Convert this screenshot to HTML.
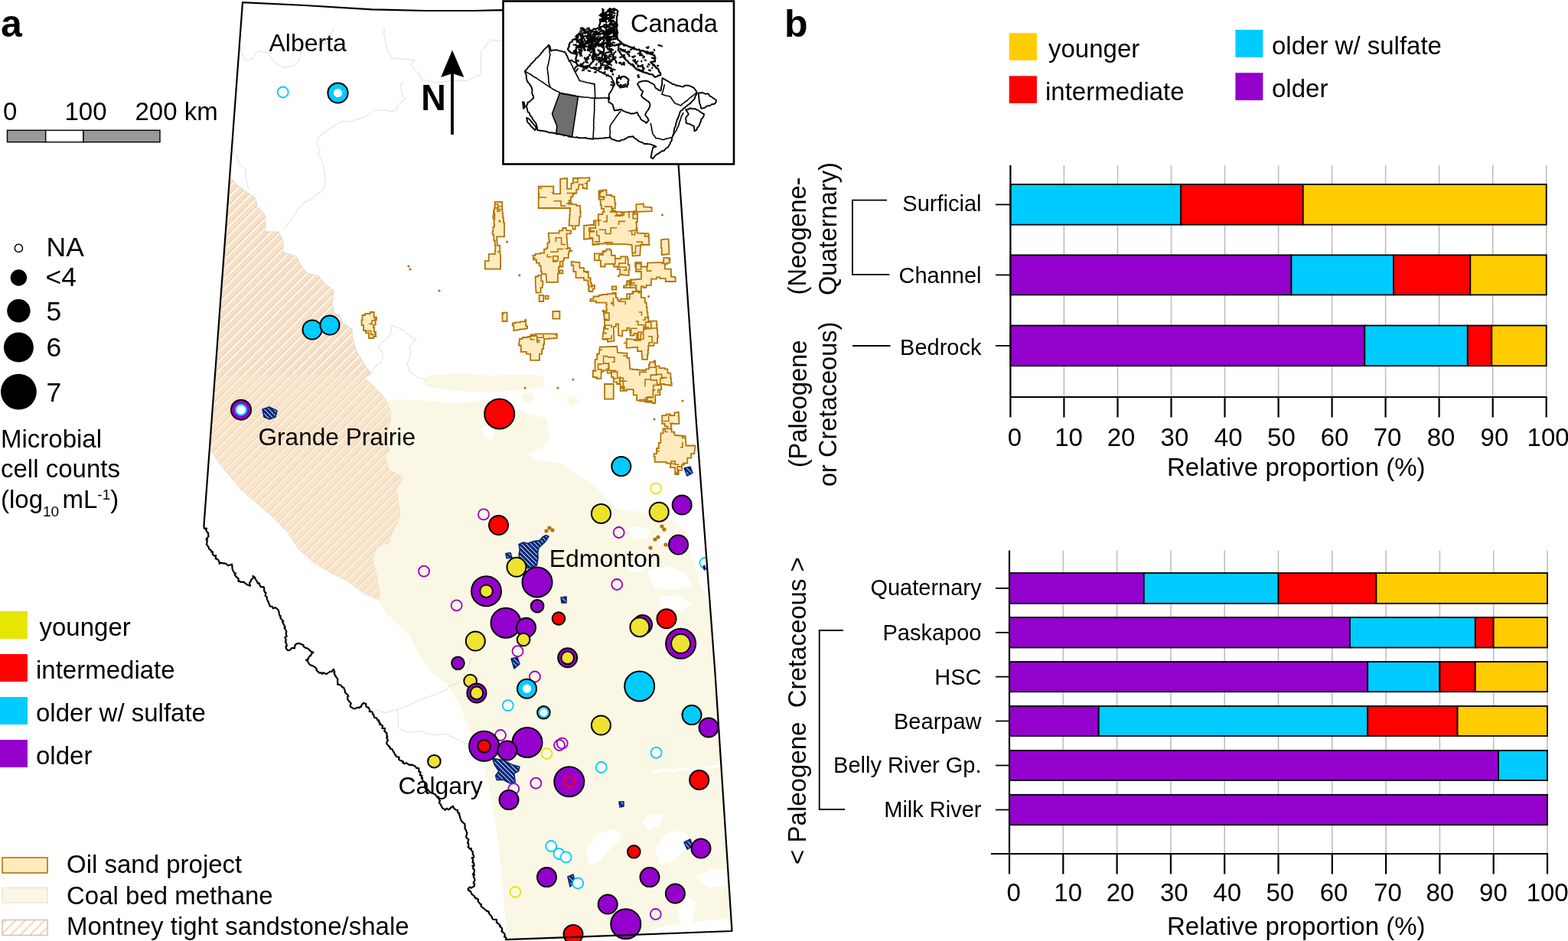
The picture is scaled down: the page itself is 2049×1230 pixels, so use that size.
<!DOCTYPE html>
<html><head><meta charset="utf-8"><title>Figure</title>
<style>html,body{margin:0;padding:0;background:#fff;} svg{display:block;}</style>
</head><body>
<svg width="2049" height="1230" viewBox="0 0 2049 1230" font-family="'Liberation Sans', Arial, Helvetica, sans-serif">
<defs>
<pattern id="hatch" patternUnits="userSpaceOnUse" width="8.9" height="8.9" patternTransform="rotate(45)"><rect width="8.9" height="8.9" fill="#FDDFC0"/><rect x="0" y="0" width="1.1" height="8.9" fill="#cfcbc5"/><rect x="1.1" y="0" width="1.8" height="8.9" fill="#ffffff"/></pattern>
<pattern id="hatchB" patternUnits="userSpaceOnUse" width="8.9" height="8.9" patternTransform="rotate(45)"><rect width="8.9" height="8.9" fill="#FCE3C5"/><rect x="0" y="0" width="1.1" height="8.9" fill="#d8d3c9"/><rect x="1.2" y="0" width="1.7" height="8.9" fill="#FCF6E6"/></pattern>
<pattern id="hatchleg" patternUnits="userSpaceOnUse" width="9" height="9" patternTransform="rotate(45)"><rect width="9" height="9" fill="#ffffff"/><rect x="0" y="0" width="2" height="9" fill="#F9D3B0"/></pattern>
<pattern id="navyhatch" patternUnits="userSpaceOnUse" width="4.2" height="4.2" patternTransform="rotate(-45)"><rect width="4.2" height="4.2" fill="#06287A"/><rect x="0" y="0" width="0.8" height="4.2" fill="#ffffff"/></pattern>
</defs>
<rect width="2049" height="1230" fill="#ffffff"/>
<polygon points="503.0,526.0 520.0,522.0 560.0,524.0 593.0,527.0 632.0,523.0 660.0,527.0 687.0,540.0 714.0,547.0 718.0,575.0 709.0,584.0 690.0,593.0 703.0,602.0 736.0,606.0 758.0,624.0 780.0,637.0 786.0,646.0 797.0,657.0 830.0,668.0 850.0,672.0 880.0,680.0 898.0,698.0 904.0,730.0 915.0,762.0 929.0,800.0 956.0,1217.0 663.0,1227.0 651.0,1100.0 645.0,1060.0 638.0,1023.0 625.0,985.0 612.0,951.0 600.0,920.0 586.0,896.0 566.0,880.0 550.0,860.0 544.0,848.0 536.0,831.0 506.0,803.0 495.0,786.0 496.4,778.4 492.2,753.5 486.7,731.4 492.2,714.8 508.8,709.3 511.6,698.2 522.6,676.1 519.8,651.2 517.1,640.2 526.8,623.6 508.8,615.3 503.3,595.9 508.8,587.6 503.0,575.0 510.0,551.0" fill="#FAF7E5" stroke="none"/>
<polygon points="552.0,500.0 560.0,490.0 600.0,488.0 640.0,491.0 680.0,489.0 711.0,491.0 711.0,505.0 690.0,509.0 660.0,511.0 640.0,513.0 600.0,511.0 575.0,508.0 560.0,506.0" fill="#FAF7E5" stroke="none"/>
<polygon points="683.0,515.0 695.0,513.0 700.0,522.0 690.0,528.0 682.0,524.0" fill="#FAF7E5" stroke="none"/>
<polygon points="740.0,520.0 752.0,517.0 756.0,526.0 745.0,530.0" fill="#FAF7E5" stroke="none"/>
<polygon points="630.0,560.0 640.0,555.0 648.0,562.0 642.0,575.0 633.0,572.0" fill="#ffffff" stroke="none"/>
<polygon points="800.0,650.0 815.0,646.0 835.0,652.0 832.0,665.0 815.0,668.0 802.0,662.0" fill="#ffffff" stroke="none"/>
<polygon points="870.0,662.0 885.0,660.0 900.0,666.0 895.0,676.0 875.0,676.0" fill="#ffffff" stroke="none"/>
<polygon points="820.0,690.0 835.0,688.0 850.0,694.0 845.0,705.0 826.0,704.0" fill="#ffffff" stroke="none"/>
<polygon points="855.0,700.0 870.0,698.0 886.0,704.0 880.0,712.0 860.0,712.0" fill="#ffffff" stroke="none"/>
<polygon points="845.0,745.0 870.0,740.0 895.0,748.0 905.0,765.0 880.0,772.0 855.0,768.0" fill="#ffffff" stroke="none"/>
<polygon points="860.0,780.0 885.0,778.0 905.0,790.0 890.0,798.0 865.0,795.0" fill="#ffffff" stroke="none"/>
<polygon points="820.0,735.0 838.0,730.0 850.0,740.0 835.0,748.0 822.0,746.0" fill="#ffffff" stroke="none"/>
<polygon points="765.0,1110.0 780.0,1090.0 800.0,1084.0 812.0,1088.0 808.0,1100.0 795.0,1112.0 785.0,1125.0 770.0,1131.0" fill="#ffffff" stroke="none"/>
<polygon points="839.0,1075.0 850.0,1064.0 866.0,1063.0 862.0,1078.0 848.0,1086.0" fill="#ffffff" stroke="none"/>
<polygon points="856.0,1110.0 870.0,1090.0 890.0,1085.0 902.0,1095.0 895.0,1112.0 880.0,1125.0 862.0,1130.0" fill="#ffffff" stroke="none"/>
<polygon points="910.0,1145.0 930.0,1137.0 948.0,1136.0 950.0,1158.0 925.0,1160.0" fill="#ffffff" stroke="none"/>
<polygon points="886.0,1190.0 900.0,1172.0 910.0,1180.0 905.0,1205.0 892.0,1215.0" fill="#ffffff" stroke="none"/>
<polygon points="833.0,1222.0 870.0,1210.0 910.0,1205.0 950.0,1200.0 955.0,1217.0 900.0,1221.0 860.0,1223.0" fill="#ffffff" stroke="none"/>
<polygon points="853.0,1008.0 866.0,1005.0 880.0,1006.0 895.0,1003.0 910.0,1004.0 925.0,1001.0 941.0,1000.0 941.0,1003.0 925.0,1004.0 910.0,1007.0 895.0,1006.0 880.0,1009.0 866.0,1008.0 853.0,1011.0" fill="#ffffff" stroke="none"/>
<polygon points="300.0,232.0 314.0,245.0 334.0,259.0 336.4,270.5 345.5,279.6 347.0,287.0 347.0,303.0 364.0,303.0 370.0,314.0 370.0,330.0 387.0,335.0 394.0,348.0 401.0,357.0 416.5,361.0 423.0,369.0 436.0,380.0 434.0,398.0 437.0,410.0 444.0,412.0 447.0,421.0 460.0,430.0 461.0,444.0 466.5,460.0 476.0,476.0 485.0,489.0 476.0,494.0 489.0,505.0 503.0,521.0 510.0,537.0 510.0,551.0 503.0,575.0 508.8,587.6 503.3,595.9 508.8,615.3 526.8,623.6 517.1,640.2 519.8,651.2 522.6,676.1 511.6,698.2 508.8,709.3 492.2,714.8 486.7,731.4 492.2,753.5 496.4,778.4 495.0,784.0 475.6,775.6 453.5,759.0 431.4,748.0 412.0,736.9 389.9,717.6 376.1,695.5 356.8,676.1 334.6,656.8 315.3,640.2 301.5,623.6 287.6,607.0 275.2,587.6 283.0,490.0 290.0,400.0 296.0,300.0" fill="url(#hatch)" stroke="#d8d0c8" stroke-width="0.8"/>
<clipPath id="mlow"><rect x="250" y="490" width="300" height="320"/></clipPath>
<polygon points="300.0,232.0 314.0,245.0 334.0,259.0 336.4,270.5 345.5,279.6 347.0,287.0 347.0,303.0 364.0,303.0 370.0,314.0 370.0,330.0 387.0,335.0 394.0,348.0 401.0,357.0 416.5,361.0 423.0,369.0 436.0,380.0 434.0,398.0 437.0,410.0 444.0,412.0 447.0,421.0 460.0,430.0 461.0,444.0 466.5,460.0 476.0,476.0 485.0,489.0 476.0,494.0 489.0,505.0 503.0,521.0 510.0,537.0 510.0,551.0 503.0,575.0 508.8,587.6 503.3,595.9 508.8,615.3 526.8,623.6 517.1,640.2 519.8,651.2 522.6,676.1 511.6,698.2 508.8,709.3 492.2,714.8 486.7,731.4 492.2,753.5 496.4,778.4 495.0,784.0 475.6,775.6 453.5,759.0 431.4,748.0 412.0,736.9 389.9,717.6 376.1,695.5 356.8,676.1 334.6,656.8 315.3,640.2 301.5,623.6 287.6,607.0 275.2,587.6 283.0,490.0 290.0,400.0 296.0,300.0" fill="url(#hatchB)" stroke="none" clip-path="url(#mlow)"/>
<polyline points="313.5,60.8 314.3,63.1 314.8,65.1 315.5,66.6 316.4,68.8 317.3,70.9 318.6,73.3 319.0,75.4 319.9,77.0 320.6,79.4 322.8,78.9 325.2,78.5 327.1,77.6 330.1,76.9 331.1,74.8 332.1,73.3 333.3,71.7 334.2,69.8 335.0,68.8 336.5,66.8 338.3,66.9 341.4,67.2 343.3,68.0 345.5,68.3 348.3,68.9 349.8,68.9 351.3,71.0 352.9,72.3 354.2,74.3 354.8,75.9 356.5,77.6 358.1,80.2 359.6,81.6 361.5,82.6 363.1,84.2 364.5,84.8 366.7,85.9 368.6,86.7 370.8,88.8 372.6,87.5 375.0,87.7 377.2,87.2 379.4,86.6 382.2,86.2 383.4,85.1 386.0,83.3 387.8,82.0 388.9,80.5 391.4,79.2 391.1,76.6 391.7,74.7 392.6,72.3 392.8,70.5 393.2,68.0 394.2,66.1 395.3,64.0 396.6,62.3 397.8,61.2 400.1,61.0 402.1,59.9 404.5,59.9 406.6,60.2 408.5,59.1 410.4,59.0 412.5,58.3 414.7,58.5 417.2,58.3 419.4,58.0 421.1,57.5 422.8,57.4 425.6,56.5 427.5,56.2 428.7,54.4 429.6,53.0 430.5,50.5 431.0,49.1 432.5,46.4 432.8,45.1 434.1,42.7 434.7,41.4 435.3,38.8 436.6,37.1" fill="none" stroke="#dcdcdc" stroke-width="1"/>
<polyline points="501.7,36.3 502.1,37.9 502.1,40.4 501.7,41.6 501.8,44.2 501.8,45.9 502.8,47.6 502.6,49.9 503.1,51.9 503.2,54.3 504.0,55.5 504.6,57.8 505.4,60.3 505.5,61.8 505.8,63.6 506.3,65.5 507.4,67.4 508.4,69.9 509.7,71.9 511.0,73.6 511.3,75.9 513.5,76.4 516.2,76.2 518.1,75.9 519.8,76.2 521.7,76.3 523.9,76.7 525.5,76.7 527.6,77.2 530.1,77.0 532.1,77.6 534.7,78.2 536.9,78.0 539.2,78.3 541.5,79.0 540.4,80.5 539.1,82.3 537.5,84.1 537.1,85.9 538.2,87.7 540.1,88.6 541.3,90.6 542.8,91.5 543.9,93.4 545.1,94.5 546.9,96.3 547.9,97.6 548.7,99.3 549.7,102.1 550.6,104.6 552.2,104.6 554.6,104.7 557.1,104.9 558.5,105.1 560.9,106.1 562.5,106.7 565.0,106.4 567.3,107.4 568.8,107.7 570.6,107.5 573.0,107.9 574.9,107.1 576.8,107.3 578.8,107.1 581.0,106.6 583.6,106.1 585.3,106.2 587.4,105.8 589.5,105.4 591.1,104.9 593.5,105.5 595.8,105.1 597.7,105.4 599.6,105.7 601.6,105.3 603.7,105.0 606.0,105.4 607.2,105.4 610.1,105.9 611.6,104.3 614.2,103.4 615.3,102.5 617.8,102.0 619.4,100.8 622.1,99.9 623.5,99.4 625.8,98.5 627.9,97.7 628.0,95.8 628.4,93.4 628.1,91.2 628.1,88.5 628.7,87.1 628.6,85.1 628.5,83.1 628.5,81.0 628.2,78.2 628.8,76.6 628.8,74.4 628.7,72.2 629.2,70.0 628.5,68.0 629.8,66.0 631.1,64.9 632.4,63.2 633.6,61.1 635.4,60.3 636.1,58.4 637.6,56.8 638.6,54.6 639.8,53.9 641.5,52.0 643.4,52.5 646.5,52.4 648.6,53.4 651.1,53.5 653.1,53.7 655.2,54.2" fill="none" stroke="#dcdcdc" stroke-width="1"/>
<polyline points="528.0,106.3 526.3,108.2 525.1,109.9 522.7,110.8 523.4,113.3 524.2,115.4 524.5,117.9 524.7,120.4 525.3,123.0 526.2,124.6 527.8,125.9 528.4,127.7 530.3,129.1 528.4,130.7 526.0,132.4 524.4,133.4 523.0,135.1 521.3,136.0 520.3,137.6 519.1,139.7 518.5,141.8 517.4,143.7 516.1,145.1 513.8,145.0 511.8,145.3 509.6,145.4 508.0,144.8 505.4,144.7 503.8,144.3 502.1,144.5 499.4,144.3 497.3,144.2 495.7,143.9 493.1,144.4 491.1,144.0 489.0,143.7 486.9,145.4 485.5,146.7 483.2,148.2 481.2,149.4 479.2,150.8 477.6,152.2 476.0,153.1 474.0,153.3 472.0,154.2 469.4,155.0 467.9,156.3 465.8,156.4 463.1,157.1 461.6,158.3 459.0,158.4 457.6,158.7 454.4,158.9 452.1,159.2 450.3,159.0 448.4,158.5 445.4,159.2 444.0,160.0 441.9,161.3 440.7,162.8 438.8,163.9 436.2,164.1 435.1,165.5 433.0,166.8 431.6,168.0 429.0,168.9 427.9,170.6 425.5,172.1 424.1,173.1 422.7,174.6 421.0,175.0 419.4,177.2 417.6,178.4 416.0,179.3 415.4,181.4 415.0,184.4 414.5,186.5 413.5,188.4 415.4,189.9 416.4,191.9 418.0,193.2 418.3,195.1 417.0,197.4 416.7,200.3 415.7,201.8 417.5,203.8 418.2,206.2 418.6,207.5 420.3,210.3 421.2,211.9 421.6,213.9 422.6,215.6 422.7,217.9 423.4,219.7 423.3,221.6 423.3,223.7 424.5,225.7 424.4,228.2 424.5,230.1 425.1,232.7 424.7,234.4 425.4,236.2 425.6,238.7 424.7,240.9 424.2,242.7 423.3,245.3 422.7,247.3 421.5,248.9 419.9,250.1 418.5,251.2 416.4,252.6 415.0,253.5 413.1,255.1 411.5,256.1 409.7,258.1 407.6,259.3 406.8,260.0 404.3,261.3 403.3,261.7 401.3,263.4 398.9,264.2 397.1,264.6 395.6,265.7 394.5,267.6 392.7,269.6 391.2,271.1 390.2,272.8 389.2,274.0 387.5,276.0 386.9,277.8 385.5,279.6 384.6,281.3 382.9,283.1 381.8,285.2 380.9,287.2 380.1,289.0 378.1,290.1 376.7,291.8 375.5,293.3 374.8,294.8 373.6,297.2 372.2,298.1 370.6,300.0" fill="none" stroke="#dcdcdc" stroke-width="1"/>
<polyline points="308.9,202.1 309.7,204.8 309.5,206.2 310.8,208.5 311.3,210.9 311.9,213.5 313.3,215.2 315.4,216.2 316.8,217.9 318.4,218.8 320.9,220.8 321.1,222.3 320.9,224.0 321.6,226.0 321.2,228.0 321.7,231.0 321.6,232.3 322.1,234.8 322.4,236.3 323.0,239.0 323.0,240.4 323.8,243.6 324.0,245.1 325.0,247.7" fill="none" stroke="#dcdcdc" stroke-width="1"/>
<polyline points="490.0,928.6 492.0,928.3 494.2,928.8 495.8,929.2 498.7,929.7 500.4,930.9 502.2,930.9 504.9,931.6 506.4,930.9 509.3,930.4 511.3,929.0 512.5,928.8 514.5,928.5 516.9,927.4 519.6,926.6 519.6,928.4 519.4,931.0 519.6,932.5 520.1,934.7 520.3,936.7 520.3,938.5 520.3,941.4 520.4,942.9 520.9,945.5 520.9,946.8 520.3,949.2 520.4,950.7 522.7,952.5 524.3,953.3 526.8,954.3 527.8,954.4 530.5,956.2 531.6,956.4 534.0,957.2 535.4,957.0 538.0,957.0 540.3,956.6 542.3,957.0 543.9,956.6 546.2,955.9 548.5,956.1 550.1,956.3 551.6,956.3 553.7,957.4 555.9,958.0 558.4,958.8 559.9,958.9 562.5,959.5 564.0,960.4 566.6,960.7 568.2,960.2 570.3,960.7 572.3,960.7 574.3,960.0 576.8,960.2 578.9,959.5 580.5,959.0 582.6,959.5 584.1,959.9 585.8,961.0 588.0,962.4 590.0,963.2 591.4,963.6 593.7,964.2 595.3,965.6 596.6,966.1 599.2,967.0 600.9,968.0 602.6,969.3 604.4,970.1 606.8,970.6 607.9,971.2 610.2,972.2" fill="none" stroke="#dcdcdc" stroke-width="1"/>
<polyline points="521.3,926.5 523.1,925.6 525.4,925.3 527.7,924.3 529.1,923.7 531.7,923.1 533.8,921.6 535.6,921.0 537.6,920.1 539.6,919.1 540.7,918.6 543.1,917.0 544.6,916.8 546.6,915.1 548.7,914.8 549.8,913.9 552.5,913.2 554.6,912.5 555.7,912.0 558.5,911.7 560.5,911.1 562.6,910.0 563.8,909.1 565.8,909.2 568.6,908.4 570.7,907.1 572.5,905.9 574.1,905.5 576.0,904.6 578.5,903.6 580.2,902.7 582.6,902.6 584.2,900.1 586.1,897.7 588.4,896.6 589.8,895.4 592.2,894.8 594.7,894.1 596.5,893.0 599.1,893.0 600.3,890.5 601.5,889.5 602.5,887.8 604.0,886.0 605.0,884.0 606.3,882.8 606.9,881.2 608.7,879.4 609.3,878.1 611.2,876.7 611.7,874.6 612.2,872.2 612.9,870.2 613.2,868.7 613.8,866.7 613.9,863.9 614.2,862.3 615.1,860.0" fill="none" stroke="#dcdcdc" stroke-width="1"/>
<polyline points="557.4,495.9 555.5,496.2 553.3,495.7 551.2,494.8 548.2,494.6 545.9,493.5 544.4,492.8 543.1,491.2 540.9,489.7 539.8,488.7 538.1,487.6 536.5,486.5 535.2,484.8 534.1,482.5 533.4,479.9 533.3,477.9 532.0,475.6 533.0,473.3 533.3,471.9 534.8,470.2 535.2,467.7 535.9,465.8 536.2,463.9 536.7,461.7 537.0,459.4 536.4,457.7 535.6,454.9 535.0,452.7 536.3,451.4 538.2,449.6 538.9,448.5 540.9,447.1 542.0,445.3 544.1,444.0 541.9,442.5 539.8,442.5 538.2,440.7 536.4,439.9 534.8,438.8 533.1,437.7 531.4,436.0 529.4,434.1 528.2,432.3 526.5,431.3 524.3,431.1 522.7,429.5 520.6,428.6 519.2,427.8 517.0,427.4 514.7,426.5 511.9,425.9 511.7,427.3 511.4,429.5 510.6,431.6 511.2,434.1 510.3,436.0 509.9,438.1 508.3,439.7 507.4,440.7 505.7,442.0 504.4,443.8 503.1,444.4 501.6,445.9 499.4,447.5 498.4,448.5 497.0,450.7 495.6,452.0 493.6,452.8 495.0,454.7 497.0,457.1 497.7,458.5 499.4,460.8 500.6,461.7 499.8,464.0 499.8,466.2 499.5,468.6 498.4,471.4 498.4,473.7 496.7,474.7 494.3,476.5 493.1,477.3 490.7,479.0 489.7,480.5 488.4,482.4 486.3,483.2 485.4,484.8 484.1,487.1 482.6,488.8 481.3,490.4 480.2,491.7" fill="none" stroke="#dcdcdc" stroke-width="1"/>
<clipPath id="oc0"><polygon points="647.3,263.9 656.1,263.9 656.6,278.5 657.1,278.5 657.1,281.6 657.1,284.7 657.6,284.7 658.0,284.7 658.0,287.8 658.0,290.9 658.5,290.9 659.0,290.9 659.0,294.0 659.0,294.0 659.0,309.4 651.7,309.4 649.3,309.4 649.3,314.3 649.3,314.3 650.1,320.8 653.3,320.8 653.3,325.7 653.3,325.7 653.3,330.6 654.1,333.8 654.1,351.7 633.8,351.7 633.8,341.1 638.7,341.1 638.7,332.2 646.8,332.2 647.6,320.8 646.8,320.8 646.8,317.6 646.8,314.3 646.0,314.3 646.0,314.3 645.2,314.3 645.2,310.5 645.2,306.7 644.4,306.7 643.6,306.7 643.6,302.9 643.6,302.9 644.4,302.9 644.4,299.7 644.4,296.4 645.2,296.4 646.0,296.4 646.0,293.2 646.0,293.2 645.5,293.2 645.5,289.4 645.5,285.6 644.9,285.6 644.4,285.6 644.4,281.8 644.4,281.8 644.9,281.8 644.9,278.5 644.9,275.3 645.5,275.3 646.0,275.3 646.0,272.0 646.0,272.0 646.6,272.0 646.6,267.9 646.6,263.9 647.3,263.9"/></clipPath>
<polygon points="647.3,263.9 656.1,263.9 656.6,278.5 657.1,278.5 657.1,281.6 657.1,284.7 657.6,284.7 658.0,284.7 658.0,287.8 658.0,290.9 658.5,290.9 659.0,290.9 659.0,294.0 659.0,294.0 659.0,309.4 651.7,309.4 649.3,309.4 649.3,314.3 649.3,314.3 650.1,320.8 653.3,320.8 653.3,325.7 653.3,325.7 653.3,330.6 654.1,333.8 654.1,351.7 633.8,351.7 633.8,341.1 638.7,341.1 638.7,332.2 646.8,332.2 647.6,320.8 646.8,320.8 646.8,317.6 646.8,314.3 646.0,314.3 646.0,314.3 645.2,314.3 645.2,310.5 645.2,306.7 644.4,306.7 643.6,306.7 643.6,302.9 643.6,302.9 644.4,302.9 644.4,299.7 644.4,296.4 645.2,296.4 646.0,296.4 646.0,293.2 646.0,293.2 645.5,293.2 645.5,289.4 645.5,285.6 644.9,285.6 644.4,285.6 644.4,281.8 644.4,281.8 644.9,281.8 644.9,278.5 644.9,275.3 645.5,275.3 646.0,275.3 646.0,272.0 646.0,272.0 646.6,272.0 646.6,267.9 646.6,263.9 647.3,263.9" fill="#FFEBBE" stroke="#B07406" stroke-width="1.8" stroke-linejoin="miter"/>
<g clip-path="url(#oc0)"><polyline points="649.5,329.0 657.9,329.0 657.9,321.5" fill="none" stroke="#B07406" stroke-width="1.6"/><polyline points="656.5,273.8 650.8,273.8 650.8,266.8 642.7,266.8 642.7,271.8 646.8,271.8" fill="none" stroke="#B07406" stroke-width="1.6"/><polyline points="653.9,276.1 650.0,276.1 650.0,271.6 640.2,271.6 640.2,262.5 645.4,262.5" fill="none" stroke="#B07406" stroke-width="1.6"/><polyline points="638.8,340.8 629.2,340.8 629.2,331.1 634.3,331.1" fill="none" stroke="#B07406" stroke-width="1.6"/><polyline points="642.9,278.5 646.4,278.5 646.4,287.2 639.2,287.2" fill="none" stroke="#B07406" stroke-width="1.6"/><polyline points="651.6,269.7 658.0,269.7 658.0,274.0 665.9,274.0 665.9,269.2" fill="none" stroke="#B07406" stroke-width="1.6"/><polyline points="657.5,347.2 660.6,347.2 660.6,352.8 654.4,352.8 654.4,345.4" fill="none" stroke="#B07406" stroke-width="1.6"/><polyline points="657.9,274.4 663.3,274.4 663.3,283.6 671.7,283.6" fill="none" stroke="#B07406" stroke-width="1.6"/></g>
<clipPath id="oc1"><polygon points="703.7,243.6 723.3,243.6 723.3,253.3 732.2,253.3 732.2,233.8 741.1,233.0 741.1,246.8 745.2,246.8 746.4,246.8 746.4,243.4 746.4,239.9 747.7,239.9 748.9,239.9 748.9,236.4 748.9,233.0 750.1,233.0 750.1,233.0 770.4,232.2 770.4,236.3 767.2,237.1 767.2,246.8 763.1,246.0 761.5,246.0 761.5,241.1 761.5,241.1 756.6,241.1 755.8,247.6 753.3,247.6 753.3,252.5 753.3,252.5 750.1,252.5 750.1,254.1 750.1,254.1 748.5,254.1 748.5,257.4 748.5,257.4 746.0,257.4 746.0,262.3 746.0,262.3 743.6,262.3 743.6,264.7 743.6,264.7 746.9,264.7 746.9,265.9 746.9,267.2 750.1,267.2 750.1,267.2 753.4,267.2 753.4,268.0 753.4,268.8 756.6,268.8 756.6,268.8 758.2,268.8 758.2,272.9 758.2,276.9 759.8,276.9 759.8,276.9 758.6,276.9 758.6,280.1 758.6,283.4 757.4,283.4 757.4,283.4 756.6,294.8 751.7,294.8 751.7,299.7 751.7,299.7 748.5,299.7 748.5,294.8 748.5,294.8 743.6,294.8 743.6,293.2 743.6,293.2 743.8,293.2 743.8,290.2 743.8,287.1 744.1,287.1 744.3,287.1 744.3,284.1 744.3,281.1 744.5,281.1 744.7,281.1 744.7,278.1 744.7,275.0 745.0,275.0 745.2,275.0 745.2,272.0 745.2,272.0 725.7,272.0 703.7,272.0"/></clipPath>
<polygon points="703.7,243.6 723.3,243.6 723.3,253.3 732.2,253.3 732.2,233.8 741.1,233.0 741.1,246.8 745.2,246.8 746.4,246.8 746.4,243.4 746.4,239.9 747.7,239.9 748.9,239.9 748.9,236.4 748.9,233.0 750.1,233.0 750.1,233.0 770.4,232.2 770.4,236.3 767.2,237.1 767.2,246.8 763.1,246.0 761.5,246.0 761.5,241.1 761.5,241.1 756.6,241.1 755.8,247.6 753.3,247.6 753.3,252.5 753.3,252.5 750.1,252.5 750.1,254.1 750.1,254.1 748.5,254.1 748.5,257.4 748.5,257.4 746.0,257.4 746.0,262.3 746.0,262.3 743.6,262.3 743.6,264.7 743.6,264.7 746.9,264.7 746.9,265.9 746.9,267.2 750.1,267.2 750.1,267.2 753.4,267.2 753.4,268.0 753.4,268.8 756.6,268.8 756.6,268.8 758.2,268.8 758.2,272.9 758.2,276.9 759.8,276.9 759.8,276.9 758.6,276.9 758.6,280.1 758.6,283.4 757.4,283.4 757.4,283.4 756.6,294.8 751.7,294.8 751.7,299.7 751.7,299.7 748.5,299.7 748.5,294.8 748.5,294.8 743.6,294.8 743.6,293.2 743.6,293.2 743.8,293.2 743.8,290.2 743.8,287.1 744.1,287.1 744.3,287.1 744.3,284.1 744.3,281.1 744.5,281.1 744.7,281.1 744.7,278.1 744.7,275.0 745.0,275.0 745.2,275.0 745.2,272.0 745.2,272.0 725.7,272.0 703.7,272.0" fill="#FFEBBE" stroke="#B07406" stroke-width="1.8" stroke-linejoin="miter"/>
<g clip-path="url(#oc1)"><polyline points="710.9,282.7 714.2,282.7 714.2,278.3 723.6,278.3 723.6,283.2" fill="none" stroke="#B07406" stroke-width="1.6"/><polyline points="750.6,238.4 754.8,238.4 754.8,231.0 764.8,231.0 764.8,223.0" fill="none" stroke="#B07406" stroke-width="1.6"/><polyline points="709.1,272.7 704.4,272.7 704.4,281.5 712.0,281.5 712.0,278.1 703.4,278.1" fill="none" stroke="#B07406" stroke-width="1.6"/><polyline points="726.0,246.2 729.7,246.2 729.7,251.8 720.8,251.8" fill="none" stroke="#B07406" stroke-width="1.6"/><polyline points="723.4,262.8 733.1,262.8 733.1,269.1 739.4,269.1" fill="none" stroke="#B07406" stroke-width="1.6"/><polyline points="763.9,239.8 772.9,239.8 772.9,236.2 779.5,236.2" fill="none" stroke="#B07406" stroke-width="1.6"/><polyline points="740.3,266.1 748.1,266.1 748.1,257.8" fill="none" stroke="#B07406" stroke-width="1.6"/><polyline points="727.9,279.8 732.8,279.8 732.8,289.4 740.3,289.4 740.3,283.1" fill="none" stroke="#B07406" stroke-width="1.6"/><polyline points="755.3,254.2 760.3,254.2 760.3,259.6 768.5,259.6 768.5,265.1" fill="none" stroke="#B07406" stroke-width="1.6"/><polyline points="759.9,290.9 769.6,290.9 769.6,284.2 765.2,284.2 765.2,293.8 770.2,293.8" fill="none" stroke="#B07406" stroke-width="1.6"/><polyline points="709.0,277.5 701.6,277.5 701.6,282.6 709.7,282.6 709.7,278.2 717.1,278.2" fill="none" stroke="#B07406" stroke-width="1.6"/><polyline points="715.8,283.4 705.9,283.4 705.9,279.3 702.1,279.3" fill="none" stroke="#B07406" stroke-width="1.6"/><polyline points="768.3,264.8 774.5,264.8 774.5,272.4" fill="none" stroke="#B07406" stroke-width="1.6"/><polyline points="708.5,246.0 703.0,246.0 703.0,255.0 695.2,255.0 695.2,264.7" fill="none" stroke="#B07406" stroke-width="1.6"/><polyline points="740.4,252.5 750.0,252.5 750.0,262.3 744.1,262.3 744.1,268.5" fill="none" stroke="#B07406" stroke-width="1.6"/><polyline points="714.2,258.0 704.4,258.0 704.4,252.6 698.7,252.6 698.7,259.5 693.4,259.5" fill="none" stroke="#B07406" stroke-width="1.6"/><polyline points="762.2,270.3 772.0,270.3 772.0,275.3 777.7,275.3 777.7,268.2 785.9,268.2" fill="none" stroke="#B07406" stroke-width="1.6"/></g>
<clipPath id="oc2"><polygon points="782.6,249.3 789.3,248.5 792.5,248.5 792.5,251.8 792.5,255.0 795.6,255.0 795.6,255.0 799.2,255.0 799.2,255.8 799.2,256.6 802.9,256.6 802.9,256.6 803.7,265.5 805.4,266.3 803.8,266.3 803.8,269.3 803.8,272.3 802.1,272.3 800.5,272.3 800.5,275.3 800.5,275.3 804.3,275.3 804.3,276.1 804.3,276.9 808.1,276.9 811.9,276.9 811.9,277.7 811.9,277.7 815.1,277.7 815.1,277.4 815.1,277.2 818.4,277.2 821.6,277.2 821.6,276.9 821.6,276.6 824.9,276.6 828.1,276.6 828.1,276.4 828.1,276.1 831.4,276.1 831.4,276.1 831.4,267.2 841.1,266.3 841.1,270.4 851.7,271.2 851.7,276.1 833.0,276.9 833.0,289.9 831.4,289.9 831.4,291.5 831.4,291.5 831.8,291.5 831.8,294.8 831.8,298.1 832.2,298.1 832.6,298.1 832.6,301.3 832.6,304.6 833.0,304.6 833.0,304.6 847.6,305.4 848.5,320.0 837.1,320.0 836.3,333.8 826.5,334.6 825.7,320.0 816.7,319.2 797.2,319.2 792.4,319.2 792.4,317.6 792.4,317.6 789.1,317.6 789.1,318.1 789.1,318.6 785.9,318.6 782.6,318.6 782.6,319.0 782.6,319.5 779.4,319.5 776.1,319.5 776.1,320.0 776.1,320.0 774.5,320.0 774.5,315.9 774.5,311.9 772.8,311.9 772.8,311.9 763.1,312.7 763.1,294.8 772.8,294.0 776.0,294.0 776.0,291.1 776.0,288.3 779.3,288.3 779.3,288.3 781.8,288.3 781.8,284.2 781.8,280.2 784.2,280.2 784.2,280.2 787.5,280.2 787.5,278.5 787.5,276.9 790.7,276.9 790.7,276.9 789.1,276.9 789.1,272.8 789.1,272.8 785.8,272.8 785.8,268.0 785.8,268.0 784.7,268.0 784.7,264.5 784.7,260.9 783.7,260.9 782.6,260.9 782.6,257.4 782.6,257.4"/></clipPath>
<polygon points="782.6,249.3 789.3,248.5 792.5,248.5 792.5,251.8 792.5,255.0 795.6,255.0 795.6,255.0 799.2,255.0 799.2,255.8 799.2,256.6 802.9,256.6 802.9,256.6 803.7,265.5 805.4,266.3 803.8,266.3 803.8,269.3 803.8,272.3 802.1,272.3 800.5,272.3 800.5,275.3 800.5,275.3 804.3,275.3 804.3,276.1 804.3,276.9 808.1,276.9 811.9,276.9 811.9,277.7 811.9,277.7 815.1,277.7 815.1,277.4 815.1,277.2 818.4,277.2 821.6,277.2 821.6,276.9 821.6,276.6 824.9,276.6 828.1,276.6 828.1,276.4 828.1,276.1 831.4,276.1 831.4,276.1 831.4,267.2 841.1,266.3 841.1,270.4 851.7,271.2 851.7,276.1 833.0,276.9 833.0,289.9 831.4,289.9 831.4,291.5 831.4,291.5 831.8,291.5 831.8,294.8 831.8,298.1 832.2,298.1 832.6,298.1 832.6,301.3 832.6,304.6 833.0,304.6 833.0,304.6 847.6,305.4 848.5,320.0 837.1,320.0 836.3,333.8 826.5,334.6 825.7,320.0 816.7,319.2 797.2,319.2 792.4,319.2 792.4,317.6 792.4,317.6 789.1,317.6 789.1,318.1 789.1,318.6 785.9,318.6 782.6,318.6 782.6,319.0 782.6,319.5 779.4,319.5 776.1,319.5 776.1,320.0 776.1,320.0 774.5,320.0 774.5,315.9 774.5,311.9 772.8,311.9 772.8,311.9 763.1,312.7 763.1,294.8 772.8,294.0 776.0,294.0 776.0,291.1 776.0,288.3 779.3,288.3 779.3,288.3 781.8,288.3 781.8,284.2 781.8,280.2 784.2,280.2 784.2,280.2 787.5,280.2 787.5,278.5 787.5,276.9 790.7,276.9 790.7,276.9 789.1,276.9 789.1,272.8 789.1,272.8 785.8,272.8 785.8,268.0 785.8,268.0 784.7,268.0 784.7,264.5 784.7,260.9 783.7,260.9 782.6,260.9 782.6,257.4 782.6,257.4" fill="#FFEBBE" stroke="#B07406" stroke-width="1.8" stroke-linejoin="miter"/>
<g clip-path="url(#oc2)"><polyline points="789.8,270.1 799.4,270.1 799.4,276.6" fill="none" stroke="#B07406" stroke-width="1.6"/><polyline points="788.5,289.6 793.2,289.6 793.2,281.1" fill="none" stroke="#B07406" stroke-width="1.6"/><polyline points="836.4,249.6 826.8,249.6 826.8,244.9 835.7,244.9 835.7,250.0" fill="none" stroke="#B07406" stroke-width="1.6"/><polyline points="817.0,289.4 808.6,289.4 808.6,294.3" fill="none" stroke="#B07406" stroke-width="1.6"/><polyline points="825.8,301.3 831.3,301.3 831.3,298.1" fill="none" stroke="#B07406" stroke-width="1.6"/><polyline points="785.5,287.7 782.4,287.7 782.4,294.9" fill="none" stroke="#B07406" stroke-width="1.6"/><polyline points="824.1,330.6 830.5,330.6 830.5,321.3 839.3,321.3 839.3,316.2 831.4,316.2" fill="none" stroke="#B07406" stroke-width="1.6"/><polyline points="801.4,273.2 805.4,273.2 805.4,281.0 815.3,281.0 815.3,275.0 811.8,275.0" fill="none" stroke="#B07406" stroke-width="1.6"/><polyline points="783.5,319.1 778.1,319.1 778.1,328.9" fill="none" stroke="#B07406" stroke-width="1.6"/><polyline points="851.6,308.9 842.7,308.9 842.7,301.6" fill="none" stroke="#B07406" stroke-width="1.6"/><polyline points="836.1,258.1 844.1,258.1 844.1,262.1 838.2,262.1" fill="none" stroke="#B07406" stroke-width="1.6"/><polyline points="777.4,302.1 769.8,302.1 769.8,297.1" fill="none" stroke="#B07406" stroke-width="1.6"/><polyline points="813.7,258.7 810.6,258.7 810.6,253.5 817.1,253.5 817.1,262.9 809.2,262.9" fill="none" stroke="#B07406" stroke-width="1.6"/><polyline points="776.5,302.9 771.6,302.9 771.6,298.1 778.3,298.1 778.3,289.4" fill="none" stroke="#B07406" stroke-width="1.6"/><polyline points="839.6,287.5 835.7,287.5 835.7,279.9 828.7,279.9 828.7,276.3 822.1,276.3" fill="none" stroke="#B07406" stroke-width="1.6"/><polyline points="803.3,282.1 813.0,282.1 813.0,273.5 806.2,273.5 806.2,276.9 796.6,276.9" fill="none" stroke="#B07406" stroke-width="1.6"/><polyline points="801.1,316.9 791.3,316.9 791.3,325.6" fill="none" stroke="#B07406" stroke-width="1.6"/><polyline points="775.5,302.3 770.5,302.3 770.5,310.9 774.4,310.9 774.4,318.4" fill="none" stroke="#B07406" stroke-width="1.6"/><polyline points="834.4,285.8 827.2,285.8 827.2,277.6 830.7,277.6 830.7,274.4" fill="none" stroke="#B07406" stroke-width="1.6"/><polyline points="781.0,251.9 784.0,251.9 784.0,257.0 789.3,257.0 789.3,260.7 781.7,260.7" fill="none" stroke="#B07406" stroke-width="1.6"/><polyline points="769.4,323.3 762.5,323.3 762.5,318.4 754.3,318.4 754.3,315.2 748.9,315.2" fill="none" stroke="#B07406" stroke-width="1.6"/><polyline points="829.7,275.7 822.0,275.7 822.0,284.7" fill="none" stroke="#B07406" stroke-width="1.6"/><polyline points="776.9,316.1 783.1,316.1 783.1,308.0 779.9,308.0 779.9,301.0" fill="none" stroke="#B07406" stroke-width="1.6"/><polyline points="821.3,301.7 825.6,301.7 825.6,306.7 829.7,306.7 829.7,302.4" fill="none" stroke="#B07406" stroke-width="1.6"/><polyline points="781.6,252.3 784.6,252.3 784.6,246.1 788.8,246.1 788.8,239.3 798.4,239.3" fill="none" stroke="#B07406" stroke-width="1.6"/><polyline points="826.6,268.9 817.0,268.9 817.0,261.1 810.6,261.1 810.6,257.8 816.7,257.8" fill="none" stroke="#B07406" stroke-width="1.6"/><polyline points="819.8,323.8 812.0,323.8 812.0,328.2 808.4,328.2" fill="none" stroke="#B07406" stroke-width="1.6"/><polyline points="790.9,257.8 781.9,257.8 781.9,250.4 788.7,250.4" fill="none" stroke="#B07406" stroke-width="1.6"/><polyline points="806.2,297.7 798.1,297.7 798.1,305.5 791.2,305.5 791.2,300.3 782.8,300.3" fill="none" stroke="#B07406" stroke-width="1.6"/></g>
<clipPath id="oc3"><polygon points="716.7,304.6 725.7,304.6 730.6,304.6 730.6,301.3 730.6,301.3 735.4,301.3 735.4,298.0 735.4,298.0 739.5,298.0 740.3,301.3 746.0,301.3 746.0,305.4 740.3,305.4 741.1,315.9 742.0,324.1 745.2,324.1 745.2,326.1 745.2,328.1 748.5,328.1 748.5,328.1 743.6,328.1 743.6,330.6 743.6,330.6 742.8,330.6 742.8,333.9 742.8,337.1 742.0,337.1 742.0,337.1 737.1,337.1 737.1,340.3 737.1,340.3 735.5,340.3 735.5,344.4 735.5,348.5 733.8,348.5 733.8,348.5 730.6,348.5 730.6,350.1 730.6,350.1 730.0,350.1 730.0,353.9 730.0,357.7 729.5,357.7 728.9,357.7 728.9,361.5 728.9,361.5 728.9,368.8 714.3,368.8 713.5,358.2 707.8,358.2 707.8,355.0 707.8,355.0 706.7,355.0 706.7,351.2 706.7,347.4 705.7,347.4 704.6,347.4 704.6,343.6 704.6,343.6 700.9,343.6 700.9,341.6 700.9,339.5 697.2,339.5 697.2,339.5 696.4,333.8 699.7,333.8 699.7,332.7 699.7,331.7 702.9,331.7 706.2,331.7 706.2,330.6 706.2,330.6 711.1,330.6 711.1,325.7 711.1,325.7 714.3,325.7 714.3,324.1 714.3,324.1 715.4,324.1 715.4,320.8 715.4,317.6 716.5,317.6 717.6,317.6 717.6,314.3 717.6,314.3"/></clipPath>
<polygon points="716.7,304.6 725.7,304.6 730.6,304.6 730.6,301.3 730.6,301.3 735.4,301.3 735.4,298.0 735.4,298.0 739.5,298.0 740.3,301.3 746.0,301.3 746.0,305.4 740.3,305.4 741.1,315.9 742.0,324.1 745.2,324.1 745.2,326.1 745.2,328.1 748.5,328.1 748.5,328.1 743.6,328.1 743.6,330.6 743.6,330.6 742.8,330.6 742.8,333.9 742.8,337.1 742.0,337.1 742.0,337.1 737.1,337.1 737.1,340.3 737.1,340.3 735.5,340.3 735.5,344.4 735.5,348.5 733.8,348.5 733.8,348.5 730.6,348.5 730.6,350.1 730.6,350.1 730.0,350.1 730.0,353.9 730.0,357.7 729.5,357.7 728.9,357.7 728.9,361.5 728.9,361.5 728.9,368.8 714.3,368.8 713.5,358.2 707.8,358.2 707.8,355.0 707.8,355.0 706.7,355.0 706.7,351.2 706.7,347.4 705.7,347.4 704.6,347.4 704.6,343.6 704.6,343.6 700.9,343.6 700.9,341.6 700.9,339.5 697.2,339.5 697.2,339.5 696.4,333.8 699.7,333.8 699.7,332.7 699.7,331.7 702.9,331.7 706.2,331.7 706.2,330.6 706.2,330.6 711.1,330.6 711.1,325.7 711.1,325.7 714.3,325.7 714.3,324.1 714.3,324.1 715.4,324.1 715.4,320.8 715.4,317.6 716.5,317.6 717.6,317.6 717.6,314.3 717.6,314.3" fill="#FFEBBE" stroke="#B07406" stroke-width="1.8" stroke-linejoin="miter"/>
<g clip-path="url(#oc3)"><polyline points="710.1,326.5 703.4,326.5 703.4,331.2 694.8,331.2" fill="none" stroke="#B07406" stroke-width="1.6"/><polyline points="746.8,345.2 740.4,345.2 740.4,341.8 731.8,341.8 731.8,351.0" fill="none" stroke="#B07406" stroke-width="1.6"/><polyline points="700.1,352.5 690.9,352.5 690.9,345.5 694.9,345.5 694.9,337.4 699.8,337.4" fill="none" stroke="#B07406" stroke-width="1.6"/><polyline points="738.7,325.1 742.2,325.1 742.2,321.1 749.9,321.1" fill="none" stroke="#B07406" stroke-width="1.6"/><polyline points="711.3,302.5 707.4,302.5 707.4,293.7" fill="none" stroke="#B07406" stroke-width="1.6"/><polyline points="719.1,316.3 712.4,316.3 712.4,310.7" fill="none" stroke="#B07406" stroke-width="1.6"/><polyline points="713.6,298.9 708.7,298.9 708.7,291.5 702.6,291.5" fill="none" stroke="#B07406" stroke-width="1.6"/><polyline points="745.3,354.3 750.5,354.3 750.5,348.0" fill="none" stroke="#B07406" stroke-width="1.6"/><polyline points="719.0,329.3 728.8,329.3 728.8,325.5 736.6,325.5" fill="none" stroke="#B07406" stroke-width="1.6"/><polyline points="707.2,298.1 715.1,298.1 715.1,303.8 710.7,303.8" fill="none" stroke="#B07406" stroke-width="1.6"/><polyline points="739.2,319.5 733.6,319.5 733.6,310.8 726.3,310.8 726.3,316.2" fill="none" stroke="#B07406" stroke-width="1.6"/><polyline points="703.8,314.9 700.2,314.9 700.2,318.6 709.5,318.6 709.5,310.0 715.8,310.0" fill="none" stroke="#B07406" stroke-width="1.6"/><polyline points="720.9,335.8 715.3,335.8 715.3,332.1" fill="none" stroke="#B07406" stroke-width="1.6"/><polyline points="727.9,342.0 722.7,342.0 722.7,334.7 729.2,334.7 729.2,340.8 722.5,340.8" fill="none" stroke="#B07406" stroke-width="1.6"/></g>
<clipPath id="oc4"><polygon points="699.7,361.5 703.0,361.5 703.0,360.6 703.0,359.8 706.2,359.8 706.2,359.8 707.3,359.8 707.3,363.6 707.3,367.4 708.3,367.4 709.4,367.4 709.4,371.2 709.4,371.2 708.6,376.1 706.6,376.1 706.6,379.4 706.6,382.6 704.6,382.6 704.6,382.6 700.5,382.6 700.5,381.0 700.5,381.0 699.7,371.2"/></clipPath>
<polygon points="699.7,361.5 703.0,361.5 703.0,360.6 703.0,359.8 706.2,359.8 706.2,359.8 707.3,359.8 707.3,363.6 707.3,367.4 708.3,367.4 709.4,367.4 709.4,371.2 709.4,371.2 708.6,376.1 706.6,376.1 706.6,379.4 706.6,382.6 704.6,382.6 704.6,382.6 700.5,382.6 700.5,381.0 700.5,381.0 699.7,371.2" fill="#FFEBBE" stroke="#B07406" stroke-width="1.8" stroke-linejoin="miter"/>
<clipPath id="oc5"><polygon points="746.8,342.0 755.0,342.8 757.4,342.8 757.4,346.5 757.4,350.1 759.8,350.1 759.8,350.1 763.0,350.1 763.0,352.6 763.0,355.0 766.3,355.0 766.3,355.0 768.8,355.0 768.8,359.1 768.8,363.1 771.2,363.1 771.2,363.1 771.7,363.1 771.7,366.3 771.7,369.6 772.3,369.6 772.8,369.6 772.8,372.8 772.8,372.8 776.9,372.8 776.9,377.7 776.9,377.7 774.5,377.7 774.5,381.0 774.5,381.0 769.6,381.0 769.6,378.5 769.6,378.5 769.2,378.5 769.2,375.4 769.2,372.4 768.8,372.4 768.4,372.4 768.4,369.4 768.4,366.3 768.0,366.3 768.0,366.3 763.1,366.3 763.1,363.1 763.1,363.1 755.0,363.1 752.5,363.1 752.5,359.1 752.5,355.0 750.1,355.0 750.1,355.0 749.3,355.0 749.3,350.9 749.3,346.8 748.5,346.8 748.5,346.8 746.8,346.8 746.8,342.0"/></clipPath>
<polygon points="746.8,342.0 755.0,342.8 757.4,342.8 757.4,346.5 757.4,350.1 759.8,350.1 759.8,350.1 763.0,350.1 763.0,352.6 763.0,355.0 766.3,355.0 766.3,355.0 768.8,355.0 768.8,359.1 768.8,363.1 771.2,363.1 771.2,363.1 771.7,363.1 771.7,366.3 771.7,369.6 772.3,369.6 772.8,369.6 772.8,372.8 772.8,372.8 776.9,372.8 776.9,377.7 776.9,377.7 774.5,377.7 774.5,381.0 774.5,381.0 769.6,381.0 769.6,378.5 769.6,378.5 769.2,378.5 769.2,375.4 769.2,372.4 768.8,372.4 768.4,372.4 768.4,369.4 768.4,366.3 768.0,366.3 768.0,366.3 763.1,366.3 763.1,363.1 763.1,363.1 755.0,363.1 752.5,363.1 752.5,359.1 752.5,355.0 750.1,355.0 750.1,355.0 749.3,355.0 749.3,350.9 749.3,346.8 748.5,346.8 748.5,346.8 746.8,346.8 746.8,342.0" fill="#FFEBBE" stroke="#B07406" stroke-width="1.8" stroke-linejoin="miter"/>
<g clip-path="url(#oc5)"><polyline points="770.8,356.1 765.9,356.1 765.9,353.0" fill="none" stroke="#B07406" stroke-width="1.6"/><polyline points="770.1,365.8 779.9,365.8 779.9,360.9 776.4,360.9 776.4,353.2 785.6,353.2" fill="none" stroke="#B07406" stroke-width="1.6"/><polyline points="767.5,374.7 774.1,374.7 774.1,370.0 779.9,370.0" fill="none" stroke="#B07406" stroke-width="1.6"/><polyline points="746.9,357.2 737.5,357.2 737.5,362.9 728.6,362.9" fill="none" stroke="#B07406" stroke-width="1.6"/></g>
<clipPath id="oc6"><polygon points="776.1,331.4 782.6,331.4 787.5,331.4 787.5,328.1 787.5,328.1 792.4,328.1 792.4,325.7 792.4,325.7 797.2,325.7 797.2,327.3 797.2,327.3 798.9,327.3 798.9,330.6 798.9,333.8 800.5,333.8 800.5,333.8 803.8,333.8 803.8,335.9 803.8,337.9 807.0,337.9 807.0,337.9 811.0,337.9 811.0,336.6 811.0,335.4 815.1,335.4 815.1,335.4 820.0,335.4 820.0,338.7 820.0,338.7 820.8,338.7 820.8,342.4 820.8,346.0 821.6,346.0 822.5,346.0 822.5,349.6 822.5,353.3 823.3,353.3 823.3,353.3 821.6,353.3 821.6,356.6 821.6,359.8 820.0,359.8 820.0,359.8 811.9,359.0 810.3,359.0 810.3,355.5 810.3,352.0 808.6,352.0 807.0,352.0 807.0,348.5 807.0,348.5 802.1,348.5 802.1,345.2 802.1,345.2 795.6,345.2 790.7,345.2 790.7,348.5 790.7,348.5 785.8,348.5 785.0,348.5 785.0,344.4 785.0,340.3 784.2,340.3 784.2,340.3 777.7,340.3 776.9,340.3 776.9,335.9 776.9,331.4 776.1,331.4"/></clipPath>
<polygon points="776.1,331.4 782.6,331.4 787.5,331.4 787.5,328.1 787.5,328.1 792.4,328.1 792.4,325.7 792.4,325.7 797.2,325.7 797.2,327.3 797.2,327.3 798.9,327.3 798.9,330.6 798.9,333.8 800.5,333.8 800.5,333.8 803.8,333.8 803.8,335.9 803.8,337.9 807.0,337.9 807.0,337.9 811.0,337.9 811.0,336.6 811.0,335.4 815.1,335.4 815.1,335.4 820.0,335.4 820.0,338.7 820.0,338.7 820.8,338.7 820.8,342.4 820.8,346.0 821.6,346.0 822.5,346.0 822.5,349.6 822.5,353.3 823.3,353.3 823.3,353.3 821.6,353.3 821.6,356.6 821.6,359.8 820.0,359.8 820.0,359.8 811.9,359.0 810.3,359.0 810.3,355.5 810.3,352.0 808.6,352.0 807.0,352.0 807.0,348.5 807.0,348.5 802.1,348.5 802.1,345.2 802.1,345.2 795.6,345.2 790.7,345.2 790.7,348.5 790.7,348.5 785.8,348.5 785.0,348.5 785.0,344.4 785.0,340.3 784.2,340.3 784.2,340.3 777.7,340.3 776.9,340.3 776.9,335.9 776.9,331.4 776.1,331.4" fill="#FFEBBE" stroke="#B07406" stroke-width="1.8" stroke-linejoin="miter"/>
<g clip-path="url(#oc6)"><polyline points="818.1,349.2 808.9,349.2 808.9,344.1 817.4,344.1 817.4,334.8" fill="none" stroke="#B07406" stroke-width="1.6"/><polyline points="784.0,347.3 776.4,347.3 776.4,353.2 782.8,353.2" fill="none" stroke="#B07406" stroke-width="1.6"/><polyline points="804.2,334.0 807.8,334.0 807.8,338.3 803.8,338.3 803.8,345.3 797.8,345.3" fill="none" stroke="#B07406" stroke-width="1.6"/><polyline points="791.5,329.2 788.1,329.2 788.1,333.2 782.8,333.2 782.8,340.7" fill="none" stroke="#B07406" stroke-width="1.6"/><polyline points="819.8,333.5 816.8,333.5 816.8,329.7 820.9,329.7 820.9,322.7 829.0,322.7" fill="none" stroke="#B07406" stroke-width="1.6"/><polyline points="814.6,353.1 818.4,353.1 818.4,348.7" fill="none" stroke="#B07406" stroke-width="1.6"/></g>
<clipPath id="oc7"><polygon points="829.8,342.8 837.9,342.8 837.9,348.5 846.0,348.5 846.0,343.6 867.2,342.8 867.2,337.1 875.3,337.1 875.3,343.6 872.0,343.6 872.0,344.4 872.0,345.2 868.8,345.2 868.8,345.2 868.8,351.7 876.9,351.7 876.9,361.5 882.6,362.3 882.6,368.0 873.6,368.0 869.8,368.0 869.8,366.1 869.8,364.2 866.1,364.2 862.3,364.2 862.3,362.3 862.3,362.3 858.2,362.3 858.2,363.5 858.2,364.7 854.1,364.7 854.1,364.7 850.9,364.7 850.9,368.8 850.9,372.8 847.6,372.8 847.6,372.8 844.4,372.8 844.4,376.1 844.4,376.1 841.1,376.1 841.1,375.3 841.1,374.5 837.9,374.5 837.9,374.5 837.9,381.0 831.4,380.2 830.6,376.1 815.1,376.1 815.1,373.7 818.4,373.7 818.4,372.9 818.4,372.0 821.6,372.0 821.6,372.0 819.2,372.0 819.2,367.2 819.2,367.2 823.7,367.2 823.7,366.4 823.7,365.5 828.1,365.5 828.1,365.5 837.9,364.7 837.9,355.0 831.4,355.0 831.0,355.0 831.0,351.9 831.0,348.9 830.6,348.9 830.2,348.9 830.2,345.9 830.2,342.8 829.8,342.8"/></clipPath>
<polygon points="829.8,342.8 837.9,342.8 837.9,348.5 846.0,348.5 846.0,343.6 867.2,342.8 867.2,337.1 875.3,337.1 875.3,343.6 872.0,343.6 872.0,344.4 872.0,345.2 868.8,345.2 868.8,345.2 868.8,351.7 876.9,351.7 876.9,361.5 882.6,362.3 882.6,368.0 873.6,368.0 869.8,368.0 869.8,366.1 869.8,364.2 866.1,364.2 862.3,364.2 862.3,362.3 862.3,362.3 858.2,362.3 858.2,363.5 858.2,364.7 854.1,364.7 854.1,364.7 850.9,364.7 850.9,368.8 850.9,372.8 847.6,372.8 847.6,372.8 844.4,372.8 844.4,376.1 844.4,376.1 841.1,376.1 841.1,375.3 841.1,374.5 837.9,374.5 837.9,374.5 837.9,381.0 831.4,380.2 830.6,376.1 815.1,376.1 815.1,373.7 818.4,373.7 818.4,372.9 818.4,372.0 821.6,372.0 821.6,372.0 819.2,372.0 819.2,367.2 819.2,367.2 823.7,367.2 823.7,366.4 823.7,365.5 828.1,365.5 828.1,365.5 837.9,364.7 837.9,355.0 831.4,355.0 831.0,355.0 831.0,351.9 831.0,348.9 830.6,348.9 830.2,348.9 830.2,345.9 830.2,342.8 829.8,342.8" fill="#FFEBBE" stroke="#B07406" stroke-width="1.8" stroke-linejoin="miter"/>
<g clip-path="url(#oc7)"><polyline points="837.0,344.7 831.2,344.7 831.2,350.3" fill="none" stroke="#B07406" stroke-width="1.6"/><polyline points="823.0,363.3 815.2,363.3 815.2,369.0 824.9,369.0 824.9,362.5" fill="none" stroke="#B07406" stroke-width="1.6"/><polyline points="878.4,368.4 869.7,368.4 869.7,376.6" fill="none" stroke="#B07406" stroke-width="1.6"/><polyline points="828.3,352.2 837.6,352.2 837.6,345.2 843.5,345.2" fill="none" stroke="#B07406" stroke-width="1.6"/><polyline points="878.8,339.9 874.2,339.9 874.2,335.0 870.2,335.0 870.2,328.1 880.1,328.1" fill="none" stroke="#B07406" stroke-width="1.6"/><polyline points="851.6,354.1 845.5,354.1 845.5,345.4 836.7,345.4" fill="none" stroke="#B07406" stroke-width="1.6"/><polyline points="824.6,372.7 831.5,372.7 831.5,381.8" fill="none" stroke="#B07406" stroke-width="1.6"/><polyline points="820.4,379.7 823.5,379.7 823.5,370.1 830.0,370.1" fill="none" stroke="#B07406" stroke-width="1.6"/><polyline points="818.7,354.3 814.2,354.3 814.2,362.7 822.9,362.7 822.9,372.1 826.0,372.1" fill="none" stroke="#B07406" stroke-width="1.6"/><polyline points="870.2,344.4 865.0,344.4 865.0,338.5 855.1,338.5 855.1,332.7" fill="none" stroke="#B07406" stroke-width="1.6"/><polyline points="828.0,343.2 831.0,343.2 831.0,334.8 834.5,334.8 834.5,338.1" fill="none" stroke="#B07406" stroke-width="1.6"/></g>
<clipPath id="oc8"><polygon points="772.0,390.7 775.5,390.7 775.5,389.1 775.5,387.5 779.1,387.5 782.6,387.5 782.6,385.9 782.6,385.9 786.2,385.9 786.2,385.5 786.2,385.0 789.9,385.0 793.6,385.0 793.6,384.6 793.6,384.2 797.2,384.2 797.2,384.2 800.5,384.2 800.5,383.4 800.5,382.6 803.7,382.6 803.7,382.6 804.8,382.6 804.8,385.9 804.8,389.1 805.9,389.1 807.0,389.1 807.0,392.4 807.0,392.4 811.0,392.4 811.0,391.5 811.0,390.7 815.1,390.7 815.1,390.7 819.2,390.7 819.2,387.4 819.2,384.2 823.3,384.2 823.3,384.2 826.5,384.2 826.5,382.6 826.5,381.0 829.8,381.0 829.8,381.0 834.6,381.0 834.6,382.6 834.6,382.6 837.9,382.6 837.9,385.9 837.9,389.1 841.1,389.1 841.1,389.1 842.8,389.1 842.8,392.4 842.8,395.6 844.4,395.6 844.4,395.6 844.8,395.6 844.8,398.7 844.8,401.7 845.2,401.7 845.6,401.7 845.6,404.8 845.6,407.8 846.0,407.8 846.4,407.8 846.4,410.9 846.4,413.9 846.8,413.9 847.2,413.9 847.2,416.9 847.2,420.0 847.6,420.0 847.6,420.0 852.7,419.7 858.1,419.7 858.1,425.0 858.1,425.0 858.5,425.0 858.5,428.2 858.5,431.4 858.8,431.4 859.2,431.4 859.2,434.7 859.2,437.9 859.5,437.9 859.9,437.9 859.9,441.1 859.9,441.1 859.0,441.1 859.0,444.7 859.0,448.3 858.1,448.3 858.1,448.3 854.5,448.3 854.5,450.1 854.5,451.9 850.9,451.9 850.9,451.9 847.3,451.9 847.3,457.2 847.3,457.2 846.8,457.2 846.8,460.4 846.8,463.5 846.4,463.5 846.0,463.5 846.0,466.6 846.0,469.8 845.5,469.8 845.5,469.8 839.3,469.8 838.4,459.0 833.0,459.0 833.0,453.7 833.0,453.7 822.3,454.6 818.7,454.6 818.7,451.5 818.7,448.3 815.1,448.3 815.1,448.3 818.7,448.3 818.7,442.9 818.7,442.9 831.2,443.8 832.1,443.8 832.1,439.8 832.1,435.8 833.0,435.8 833.0,435.8 828.5,435.8 828.5,437.1 828.5,438.5 824.1,438.5 824.1,438.5 823.5,438.5 823.5,435.2 823.5,431.9 822.9,431.9 822.3,431.9 822.3,428.6 822.3,428.6 819.3,428.6 819.3,430.4 819.3,432.2 816.3,432.2 813.3,432.2 813.3,434.0 813.3,434.0 813.3,439.4 808.0,438.5 808.0,423.3 804.9,423.3 804.9,425.1 804.9,426.8 801.7,426.8 801.7,426.8 802.6,445.6 797.2,446.5 793.9,446.5 793.9,445.0 793.9,443.5 790.7,443.5 787.4,443.5 787.4,442.0 787.4,442.0 788.3,434.0 788.9,434.0 788.9,431.0 788.9,428.0 789.5,428.0 790.1,428.0 790.1,425.0 790.1,425.0 790.1,417.9 789.6,417.9 789.6,414.8 789.6,411.6 789.2,411.6 788.8,411.6 788.8,408.5 788.8,405.4 788.3,405.4 788.3,405.4 787.5,407.0 792.4,407.0 792.4,403.8 792.4,403.8 792.4,395.6 782.6,395.6 778.8,395.6 778.8,394.5 778.8,393.5 775.0,393.5 771.2,393.5 771.2,392.4 771.2,392.4"/></clipPath>
<polygon points="772.0,390.7 775.5,390.7 775.5,389.1 775.5,387.5 779.1,387.5 782.6,387.5 782.6,385.9 782.6,385.9 786.2,385.9 786.2,385.5 786.2,385.0 789.9,385.0 793.6,385.0 793.6,384.6 793.6,384.2 797.2,384.2 797.2,384.2 800.5,384.2 800.5,383.4 800.5,382.6 803.7,382.6 803.7,382.6 804.8,382.6 804.8,385.9 804.8,389.1 805.9,389.1 807.0,389.1 807.0,392.4 807.0,392.4 811.0,392.4 811.0,391.5 811.0,390.7 815.1,390.7 815.1,390.7 819.2,390.7 819.2,387.4 819.2,384.2 823.3,384.2 823.3,384.2 826.5,384.2 826.5,382.6 826.5,381.0 829.8,381.0 829.8,381.0 834.6,381.0 834.6,382.6 834.6,382.6 837.9,382.6 837.9,385.9 837.9,389.1 841.1,389.1 841.1,389.1 842.8,389.1 842.8,392.4 842.8,395.6 844.4,395.6 844.4,395.6 844.8,395.6 844.8,398.7 844.8,401.7 845.2,401.7 845.6,401.7 845.6,404.8 845.6,407.8 846.0,407.8 846.4,407.8 846.4,410.9 846.4,413.9 846.8,413.9 847.2,413.9 847.2,416.9 847.2,420.0 847.6,420.0 847.6,420.0 852.7,419.7 858.1,419.7 858.1,425.0 858.1,425.0 858.5,425.0 858.5,428.2 858.5,431.4 858.8,431.4 859.2,431.4 859.2,434.7 859.2,437.9 859.5,437.9 859.9,437.9 859.9,441.1 859.9,441.1 859.0,441.1 859.0,444.7 859.0,448.3 858.1,448.3 858.1,448.3 854.5,448.3 854.5,450.1 854.5,451.9 850.9,451.9 850.9,451.9 847.3,451.9 847.3,457.2 847.3,457.2 846.8,457.2 846.8,460.4 846.8,463.5 846.4,463.5 846.0,463.5 846.0,466.6 846.0,469.8 845.5,469.8 845.5,469.8 839.3,469.8 838.4,459.0 833.0,459.0 833.0,453.7 833.0,453.7 822.3,454.6 818.7,454.6 818.7,451.5 818.7,448.3 815.1,448.3 815.1,448.3 818.7,448.3 818.7,442.9 818.7,442.9 831.2,443.8 832.1,443.8 832.1,439.8 832.1,435.8 833.0,435.8 833.0,435.8 828.5,435.8 828.5,437.1 828.5,438.5 824.1,438.5 824.1,438.5 823.5,438.5 823.5,435.2 823.5,431.9 822.9,431.9 822.3,431.9 822.3,428.6 822.3,428.6 819.3,428.6 819.3,430.4 819.3,432.2 816.3,432.2 813.3,432.2 813.3,434.0 813.3,434.0 813.3,439.4 808.0,438.5 808.0,423.3 804.9,423.3 804.9,425.1 804.9,426.8 801.7,426.8 801.7,426.8 802.6,445.6 797.2,446.5 793.9,446.5 793.9,445.0 793.9,443.5 790.7,443.5 787.4,443.5 787.4,442.0 787.4,442.0 788.3,434.0 788.9,434.0 788.9,431.0 788.9,428.0 789.5,428.0 790.1,428.0 790.1,425.0 790.1,425.0 790.1,417.9 789.6,417.9 789.6,414.8 789.6,411.6 789.2,411.6 788.8,411.6 788.8,408.5 788.8,405.4 788.3,405.4 788.3,405.4 787.5,407.0 792.4,407.0 792.4,403.8 792.4,403.8 792.4,395.6 782.6,395.6 778.8,395.6 778.8,394.5 778.8,393.5 775.0,393.5 771.2,393.5 771.2,392.4 771.2,392.4" fill="#FFEBBE" stroke="#B07406" stroke-width="1.8" stroke-linejoin="miter"/>
<g clip-path="url(#oc8)"><polyline points="807.5,394.3 817.3,394.3 817.3,398.2" fill="none" stroke="#B07406" stroke-width="1.6"/><polyline points="792.2,462.7 787.9,462.7 787.9,466.3" fill="none" stroke="#B07406" stroke-width="1.6"/><polyline points="782.9,439.1 778.8,439.1 778.8,434.1 771.3,434.1 771.3,439.2" fill="none" stroke="#B07406" stroke-width="1.6"/><polyline points="851.6,429.6 841.8,429.6 841.8,424.8 833.7,424.8 833.7,420.1 830.7,420.1" fill="none" stroke="#B07406" stroke-width="1.6"/><polyline points="839.6,418.2 843.0,418.2 843.0,414.9 852.2,414.9" fill="none" stroke="#B07406" stroke-width="1.6"/><polyline points="840.1,430.5 843.8,430.5 843.8,421.1 850.8,421.1 850.8,429.0 860.7,429.0" fill="none" stroke="#B07406" stroke-width="1.6"/><polyline points="798.0,395.8 801.4,395.8 801.4,389.1" fill="none" stroke="#B07406" stroke-width="1.6"/><polyline points="805.7,463.1 814.5,463.1 814.5,456.9 808.0,456.9 808.0,449.9" fill="none" stroke="#B07406" stroke-width="1.6"/><polyline points="774.9,446.9 784.1,446.9 784.1,456.7" fill="none" stroke="#B07406" stroke-width="1.6"/><polyline points="794.6,405.5 789.7,405.5 789.7,398.1 793.9,398.1" fill="none" stroke="#B07406" stroke-width="1.6"/><polyline points="841.2,443.3 834.0,443.3 834.0,434.0 841.0,434.0 841.0,427.8 848.7,427.8" fill="none" stroke="#B07406" stroke-width="1.6"/><polyline points="828.8,383.3 822.9,383.3 822.9,390.6 816.2,390.6 816.2,382.7 812.9,382.7" fill="none" stroke="#B07406" stroke-width="1.6"/><polyline points="834.7,408.0 838.5,408.0 838.5,412.8" fill="none" stroke="#B07406" stroke-width="1.6"/><polyline points="797.7,381.1 803.9,381.1 803.9,373.5 809.2,373.5 809.2,367.3" fill="none" stroke="#B07406" stroke-width="1.6"/><polyline points="784.5,469.3 791.9,469.3 791.9,473.5 782.5,473.5 782.5,465.7 792.0,465.7" fill="none" stroke="#B07406" stroke-width="1.6"/><polyline points="801.7,382.5 808.7,382.5 808.7,375.6 802.7,375.6 802.7,384.5 810.0,384.5" fill="none" stroke="#B07406" stroke-width="1.6"/><polyline points="788.6,418.8 796.0,418.8 796.0,409.1 788.2,409.1 788.2,403.7" fill="none" stroke="#B07406" stroke-width="1.6"/><polyline points="780.3,437.1 771.9,437.1 771.9,441.3 780.0,441.3" fill="none" stroke="#B07406" stroke-width="1.6"/><polyline points="794.3,417.3 789.1,417.3 789.1,425.3 799.1,425.3 799.1,428.7" fill="none" stroke="#B07406" stroke-width="1.6"/><polyline points="797.9,397.0 801.7,397.0 801.7,400.5" fill="none" stroke="#B07406" stroke-width="1.6"/><polyline points="808.6,464.4 800.8,464.4 800.8,473.9 794.6,473.9 794.6,469.7" fill="none" stroke="#B07406" stroke-width="1.6"/><polyline points="793.0,435.6 785.4,435.6 785.4,441.7" fill="none" stroke="#B07406" stroke-width="1.6"/><polyline points="795.3,429.9 790.9,429.9 790.9,424.3 781.4,424.3 781.4,433.4 777.5,433.4" fill="none" stroke="#B07406" stroke-width="1.6"/><polyline points="776.0,464.4 782.1,464.4 782.1,469.4 788.3,469.4 788.3,477.7 784.3,477.7" fill="none" stroke="#B07406" stroke-width="1.6"/><polyline points="789.2,442.7 799.2,442.7 799.2,438.0" fill="none" stroke="#B07406" stroke-width="1.6"/><polyline points="828.2,444.9 837.2,444.9 837.2,436.3 840.9,436.3 840.9,443.7" fill="none" stroke="#B07406" stroke-width="1.6"/><polyline points="833.1,429.2 824.7,429.2 824.7,436.2" fill="none" stroke="#B07406" stroke-width="1.6"/><polyline points="813.9,455.8 817.3,455.8 817.3,459.7 822.4,459.7 822.4,469.6" fill="none" stroke="#B07406" stroke-width="1.6"/><polyline points="782.6,439.2 776.2,439.2 776.2,434.0" fill="none" stroke="#B07406" stroke-width="1.6"/><polyline points="846.9,439.7 852.2,439.7 852.2,447.7 848.1,447.7 848.1,455.3 856.5,455.3" fill="none" stroke="#B07406" stroke-width="1.6"/></g>
<clipPath id="oc9"><polygon points="863.9,313.5 868.8,312.7 873.7,312.7 873.7,314.3 873.7,314.3 874.5,332.2 865.5,333.0 864.7,333.0 864.7,328.6 864.7,324.1 863.9,324.1 863.9,324.1"/></clipPath>
<polygon points="863.9,313.5 868.8,312.7 873.7,312.7 873.7,314.3 873.7,314.3 874.5,332.2 865.5,333.0 864.7,333.0 864.7,328.6 864.7,324.1 863.9,324.1 863.9,324.1" fill="#FFEBBE" stroke="#B07406" stroke-width="1.8" stroke-linejoin="miter"/>
<clipPath id="oc10"><polygon points="783.8,453.7 806.2,452.8 807.1,460.8 816.9,461.7 819.6,461.7 819.6,464.9 819.6,468.0 822.3,468.0 822.3,468.0 823.2,482.3 826.6,482.3 826.6,482.7 826.6,483.0 830.0,483.0 833.4,483.0 833.4,483.4 833.4,483.7 836.8,483.7 840.2,483.7 840.2,484.1 840.2,484.1 843.8,484.1 843.8,483.2 843.8,482.3 847.3,482.3 847.3,482.3 847.9,482.3 847.9,479.3 847.9,476.3 848.5,476.3 849.1,476.3 849.1,473.3 849.1,473.3 854.5,473.3 854.5,471.6 854.5,471.6 856.3,471.6 856.3,475.1 856.3,478.7 858.1,478.7 858.1,478.7 861.7,478.7 861.7,479.9 861.7,481.1 865.2,481.1 868.8,481.1 868.8,482.3 868.8,482.3 872.4,482.3 872.4,485.0 872.4,487.7 876.0,487.7 876.0,487.7 876.3,487.7 876.3,490.9 876.3,494.1 876.7,494.1 877.0,494.1 877.0,497.4 877.0,500.6 877.4,500.6 877.7,500.6 877.7,503.8 877.7,503.8 874.6,503.8 874.6,503.4 874.6,502.9 871.5,502.9 868.3,502.9 868.3,502.4 868.3,502.0 865.2,502.0 865.2,502.0 864.3,502.0 864.3,505.6 864.3,509.1 863.4,509.1 863.4,509.1 862.5,509.1 862.5,512.7 862.5,516.3 861.6,516.3 861.6,516.3 856.3,516.3 856.3,518.1 856.3,518.1 856.3,527.0 852.7,527.0 852.7,526.4 852.7,525.8 849.1,525.8 845.5,525.8 845.5,525.2 845.5,525.2 842.4,525.2 842.4,524.8 842.4,524.3 839.2,524.3 836.1,524.3 836.1,523.9 836.1,523.4 833.0,523.4 833.0,523.4 832.1,523.4 832.1,519.8 832.1,516.3 831.2,516.3 831.2,516.3 827.7,516.3 827.7,512.7 827.7,509.1 824.1,509.1 824.1,509.1 818.7,509.1 818.7,510.9 818.7,510.9 811.6,510.9 810.7,510.9 810.7,506.4 810.7,502.0 809.8,502.0 809.8,502.0 806.2,502.0 806.2,500.6 806.2,499.3 802.6,499.3 802.6,499.3 801.7,499.3 801.7,496.1 801.7,493.0 800.8,493.0 800.8,493.0 799.0,493.0 799.0,487.7 799.0,487.7 793.7,487.7 793.7,484.1 793.7,484.1 788.3,484.1 788.3,485.9 788.3,485.9 785.6,485.9 785.6,490.4 785.6,494.8 782.9,494.8 782.9,494.8 779.3,494.8 779.3,493.9 779.3,493.0 775.8,493.0 775.8,493.0 774.9,493.0 774.9,488.6 774.9,484.1 774.0,484.1 774.0,484.1 777.6,484.1 777.6,480.5 777.6,480.5 777.6,469.8 780.2,469.8 780.2,466.2 780.2,462.6 782.9,462.6 782.9,462.6"/></clipPath>
<polygon points="783.8,453.7 806.2,452.8 807.1,460.8 816.9,461.7 819.6,461.7 819.6,464.9 819.6,468.0 822.3,468.0 822.3,468.0 823.2,482.3 826.6,482.3 826.6,482.7 826.6,483.0 830.0,483.0 833.4,483.0 833.4,483.4 833.4,483.7 836.8,483.7 840.2,483.7 840.2,484.1 840.2,484.1 843.8,484.1 843.8,483.2 843.8,482.3 847.3,482.3 847.3,482.3 847.9,482.3 847.9,479.3 847.9,476.3 848.5,476.3 849.1,476.3 849.1,473.3 849.1,473.3 854.5,473.3 854.5,471.6 854.5,471.6 856.3,471.6 856.3,475.1 856.3,478.7 858.1,478.7 858.1,478.7 861.7,478.7 861.7,479.9 861.7,481.1 865.2,481.1 868.8,481.1 868.8,482.3 868.8,482.3 872.4,482.3 872.4,485.0 872.4,487.7 876.0,487.7 876.0,487.7 876.3,487.7 876.3,490.9 876.3,494.1 876.7,494.1 877.0,494.1 877.0,497.4 877.0,500.6 877.4,500.6 877.7,500.6 877.7,503.8 877.7,503.8 874.6,503.8 874.6,503.4 874.6,502.9 871.5,502.9 868.3,502.9 868.3,502.4 868.3,502.0 865.2,502.0 865.2,502.0 864.3,502.0 864.3,505.6 864.3,509.1 863.4,509.1 863.4,509.1 862.5,509.1 862.5,512.7 862.5,516.3 861.6,516.3 861.6,516.3 856.3,516.3 856.3,518.1 856.3,518.1 856.3,527.0 852.7,527.0 852.7,526.4 852.7,525.8 849.1,525.8 845.5,525.8 845.5,525.2 845.5,525.2 842.4,525.2 842.4,524.8 842.4,524.3 839.2,524.3 836.1,524.3 836.1,523.9 836.1,523.4 833.0,523.4 833.0,523.4 832.1,523.4 832.1,519.8 832.1,516.3 831.2,516.3 831.2,516.3 827.7,516.3 827.7,512.7 827.7,509.1 824.1,509.1 824.1,509.1 818.7,509.1 818.7,510.9 818.7,510.9 811.6,510.9 810.7,510.9 810.7,506.4 810.7,502.0 809.8,502.0 809.8,502.0 806.2,502.0 806.2,500.6 806.2,499.3 802.6,499.3 802.6,499.3 801.7,499.3 801.7,496.1 801.7,493.0 800.8,493.0 800.8,493.0 799.0,493.0 799.0,487.7 799.0,487.7 793.7,487.7 793.7,484.1 793.7,484.1 788.3,484.1 788.3,485.9 788.3,485.9 785.6,485.9 785.6,490.4 785.6,494.8 782.9,494.8 782.9,494.8 779.3,494.8 779.3,493.9 779.3,493.0 775.8,493.0 775.8,493.0 774.9,493.0 774.9,488.6 774.9,484.1 774.0,484.1 774.0,484.1 777.6,484.1 777.6,480.5 777.6,480.5 777.6,469.8 780.2,469.8 780.2,466.2 780.2,462.6 782.9,462.6 782.9,462.6" fill="#FFEBBE" stroke="#B07406" stroke-width="1.8" stroke-linejoin="miter"/>
<g clip-path="url(#oc10)"><polyline points="860.8,456.0 870.6,456.0 870.6,451.8" fill="none" stroke="#B07406" stroke-width="1.6"/><polyline points="791.7,490.4 786.0,490.4 786.0,482.9 781.6,482.9 781.6,475.9 787.6,475.9" fill="none" stroke="#B07406" stroke-width="1.6"/><polyline points="805.8,507.4 814.3,507.4 814.3,498.1 810.2,498.1 810.2,491.9" fill="none" stroke="#B07406" stroke-width="1.6"/><polyline points="793.7,466.9 802.9,466.9 802.9,473.2 799.7,473.2" fill="none" stroke="#B07406" stroke-width="1.6"/><polyline points="856.5,509.7 853.3,509.7 853.3,519.7 843.5,519.7 843.5,524.1 852.8,524.1" fill="none" stroke="#B07406" stroke-width="1.6"/><polyline points="791.9,482.2 795.3,482.2 795.3,474.1" fill="none" stroke="#B07406" stroke-width="1.6"/><polyline points="814.3,465.1 822.1,465.1 822.1,461.2" fill="none" stroke="#B07406" stroke-width="1.6"/><polyline points="867.3,463.7 873.5,463.7 873.5,455.9" fill="none" stroke="#B07406" stroke-width="1.6"/><polyline points="863.2,503.5 853.8,503.5 853.8,512.2" fill="none" stroke="#B07406" stroke-width="1.6"/><polyline points="867.3,494.4 862.9,494.4 862.9,502.4 858.5,502.4 858.5,496.9 850.6,496.9" fill="none" stroke="#B07406" stroke-width="1.6"/><polyline points="818.9,513.3 815.9,513.3 815.9,505.4 807.7,505.4 807.7,515.1" fill="none" stroke="#B07406" stroke-width="1.6"/><polyline points="860.5,477.0 864.5,477.0 864.5,467.1" fill="none" stroke="#B07406" stroke-width="1.6"/><polyline points="849.0,480.2 857.6,480.2 857.6,489.4 864.8,489.4 864.8,493.6 871.8,493.6" fill="none" stroke="#B07406" stroke-width="1.6"/><polyline points="875.4,454.0 879.2,454.0 879.2,445.6 883.7,445.6 883.7,449.2 889.6,449.2" fill="none" stroke="#B07406" stroke-width="1.6"/><polyline points="807.3,516.4 814.7,516.4 814.7,506.9" fill="none" stroke="#B07406" stroke-width="1.6"/><polyline points="866.3,509.5 859.9,509.5 859.9,514.0" fill="none" stroke="#B07406" stroke-width="1.6"/><polyline points="805.5,484.3 795.7,484.3 795.7,475.1 788.6,475.1 788.6,465.6 794.5,465.6" fill="none" stroke="#B07406" stroke-width="1.6"/><polyline points="790.6,499.2 780.6,499.2 780.6,493.7 774.4,493.7 774.4,484.9 779.7,484.9" fill="none" stroke="#B07406" stroke-width="1.6"/><polyline points="845.1,486.4 835.9,486.4 835.9,491.3" fill="none" stroke="#B07406" stroke-width="1.6"/><polyline points="859.2,490.1 850.3,490.1 850.3,496.0 843.0,496.0 843.0,505.5" fill="none" stroke="#B07406" stroke-width="1.6"/><polyline points="786.9,457.5 781.7,457.5 781.7,463.4 777.5,463.4 777.5,467.4" fill="none" stroke="#B07406" stroke-width="1.6"/><polyline points="805.7,494.9 796.2,494.9 796.2,502.3" fill="none" stroke="#B07406" stroke-width="1.6"/><polyline points="803.5,501.5 809.7,501.5 809.7,493.7" fill="none" stroke="#B07406" stroke-width="1.6"/><polyline points="828.8,526.8 836.1,526.8 836.1,522.5 846.1,522.5 846.1,518.7 851.7,518.7" fill="none" stroke="#B07406" stroke-width="1.6"/><polyline points="855.3,522.8 861.1,522.8 861.1,532.7" fill="none" stroke="#B07406" stroke-width="1.6"/><polyline points="787.5,508.3 792.4,508.3 792.4,498.4 782.9,498.4 782.9,503.6 775.6,503.6" fill="none" stroke="#B07406" stroke-width="1.6"/><polyline points="819.4,498.3 814.4,498.3 814.4,494.0 806.7,494.0 806.7,486.1 797.4,486.1" fill="none" stroke="#B07406" stroke-width="1.6"/><polyline points="854.7,475.5 862.0,475.5 862.0,466.6 858.7,466.6 858.7,469.8" fill="none" stroke="#B07406" stroke-width="1.6"/><polyline points="823.3,468.0 831.8,468.0 831.8,462.4 828.6,462.4" fill="none" stroke="#B07406" stroke-width="1.6"/></g>
<clipPath id="oc11"><polygon points="790.1,502.0 801.7,502.0 801.7,521.6 790.1,521.6"/></clipPath>
<polygon points="790.1,502.0 801.7,502.0 801.7,521.6 790.1,521.6" fill="#FFEBBE" stroke="#B07406" stroke-width="1.8" stroke-linejoin="miter"/>
<clipPath id="oc12"><polygon points="865.2,543.1 870.6,543.1 870.6,541.3 870.6,541.3 876.0,541.3 876.0,543.1 876.0,543.1 881.3,543.1 881.3,539.5 881.3,539.5 886.7,538.6 887.6,553.8 877.7,553.8 876.9,553.8 876.9,557.4 876.9,561.0 876.0,561.0 876.0,561.0 877.7,561.0 877.7,564.6 877.7,564.6 881.3,564.6 881.3,568.2 881.3,568.2 883.1,569.0 895.6,569.9 896.5,582.5 902.8,582.5 908.2,582.5 908.2,586.0 908.2,586.0 907.3,593.2 903.2,593.2 903.2,595.9 903.2,598.6 899.2,598.6 899.2,598.6 898.3,598.6 898.3,602.2 898.3,605.7 897.4,605.7 897.4,605.7 893.8,605.7 893.8,607.5 893.8,607.5 891.1,607.5 891.1,611.1 891.1,614.7 888.5,614.7 888.5,614.7 886.7,614.7 886.7,620.0 886.7,620.0 883.1,620.0 882.2,620.0 882.2,615.5 882.2,611.1 881.3,611.1 881.3,611.1 876.0,611.1 876.0,605.7 876.0,605.7 870.6,605.7 870.6,603.9 870.6,603.9 856.3,603.9 855.7,603.9 855.7,600.3 855.7,596.8 855.1,596.8 854.5,596.8 854.5,593.2 854.5,593.2 858.0,593.2 858.0,591.4 858.0,589.6 861.6,589.6 861.6,589.6 858.1,589.6 858.1,586.0 858.1,586.0 860.8,586.0 860.8,582.5 860.8,578.9 863.4,578.9 863.4,578.9 863.4,566.4 866.4,566.4 866.4,563.4 866.4,560.4 869.4,560.4 872.4,560.4 872.4,557.4 872.4,557.4 868.8,557.4 868.8,553.8 868.8,553.8 865.2,553.8"/></clipPath>
<polygon points="865.2,543.1 870.6,543.1 870.6,541.3 870.6,541.3 876.0,541.3 876.0,543.1 876.0,543.1 881.3,543.1 881.3,539.5 881.3,539.5 886.7,538.6 887.6,553.8 877.7,553.8 876.9,553.8 876.9,557.4 876.9,561.0 876.0,561.0 876.0,561.0 877.7,561.0 877.7,564.6 877.7,564.6 881.3,564.6 881.3,568.2 881.3,568.2 883.1,569.0 895.6,569.9 896.5,582.5 902.8,582.5 908.2,582.5 908.2,586.0 908.2,586.0 907.3,593.2 903.2,593.2 903.2,595.9 903.2,598.6 899.2,598.6 899.2,598.6 898.3,598.6 898.3,602.2 898.3,605.7 897.4,605.7 897.4,605.7 893.8,605.7 893.8,607.5 893.8,607.5 891.1,607.5 891.1,611.1 891.1,614.7 888.5,614.7 888.5,614.7 886.7,614.7 886.7,620.0 886.7,620.0 883.1,620.0 882.2,620.0 882.2,615.5 882.2,611.1 881.3,611.1 881.3,611.1 876.0,611.1 876.0,605.7 876.0,605.7 870.6,605.7 870.6,603.9 870.6,603.9 856.3,603.9 855.7,603.9 855.7,600.3 855.7,596.8 855.1,596.8 854.5,596.8 854.5,593.2 854.5,593.2 858.0,593.2 858.0,591.4 858.0,589.6 861.6,589.6 861.6,589.6 858.1,589.6 858.1,586.0 858.1,586.0 860.8,586.0 860.8,582.5 860.8,578.9 863.4,578.9 863.4,578.9 863.4,566.4 866.4,566.4 866.4,563.4 866.4,560.4 869.4,560.4 872.4,560.4 872.4,557.4 872.4,557.4 868.8,557.4 868.8,553.8 868.8,553.8 865.2,553.8" fill="#FFEBBE" stroke="#B07406" stroke-width="1.8" stroke-linejoin="miter"/>
<g clip-path="url(#oc12)"><polyline points="861.1,554.2 856.3,554.2 856.3,546.8 864.8,546.8 864.8,552.7" fill="none" stroke="#B07406" stroke-width="1.6"/><polyline points="896.2,563.5 891.5,563.5 891.5,572.4 897.8,572.4 897.8,563.4 892.1,563.4" fill="none" stroke="#B07406" stroke-width="1.6"/><polyline points="885.3,561.6 888.3,561.6 888.3,557.7" fill="none" stroke="#B07406" stroke-width="1.6"/><polyline points="858.8,558.7 849.1,558.7 849.1,561.8 842.0,561.8 842.0,568.4" fill="none" stroke="#B07406" stroke-width="1.6"/><polyline points="873.5,560.4 879.6,560.4 879.6,553.3 875.0,553.3" fill="none" stroke="#B07406" stroke-width="1.6"/><polyline points="854.8,563.2 850.4,563.2 850.4,558.2 845.9,558.2" fill="none" stroke="#B07406" stroke-width="1.6"/><polyline points="904.0,548.3 894.9,548.3 894.9,556.1 887.7,556.1 887.7,564.7 880.0,564.7" fill="none" stroke="#B07406" stroke-width="1.6"/><polyline points="888.9,584.8 892.0,584.8 892.0,577.6" fill="none" stroke="#B07406" stroke-width="1.6"/><polyline points="889.7,564.0 898.7,564.0 898.7,567.9 905.5,567.9 905.5,559.8" fill="none" stroke="#B07406" stroke-width="1.6"/><polyline points="887.3,607.2 882.2,607.2 882.2,602.8 877.3,602.8 877.3,606.3 882.5,606.3" fill="none" stroke="#B07406" stroke-width="1.6"/><polyline points="860.6,558.4 869.2,558.4 869.2,564.5 872.7,564.5" fill="none" stroke="#B07406" stroke-width="1.6"/><polyline points="875.7,618.3 885.3,618.3 885.3,609.9 892.6,609.9 892.6,605.5 897.9,605.5" fill="none" stroke="#B07406" stroke-width="1.6"/><polyline points="891.2,568.5 899.2,568.5 899.2,561.6 894.2,561.6" fill="none" stroke="#B07406" stroke-width="1.6"/><polyline points="907.2,572.5 898.8,572.5 898.8,578.9 904.9,578.9 904.9,569.0 912.9,569.0" fill="none" stroke="#B07406" stroke-width="1.6"/><polyline points="866.3,550.5 873.9,550.5 873.9,541.5" fill="none" stroke="#B07406" stroke-width="1.6"/><polyline points="862.4,578.2 853.8,578.2 853.8,569.3 863.1,569.3" fill="none" stroke="#B07406" stroke-width="1.6"/></g>
<clipPath id="oc13"><polygon points="704.6,385.9 710.2,385.9 710.2,394.0 704.6,394.0"/></clipPath>
<polygon points="704.6,385.9 710.2,385.9 710.2,394.0 704.6,394.0" fill="#FFEBBE" stroke="#B07406" stroke-width="1.8" stroke-linejoin="miter"/>
<clipPath id="oc14"><polygon points="712.7,386.7 716.7,386.7 716.7,390.7 712.7,390.7"/></clipPath>
<polygon points="712.7,386.7 716.7,386.7 716.7,390.7 712.7,390.7" fill="#FFEBBE" stroke="#B07406" stroke-width="1.8" stroke-linejoin="miter"/>
<clipPath id="oc15"><polygon points="656.6,408.6 662.6,408.6 662.6,420.0 656.6,420.0"/></clipPath>
<polygon points="656.6,408.6 662.6,408.6 662.6,420.0 656.6,420.0" fill="#FFEBBE" stroke="#B07406" stroke-width="1.8" stroke-linejoin="miter"/>
<clipPath id="oc16"><polygon points="722.4,407.0 731.4,407.0 731.4,416.7 722.4,416.7"/></clipPath>
<polygon points="722.4,407.0 731.4,407.0 731.4,416.7 722.4,416.7" fill="#FFEBBE" stroke="#B07406" stroke-width="1.8" stroke-linejoin="miter"/>
<clipPath id="oc17"><polygon points="799.7,374.5 805.4,374.5 805.4,378.5 799.7,378.5"/></clipPath>
<polygon points="799.7,374.5 805.4,374.5 805.4,378.5 799.7,378.5" fill="#FFEBBE" stroke="#B07406" stroke-width="1.8" stroke-linejoin="miter"/>
<clipPath id="oc18"><polygon points="731.4,353.3 735.4,353.3 735.4,357.4 731.4,357.4"/></clipPath>
<polygon points="731.4,353.3 735.4,353.3 735.4,357.4 731.4,357.4" fill="#FFEBBE" stroke="#B07406" stroke-width="1.8" stroke-linejoin="miter"/>
<clipPath id="oc19"><polygon points="669.8,422.5 673.1,422.5 673.1,421.9 673.1,421.4 676.4,421.4 679.7,421.4 679.7,420.8 679.7,420.3 683.0,420.3 686.3,420.3 686.3,419.7 686.3,419.7 687.2,419.7 687.2,422.9 687.2,426.2 688.2,426.2 689.1,426.2 689.1,429.4 689.1,429.4 685.9,429.4 685.9,429.9 685.9,430.3 682.6,430.3 679.4,430.3 679.4,430.8 679.4,430.8 672.0,432.0 671.3,432.0 671.3,428.8 671.3,425.7 670.5,425.7 669.8,425.7 669.8,422.5"/></clipPath>
<polygon points="669.8,422.5 673.1,422.5 673.1,421.9 673.1,421.4 676.4,421.4 679.7,421.4 679.7,420.8 679.7,420.3 683.0,420.3 686.3,420.3 686.3,419.7 686.3,419.7 687.2,419.7 687.2,422.9 687.2,426.2 688.2,426.2 689.1,426.2 689.1,429.4 689.1,429.4 685.9,429.4 685.9,429.9 685.9,430.3 682.6,430.3 679.4,430.3 679.4,430.8 679.4,430.8 672.0,432.0 671.3,432.0 671.3,428.8 671.3,425.7 670.5,425.7 669.8,425.7 669.8,422.5" fill="#FFEBBE" stroke="#B07406" stroke-width="1.8" stroke-linejoin="miter"/>
<clipPath id="oc20"><polygon points="679.0,443.0 682.7,443.0 682.7,442.0 682.7,441.0 686.3,441.0 690.0,441.0 690.0,440.0 690.0,440.0 693.4,440.0 693.4,438.8 693.4,437.5 696.8,437.5 700.2,437.5 700.2,436.3 700.2,436.3 727.8,436.3 727.8,441.8 724.5,441.8 724.5,442.1 724.5,442.4 721.2,442.4 717.8,442.4 717.8,442.6 717.8,442.9 714.5,442.9 711.2,442.9 711.2,443.2 711.2,443.2 711.2,450.0 710.2,450.0 710.2,453.1 710.2,456.3 709.2,456.3 708.1,456.3 708.1,459.5 708.1,462.6 707.1,462.6 707.1,462.6 705.0,462.6 705.0,466.8 705.0,470.9 702.9,470.9 702.9,470.9 694.6,470.9 693.2,470.9 693.2,466.8 693.2,462.6 691.9,462.6 691.9,462.6 687.8,462.6 687.8,461.2 687.8,459.8 683.6,459.8 683.6,459.8 680.8,459.8 680.8,455.6 680.8,451.5 678.0,451.5 678.0,451.5"/></clipPath>
<polygon points="679.0,443.0 682.7,443.0 682.7,442.0 682.7,441.0 686.3,441.0 690.0,441.0 690.0,440.0 690.0,440.0 693.4,440.0 693.4,438.8 693.4,437.5 696.8,437.5 700.2,437.5 700.2,436.3 700.2,436.3 727.8,436.3 727.8,441.8 724.5,441.8 724.5,442.1 724.5,442.4 721.2,442.4 717.8,442.4 717.8,442.6 717.8,442.9 714.5,442.9 711.2,442.9 711.2,443.2 711.2,443.2 711.2,450.0 710.2,450.0 710.2,453.1 710.2,456.3 709.2,456.3 708.1,456.3 708.1,459.5 708.1,462.6 707.1,462.6 707.1,462.6 705.0,462.6 705.0,466.8 705.0,470.9 702.9,470.9 702.9,470.9 694.6,470.9 693.2,470.9 693.2,466.8 693.2,462.6 691.9,462.6 691.9,462.6 687.8,462.6 687.8,461.2 687.8,459.8 683.6,459.8 683.6,459.8 680.8,459.8 680.8,455.6 680.8,451.5 678.0,451.5 678.0,451.5" fill="#FFEBBE" stroke="#B07406" stroke-width="1.8" stroke-linejoin="miter"/>
<g clip-path="url(#oc20)"><polyline points="725.1,462.5 731.8,462.5 731.8,470.5 725.4,470.5 725.4,479.4" fill="none" stroke="#B07406" stroke-width="1.6"/><polyline points="722.5,447.5 716.0,447.5 716.0,443.1 720.9,443.1 720.9,447.7" fill="none" stroke="#B07406" stroke-width="1.6"/><polyline points="711.3,451.6 720.6,451.6 720.6,456.3" fill="none" stroke="#B07406" stroke-width="1.6"/><polyline points="698.6,443.8 693.4,443.8 693.4,439.1 701.8,439.1 701.8,447.5 705.5,447.5" fill="none" stroke="#B07406" stroke-width="1.6"/><polyline points="705.8,445.1 701.8,445.1 701.8,441.3 710.2,441.3 710.2,436.1" fill="none" stroke="#B07406" stroke-width="1.6"/><polyline points="725.1,437.8 728.1,437.8 728.1,446.7 736.3,446.7 736.3,443.6 743.2,443.6" fill="none" stroke="#B07406" stroke-width="1.6"/></g>
<clipPath id="oc21"><polygon points="474.0,412.0 477.2,412.0 477.2,411.0 477.2,410.0 480.5,410.0 483.8,410.0 483.8,409.0 483.8,408.0 487.0,408.0 487.0,408.0 488.7,408.0 488.7,411.3 488.7,414.7 490.3,414.7 492.0,414.7 492.0,418.0 492.0,418.0 490.7,418.0 490.7,421.3 490.7,424.7 489.3,424.7 488.0,424.7 488.0,428.0 488.0,428.0 489.0,428.0 489.0,431.0 489.0,434.0 490.0,434.0 491.0,434.0 491.0,437.0 491.0,440.0 492.0,440.0 492.0,440.0 488.0,440.0 488.0,441.0 488.0,442.0 484.0,442.0 484.0,442.0 482.0,442.0 482.0,438.7 482.0,435.3 480.0,435.3 478.0,435.3 478.0,432.0 478.0,432.0 475.0,432.0 475.0,428.5 475.0,425.0 472.0,425.0 472.0,425.0 472.5,425.0 472.5,421.8 472.5,418.5 473.0,418.5 473.5,418.5 473.5,415.2 473.5,412.0 474.0,412.0"/></clipPath>
<polygon points="474.0,412.0 477.2,412.0 477.2,411.0 477.2,410.0 480.5,410.0 483.8,410.0 483.8,409.0 483.8,408.0 487.0,408.0 487.0,408.0 488.7,408.0 488.7,411.3 488.7,414.7 490.3,414.7 492.0,414.7 492.0,418.0 492.0,418.0 490.7,418.0 490.7,421.3 490.7,424.7 489.3,424.7 488.0,424.7 488.0,428.0 488.0,428.0 489.0,428.0 489.0,431.0 489.0,434.0 490.0,434.0 491.0,434.0 491.0,437.0 491.0,440.0 492.0,440.0 492.0,440.0 488.0,440.0 488.0,441.0 488.0,442.0 484.0,442.0 484.0,442.0 482.0,442.0 482.0,438.7 482.0,435.3 480.0,435.3 478.0,435.3 478.0,432.0 478.0,432.0 475.0,432.0 475.0,428.5 475.0,425.0 472.0,425.0 472.0,425.0 472.5,425.0 472.5,421.8 472.5,418.5 473.0,418.5 473.5,418.5 473.5,415.2 473.5,412.0 474.0,412.0" fill="#FFEBBE" stroke="#B07406" stroke-width="1.8" stroke-linejoin="miter"/>
<g clip-path="url(#oc21)"><polyline points="474.8,432.5 484.7,432.5 484.7,437.4 490.7,437.4" fill="none" stroke="#B07406" stroke-width="1.6"/><polyline points="482.4,423.4 486.1,423.4 486.1,418.7 489.9,418.7 489.9,411.2" fill="none" stroke="#B07406" stroke-width="1.6"/></g>
<circle cx="653" cy="289" r="1.6" fill="#B07406"/>
<circle cx="662.6" cy="316" r="1.6" fill="#B07406"/>
<circle cx="678.9" cy="359.8" r="1.6" fill="#B07406"/>
<circle cx="808.6" cy="360.7" r="1.6" fill="#B07406"/>
<circle cx="865.5" cy="281" r="1.6" fill="#B07406"/>
<circle cx="847.6" cy="387.5" r="1.6" fill="#B07406"/>
<circle cx="686.7" cy="418.4" r="1.6" fill="#B07406"/>
<circle cx="534" cy="348" r="1.6" fill="#B07406"/>
<circle cx="574" cy="380" r="1.6" fill="#B07406"/>
<circle cx="657" cy="410" r="1.6" fill="#B07406"/>
<circle cx="536" cy="352" r="1.6" fill="#B07406"/>
<circle cx="729" cy="507" r="1.6" fill="#B07406"/>
<circle cx="686" cy="507" r="1.6" fill="#B07406"/>
<circle cx="892" cy="524" r="1.6" fill="#B07406"/>
<circle cx="855" cy="548" r="1.6" fill="#B07406"/>
<circle cx="749" cy="496" r="1.6" fill="#B07406"/>
<circle cx="718" cy="690" r="2.6" fill="#B07406"/>
<circle cx="722" cy="693" r="2.6" fill="#B07406"/>
<circle cx="714" cy="694" r="2.6" fill="#B07406"/>
<circle cx="865" cy="688" r="2.6" fill="#B07406"/>
<circle cx="868" cy="692" r="2.6" fill="#B07406"/>
<circle cx="856" cy="705" r="2.6" fill="#B07406"/>
<circle cx="860" cy="702" r="2.6" fill="#B07406"/>
<circle cx="870" cy="712" r="2.6" fill="#B07406"/>
<circle cx="850" cy="716" r="2.6" fill="#B07406"/>
<clipPath id="abclip"><polygon points="317.0,3.2 398.0,7.0 486.0,12.3 556.0,14.0 620.0,14.0 657.0,13.2 885.0,14.0 886.5,214.0 909.0,540.0 934.5,880.0 956.5,1217.0 661.0,1228.2 661.4,1225.6 659.1,1224.6 659.9,1221.8 658.0,1219.0 655.5,1217.5 656.3,1214.7 655.9,1213.2 653.0,1210.6 654.1,1210.7 652.5,1208.3 648.8,1205.5 649.0,1202.8 648.8,1202.0 644.8,1201.8 643.1,1200.5 642.5,1197.8 640.5,1196.0 638.6,1193.1 639.1,1192.2 637.3,1190.6 636.4,1191.2 634.0,1189.0 631.7,1187.2 628.6,1184.7 629.0,1182.1 628.1,1182.4 625.5,1179.1 624.5,1177.4 625.0,1175.7 620.8,1173.2 621.6,1174.3 619.6,1171.2 618.5,1170.3 616.2,1168.3 615.9,1166.8 613.5,1163.8 612.8,1164.5 611.5,1161.9 613.8,1159.5 615.4,1160.7 619.8,1158.4 619.6,1157.2 620.2,1156.0 618.7,1154.0 620.4,1150.7 620.1,1148.3 618.6,1145.5 620.1,1143.2 617.7,1143.0 619.8,1139.9 619.9,1136.7 618.1,1135.4 618.5,1133.0 617.3,1131.5 619.7,1131.5 619.1,1127.9 617.6,1127.4 618.3,1124.7 616.7,1121.1 619.0,1120.9 619.0,1118.3 617.6,1116.2 617.9,1113.6 616.0,1111.6 615.7,1108.9 614.5,1109.9 611.5,1106.9 612.4,1105.9 612.0,1102.0 611.1,1101.9 612.4,1097.4 609.6,1095.1 609.1,1094.1 609.2,1093.2 610.5,1088.9 609.6,1087.5 609.0,1085.2 607.5,1083.1 607.6,1082.6 607.6,1078.6 607.5,1079.1 607.2,1076.9 603.9,1074.1 603.0,1073.3 602.3,1071.4 601.5,1069.6 600.6,1065.9 599.8,1064.9 600.3,1063.1 598.0,1062.1 598.1,1059.1 595.9,1058.6 595.1,1058.3 592.6,1055.8 592.1,1053.7 588.9,1055.6 589.9,1055.3 586.2,1058.4 583.8,1056.7 581.4,1058.9 581.1,1057.7 578.4,1056.4 577.8,1055.7 576.7,1053.5 575.7,1051.1 574.0,1049.7 573.9,1048.6 575.0,1046.7 572.7,1043.2 571.4,1042.0 570.9,1041.4 568.2,1037.9 566.9,1037.7 565.6,1036.8 562.4,1035.8 560.8,1034.3 559.1,1032.0 556.0,1031.0 554.7,1028.3 555.3,1027.4 555.2,1022.5 552.6,1021.4 552.2,1018.9 552.0,1016.7 550.7,1017.3 551.4,1013.9 548.8,1013.4 549.6,1009.3 547.4,1008.8 547.4,1005.8 547.2,1004.1 544.1,1003.9 542.8,1001.5 540.7,1000.9 538.8,999.8 538.6,999.7 535.0,999.8 532.3,998.0 530.9,997.3 528.5,998.3 526.2,996.8 527.1,995.5 522.6,993.8 521.1,992.5 521.6,989.8 518.0,989.0 516.8,986.7 516.4,986.8 514.6,982.9 514.5,983.3 512.4,979.3 510.0,978.7 509.7,976.5 509.1,976.7 508.1,975.2 505.2,972.0 505.1,970.7 506.9,968.0 505.1,963.7 506.4,963.3 505.4,960.8 505.4,958.4 503.3,956.4 502.3,955.5 503.0,952.2 499.4,951.8 500.1,949.1 497.8,947.1 496.0,946.7 496.8,945.5 494.2,942.2 495.4,941.8 492.7,940.6 492.4,938.5 489.1,937.8 488.1,933.8 487.2,933.7 486.7,931.0 485.6,930.3 482.7,929.8 483.3,928.3 481.5,924.7 480.5,924.9 478.3,923.2 478.3,919.8 476.8,919.7 475.0,918.6 472.3,922.0 471.7,924.1 470.4,924.0 469.3,925.3 467.1,924.5 465.5,925.8 462.8,926.5 461.1,925.6 458.0,923.7 457.6,922.1 458.8,919.6 456.0,916.6 456.2,916.2 454.3,914.5 454.1,910.8 455.3,910.1 454.2,908.0 450.9,905.2 450.8,904.4 450.8,902.8 449.5,899.3 447.2,898.0 445.8,896.1 444.3,895.1 441.2,894.6 441.3,892.9 441.1,890.7 441.3,887.6 438.9,884.5 439.1,884.2 438.2,883.5 436.4,879.2 437.4,878.9 435.9,874.7 433.4,878.0 431.5,877.9 428.9,879.4 427.3,880.6 425.8,880.8 422.1,879.3 421.1,880.9 419.3,879.1 417.4,879.6 413.5,876.2 413.6,874.1 412.6,872.9 410.5,871.4 407.7,869.8 407.0,870.0 404.7,868.6 403.5,867.1 402.1,864.4 399.9,862.7 402.8,861.9 402.2,861.5 405.0,857.1 406.3,857.0 406.7,854.8 409.4,852.6 406.8,852.0 404.4,849.7 404.0,849.2 401.5,847.4 399.2,846.9 396.8,845.2 396.3,842.8 394.9,842.6 391.6,841.2 390.0,840.9 388.9,841.1 386.9,841.8 385.3,843.8 385.0,847.4 382.2,846.8 381.1,847.3 378.7,849.8 376.1,850.1 375.1,848.8 374.1,848.2 373.5,844.8 374.8,844.5 374.5,841.9 372.8,838.7 373.6,838.4 373.6,835.9 372.4,833.0 374.7,831.8 373.6,828.0 374.4,825.7 374.3,825.8 373.3,823.1 371.4,820.5 372.7,819.5 371.7,817.9 369.8,814.5 369.1,812.8 370.3,812.2 367.5,809.0 366.6,808.2 366.7,805.1 365.6,805.1 364.8,802.3 364.4,799.4 363.2,796.8 361.1,795.0 359.4,794.1 357.1,795.4 355.8,792.9 352.6,792.5 353.1,792.5 351.8,790.0 351.1,788.5 350.7,786.6 349.0,783.7 348.9,783.2 348.6,779.9 346.7,779.0 347.4,774.5 346.1,774.2 345.3,772.6 345.1,768.2 344.2,767.0 341.0,767.4 339.0,764.2 339.0,762.3 336.6,762.4 336.3,760.7 335.4,759.4 334.2,757.5 332.9,754.7 330.6,753.0 330.9,755.5 328.8,757.5 327.9,757.9 327.7,759.9 326.0,761.8 326.9,765.8 323.4,764.4 321.3,763.0 319.6,761.8 318.6,760.7 315.3,761.0 312.2,759.2 311.6,760.0 311.6,756.4 309.7,754.8 309.1,754.5 306.6,751.2 308.1,749.4 306.4,749.0 304.8,746.6 303.5,743.0 303.5,740.8 303.1,737.6 302.7,737.8 299.7,738.7 298.3,739.3 295.4,737.0 293.8,736.3 292.3,736.4 288.3,735.6 286.7,736.9 286.8,735.0 285.1,731.8 282.6,730.3 281.7,730.3 282.1,726.2 280.7,727.0 277.9,724.6 277.9,721.2 276.3,721.7 276.1,719.6 272.8,717.1 273.0,715.9 271.0,712.9 269.9,711.8 270.7,707.6 269.8,705.9 271.1,705.4 269.7,704.4 272.7,700.8 271.9,698.6 272.3,696.7 270.9,695.9 269.2,692.7 270.0,690.7 267.0,690.9 266.4,687.6 266.5,686.0"/></clipPath>
<polygon points="678.0,711.5 684.0,709.0 689.7,710.2 697.5,707.6 705.3,706.3 709.0,702.0 713.2,699.8 717.0,701.0 714.0,706.0 710.5,710.2 704.0,716.0 702.7,722.0 703.0,730.0 701.4,738.9 695.0,741.0 689.7,742.8 682.0,736.3 678.0,725.8 679.3,718.0" fill="url(#navyhatch)" stroke="#06287A" stroke-width="1.6" stroke-linejoin="round"/>
<polygon points="661.0,723.5 667.0,722.5 669.0,729.0 662.0,729.7" fill="url(#navyhatch)" stroke="#06287A" stroke-width="1.6" stroke-linejoin="round"/>
<polygon points="643.4,991.0 657.6,993.8 669.0,999.5 678.9,1002.3 677.5,1008.0 671.8,1010.9 673.2,1022.3 666.1,1023.7 657.6,1019.4 649.1,1019.4 647.6,1013.7 651.9,1008.0 646.2,999.5" fill="url(#navyhatch)" stroke="#06287A" stroke-width="1.6" stroke-linejoin="round"/>
<polygon points="343.0,535.0 352.0,532.0 362.0,537.0 360.0,545.0 352.0,548.0 345.0,545.0" fill="url(#navyhatch)" stroke="#06287A" stroke-width="1.6" stroke-linejoin="round"/>
<polygon points="894.0,612.0 902.0,610.0 905.0,618.0 898.0,622.0" fill="url(#navyhatch)" stroke="#06287A" stroke-width="1.6" stroke-linejoin="round"/>
<polygon points="668.0,861.0 676.0,859.0 679.0,868.0 672.0,874.0" fill="url(#navyhatch)" stroke="#06287A" stroke-width="1.6" stroke-linejoin="round"/>
<polygon points="742.0,1146.0 749.0,1143.0 751.0,1152.0 745.0,1159.0" fill="url(#navyhatch)" stroke="#06287A" stroke-width="1.6" stroke-linejoin="round"/>
<polygon points="894.0,1101.0 902.0,1097.0 905.0,1106.0 898.0,1110.0" fill="url(#navyhatch)" stroke="#06287A" stroke-width="1.6" stroke-linejoin="round"/>
<polygon points="733.0,781.0 740.0,780.0 740.0,788.0 734.0,788.0" fill="url(#navyhatch)" stroke="#06287A" stroke-width="1.6" stroke-linejoin="round"/>
<polygon points="809.0,1048.0 815.0,1048.0 815.0,1054.0 810.0,1055.0" fill="url(#navyhatch)" stroke="#06287A" stroke-width="1.6" stroke-linejoin="round"/>
<g clip-path="url(#abclip)">
<circle cx="921.4" cy="736" r="7.00" fill="#fff" stroke="#00CBFF" stroke-width="1.8"/>
<polygon points="918,740 921,738 923,744 920,746" fill="#06287A"/>
</g>
<circle cx="369.7" cy="120.5" r="7.00" fill="#fff" stroke="#00CBFF" stroke-width="1.8"/>
<circle cx="441.5" cy="121.5" r="13.1" fill="#00CBFF" stroke="#000" stroke-width="2.0"/>
<circle cx="441.5" cy="121.5" r="5.6" fill="#fff"/>
<circle cx="408" cy="431" r="12.5" fill="#00CBFF" stroke="#000" stroke-width="2.0"/>
<circle cx="431" cy="425" r="12.5" fill="#00CBFF" stroke="#000" stroke-width="2.0"/>
<circle cx="315" cy="535.7" r="13" fill="#9400CC" stroke="#000" stroke-width="2.0"/>
<circle cx="315" cy="535.7" r="6.95" fill="#fff" stroke="#00CBFF" stroke-width="2.1"/>
<circle cx="652.7" cy="541" r="19.5" fill="#FF0000" stroke="#000" stroke-width="2.0"/>
<circle cx="811.8" cy="609.6" r="12.5" fill="#00CBFF" stroke="#000" stroke-width="2.0"/>
<circle cx="857.2" cy="638.3" r="7.00" fill="none" stroke="#E6E600" stroke-width="1.8"/>
<circle cx="891.2" cy="660" r="12.5" fill="#9400CC" stroke="#000" stroke-width="2.0"/>
<circle cx="861.2" cy="669.2" r="12.5" fill="#EEE232" stroke="#000" stroke-width="2.0"/>
<circle cx="785.5" cy="671.4" r="12.5" fill="#EEE232" stroke="#000" stroke-width="2.0"/>
<circle cx="785.5" cy="671.4" r="7.00" fill="none" stroke="#E6E600" stroke-width="1.8"/>
<circle cx="632" cy="672.4" r="7.00" fill="none" stroke="#9400CC" stroke-width="1.8"/>
<circle cx="651.5" cy="686.5" r="12.5" fill="#FF0000" stroke="#000" stroke-width="2.0"/>
<circle cx="808.7" cy="696" r="7.00" fill="none" stroke="#9400CC" stroke-width="1.8"/>
<circle cx="886.5" cy="712" r="12.5" fill="#9400CC" stroke="#000" stroke-width="2.0"/>
<circle cx="675" cy="741.3" r="12.5" fill="#EEE232" stroke="#000" stroke-width="2.0"/>
<circle cx="702" cy="761" r="19.5" fill="#9400CC" stroke="#000" stroke-width="2.0"/>
<circle cx="554" cy="746.7" r="7.00" fill="none" stroke="#9400CC" stroke-width="1.8"/>
<circle cx="635.5" cy="772.7" r="19.5" fill="#9400CC" stroke="#000" stroke-width="2.0"/>
<circle cx="635.5" cy="772.7" r="8.3" fill="#EEE232" stroke="#000" stroke-width="2.0"/>
<circle cx="806.2" cy="764" r="7.00" fill="none" stroke="#9400CC" stroke-width="1.8"/>
<circle cx="596.6" cy="791.3" r="7.00" fill="none" stroke="#9400CC" stroke-width="1.8"/>
<circle cx="702.1" cy="792.2" r="8.3" fill="#9400CC" stroke="#000" stroke-width="2.0"/>
<circle cx="730" cy="808.5" r="8.3" fill="#FF0000" stroke="#000" stroke-width="2.0"/>
<circle cx="661" cy="814.2" r="19.5" fill="#9400CC" stroke="#000" stroke-width="2.0"/>
<circle cx="687.5" cy="820.3" r="12.5" fill="#9400CC" stroke="#000" stroke-width="2.0"/>
<circle cx="684.1" cy="836" r="8.3" fill="#EEE232" stroke="#000" stroke-width="2.0"/>
<circle cx="621.3" cy="838" r="12.5" fill="#EEE232" stroke="#000" stroke-width="2.0"/>
<circle cx="839.6" cy="816.6" r="12.5" fill="#9400CC" stroke="#000" stroke-width="2.0"/>
<circle cx="835.9" cy="819.7" r="12.5" fill="#EEE232" stroke="#000" stroke-width="2.0"/>
<circle cx="871" cy="808.8" r="12.5" fill="#FF0000" stroke="#000" stroke-width="2.0"/>
<circle cx="889.6" cy="841.3" r="19.5" fill="#9400CC" stroke="#000" stroke-width="2.0"/>
<circle cx="889.6" cy="841.3" r="12.5" fill="#EEE232" stroke="#000" stroke-width="2.0"/>
<circle cx="676.5" cy="851.2" r="7.00" fill="none" stroke="#9400CC" stroke-width="1.8"/>
<circle cx="741.7" cy="859.8" r="12.5" fill="#9400CC" stroke="#000" stroke-width="2.0"/>
<circle cx="741.7" cy="859.8" r="8.3" fill="#EEE232" stroke="#000" stroke-width="2.0"/>
<circle cx="598.4" cy="866.8" r="8.3" fill="#9400CC" stroke="#000" stroke-width="2.0"/>
<circle cx="614.6" cy="890" r="8.3" fill="#EEE232" stroke="#000" stroke-width="2.0"/>
<circle cx="698.9" cy="884.5" r="7.00" fill="none" stroke="#9400CC" stroke-width="1.8"/>
<circle cx="622.9" cy="905.9" r="12.5" fill="#9400CC" stroke="#000" stroke-width="2.0"/>
<circle cx="622.9" cy="905.9" r="8.3" fill="#EEE232" stroke="#000" stroke-width="2.0"/>
<circle cx="688.5" cy="900.2" r="12.5" fill="#00CBFF" stroke="#000" stroke-width="2.0"/>
<circle cx="688.5" cy="900.2" r="5.6" fill="#fff"/>
<circle cx="835.7" cy="897" r="19.5" fill="#00CBFF" stroke="#000" stroke-width="2.0"/>
<circle cx="663.7" cy="922.2" r="7.00" fill="#fff" stroke="#00CBFF" stroke-width="1.8"/>
<circle cx="710.4" cy="931.3" r="8.3" fill="#00CBFF" stroke="#000" stroke-width="2.0"/>
<circle cx="710.4" cy="931.3" r="5.1" fill="#fff"/>
<circle cx="785.4" cy="948" r="12.5" fill="#EEE232" stroke="#000" stroke-width="2.0"/>
<circle cx="904" cy="934.6" r="12.5" fill="#00CBFF" stroke="#000" stroke-width="2.0"/>
<circle cx="926" cy="951" r="12.5" fill="#9400CC" stroke="#000" stroke-width="2.0"/>
<circle cx="654" cy="961" r="7.00" fill="none" stroke="#9400CC" stroke-width="1.8"/>
<circle cx="632.6" cy="975.3" r="19.5" fill="#9400CC" stroke="#000" stroke-width="2.0"/>
<circle cx="632.6" cy="975.3" r="8.3" fill="#FF0000" stroke="#000" stroke-width="2.0"/>
<circle cx="689" cy="970.5" r="19.5" fill="#9400CC" stroke="#000" stroke-width="2.0"/>
<circle cx="662.8" cy="981" r="12.5" fill="#9400CC" stroke="#000" stroke-width="2.0"/>
<circle cx="731" cy="974" r="7.00" fill="none" stroke="#9400CC" stroke-width="1.8"/>
<circle cx="734.7" cy="971.6" r="7.00" fill="none" stroke="#9400CC" stroke-width="1.8"/>
<circle cx="714.5" cy="985" r="7.00" fill="none" stroke="#E6E600" stroke-width="1.8"/>
<circle cx="857.6" cy="983.8" r="7.00" fill="#fff" stroke="#00CBFF" stroke-width="1.8"/>
<circle cx="785.7" cy="1003" r="7.00" fill="#fff" stroke="#00CBFF" stroke-width="1.8"/>
<circle cx="743.8" cy="1021.7" r="19.5" fill="#9400CC" stroke="#000" stroke-width="2.0"/>
<circle cx="743.8" cy="1022" r="6.90" fill="none" stroke="#FF0000" stroke-width="2.0"/>
<circle cx="700.3" cy="1023.7" r="7.00" fill="none" stroke="#9400CC" stroke-width="1.8"/>
<circle cx="913.7" cy="1019.4" r="12.5" fill="#FF0000" stroke="#000" stroke-width="2.0"/>
<circle cx="671.3" cy="1031" r="7.00" fill="none" stroke="#9400CC" stroke-width="1.8"/>
<circle cx="665" cy="1045.6" r="12.5" fill="#9400CC" stroke="#000" stroke-width="2.0"/>
<circle cx="567.4" cy="995.2" r="8.3" fill="#EEE232" stroke="#000" stroke-width="2.0"/>
<circle cx="720.2" cy="1106" r="7.00" fill="#fff" stroke="#00CBFF" stroke-width="1.8"/>
<circle cx="730.5" cy="1116" r="7.00" fill="#fff" stroke="#00CBFF" stroke-width="1.8"/>
<circle cx="739.6" cy="1120.4" r="7.00" fill="#fff" stroke="#00CBFF" stroke-width="1.8"/>
<circle cx="828.3" cy="1113.3" r="8.3" fill="#FF0000" stroke="#000" stroke-width="2.0"/>
<circle cx="916" cy="1109" r="12.5" fill="#9400CC" stroke="#000" stroke-width="2.0"/>
<circle cx="714.5" cy="1146.6" r="12.5" fill="#9400CC" stroke="#000" stroke-width="2.0"/>
<circle cx="755.2" cy="1154.5" r="7.00" fill="#fff" stroke="#00CBFF" stroke-width="1.8"/>
<circle cx="849" cy="1146.6" r="12.5" fill="#9400CC" stroke="#000" stroke-width="2.0"/>
<circle cx="673.3" cy="1166" r="7.00" fill="none" stroke="#E6E600" stroke-width="1.8"/>
<circle cx="882.4" cy="1168" r="12.5" fill="#9400CC" stroke="#000" stroke-width="2.0"/>
<circle cx="794.2" cy="1182" r="12.5" fill="#9400CC" stroke="#000" stroke-width="2.0"/>
<circle cx="856.8" cy="1195" r="7.00" fill="none" stroke="#9400CC" stroke-width="1.8"/>
<circle cx="817.8" cy="1207.7" r="19.5" fill="#9400CC" stroke="#000" stroke-width="2.0"/>
<circle cx="749" cy="1221.4" r="12.5" fill="#FF0000" stroke="#000" stroke-width="2.0"/>
<polygon points="317.0,3.2 398.0,7.0 486.0,12.3 556.0,14.0 620.0,14.0 657.0,13.2 885.0,14.0 886.5,214.0 909.0,540.0 934.5,880.0 956.5,1217.0 661.0,1228.2 661.4,1225.6 659.1,1224.6 659.9,1221.8 658.0,1219.0 655.5,1217.5 656.3,1214.7 655.9,1213.2 653.0,1210.6 654.1,1210.7 652.5,1208.3 648.8,1205.5 649.0,1202.8 648.8,1202.0 644.8,1201.8 643.1,1200.5 642.5,1197.8 640.5,1196.0 638.6,1193.1 639.1,1192.2 637.3,1190.6 636.4,1191.2 634.0,1189.0 631.7,1187.2 628.6,1184.7 629.0,1182.1 628.1,1182.4 625.5,1179.1 624.5,1177.4 625.0,1175.7 620.8,1173.2 621.6,1174.3 619.6,1171.2 618.5,1170.3 616.2,1168.3 615.9,1166.8 613.5,1163.8 612.8,1164.5 611.5,1161.9 613.8,1159.5 615.4,1160.7 619.8,1158.4 619.6,1157.2 620.2,1156.0 618.7,1154.0 620.4,1150.7 620.1,1148.3 618.6,1145.5 620.1,1143.2 617.7,1143.0 619.8,1139.9 619.9,1136.7 618.1,1135.4 618.5,1133.0 617.3,1131.5 619.7,1131.5 619.1,1127.9 617.6,1127.4 618.3,1124.7 616.7,1121.1 619.0,1120.9 619.0,1118.3 617.6,1116.2 617.9,1113.6 616.0,1111.6 615.7,1108.9 614.5,1109.9 611.5,1106.9 612.4,1105.9 612.0,1102.0 611.1,1101.9 612.4,1097.4 609.6,1095.1 609.1,1094.1 609.2,1093.2 610.5,1088.9 609.6,1087.5 609.0,1085.2 607.5,1083.1 607.6,1082.6 607.6,1078.6 607.5,1079.1 607.2,1076.9 603.9,1074.1 603.0,1073.3 602.3,1071.4 601.5,1069.6 600.6,1065.9 599.8,1064.9 600.3,1063.1 598.0,1062.1 598.1,1059.1 595.9,1058.6 595.1,1058.3 592.6,1055.8 592.1,1053.7 588.9,1055.6 589.9,1055.3 586.2,1058.4 583.8,1056.7 581.4,1058.9 581.1,1057.7 578.4,1056.4 577.8,1055.7 576.7,1053.5 575.7,1051.1 574.0,1049.7 573.9,1048.6 575.0,1046.7 572.7,1043.2 571.4,1042.0 570.9,1041.4 568.2,1037.9 566.9,1037.7 565.6,1036.8 562.4,1035.8 560.8,1034.3 559.1,1032.0 556.0,1031.0 554.7,1028.3 555.3,1027.4 555.2,1022.5 552.6,1021.4 552.2,1018.9 552.0,1016.7 550.7,1017.3 551.4,1013.9 548.8,1013.4 549.6,1009.3 547.4,1008.8 547.4,1005.8 547.2,1004.1 544.1,1003.9 542.8,1001.5 540.7,1000.9 538.8,999.8 538.6,999.7 535.0,999.8 532.3,998.0 530.9,997.3 528.5,998.3 526.2,996.8 527.1,995.5 522.6,993.8 521.1,992.5 521.6,989.8 518.0,989.0 516.8,986.7 516.4,986.8 514.6,982.9 514.5,983.3 512.4,979.3 510.0,978.7 509.7,976.5 509.1,976.7 508.1,975.2 505.2,972.0 505.1,970.7 506.9,968.0 505.1,963.7 506.4,963.3 505.4,960.8 505.4,958.4 503.3,956.4 502.3,955.5 503.0,952.2 499.4,951.8 500.1,949.1 497.8,947.1 496.0,946.7 496.8,945.5 494.2,942.2 495.4,941.8 492.7,940.6 492.4,938.5 489.1,937.8 488.1,933.8 487.2,933.7 486.7,931.0 485.6,930.3 482.7,929.8 483.3,928.3 481.5,924.7 480.5,924.9 478.3,923.2 478.3,919.8 476.8,919.7 475.0,918.6 472.3,922.0 471.7,924.1 470.4,924.0 469.3,925.3 467.1,924.5 465.5,925.8 462.8,926.5 461.1,925.6 458.0,923.7 457.6,922.1 458.8,919.6 456.0,916.6 456.2,916.2 454.3,914.5 454.1,910.8 455.3,910.1 454.2,908.0 450.9,905.2 450.8,904.4 450.8,902.8 449.5,899.3 447.2,898.0 445.8,896.1 444.3,895.1 441.2,894.6 441.3,892.9 441.1,890.7 441.3,887.6 438.9,884.5 439.1,884.2 438.2,883.5 436.4,879.2 437.4,878.9 435.9,874.7 433.4,878.0 431.5,877.9 428.9,879.4 427.3,880.6 425.8,880.8 422.1,879.3 421.1,880.9 419.3,879.1 417.4,879.6 413.5,876.2 413.6,874.1 412.6,872.9 410.5,871.4 407.7,869.8 407.0,870.0 404.7,868.6 403.5,867.1 402.1,864.4 399.9,862.7 402.8,861.9 402.2,861.5 405.0,857.1 406.3,857.0 406.7,854.8 409.4,852.6 406.8,852.0 404.4,849.7 404.0,849.2 401.5,847.4 399.2,846.9 396.8,845.2 396.3,842.8 394.9,842.6 391.6,841.2 390.0,840.9 388.9,841.1 386.9,841.8 385.3,843.8 385.0,847.4 382.2,846.8 381.1,847.3 378.7,849.8 376.1,850.1 375.1,848.8 374.1,848.2 373.5,844.8 374.8,844.5 374.5,841.9 372.8,838.7 373.6,838.4 373.6,835.9 372.4,833.0 374.7,831.8 373.6,828.0 374.4,825.7 374.3,825.8 373.3,823.1 371.4,820.5 372.7,819.5 371.7,817.9 369.8,814.5 369.1,812.8 370.3,812.2 367.5,809.0 366.6,808.2 366.7,805.1 365.6,805.1 364.8,802.3 364.4,799.4 363.2,796.8 361.1,795.0 359.4,794.1 357.1,795.4 355.8,792.9 352.6,792.5 353.1,792.5 351.8,790.0 351.1,788.5 350.7,786.6 349.0,783.7 348.9,783.2 348.6,779.9 346.7,779.0 347.4,774.5 346.1,774.2 345.3,772.6 345.1,768.2 344.2,767.0 341.0,767.4 339.0,764.2 339.0,762.3 336.6,762.4 336.3,760.7 335.4,759.4 334.2,757.5 332.9,754.7 330.6,753.0 330.9,755.5 328.8,757.5 327.9,757.9 327.7,759.9 326.0,761.8 326.9,765.8 323.4,764.4 321.3,763.0 319.6,761.8 318.6,760.7 315.3,761.0 312.2,759.2 311.6,760.0 311.6,756.4 309.7,754.8 309.1,754.5 306.6,751.2 308.1,749.4 306.4,749.0 304.8,746.6 303.5,743.0 303.5,740.8 303.1,737.6 302.7,737.8 299.7,738.7 298.3,739.3 295.4,737.0 293.8,736.3 292.3,736.4 288.3,735.6 286.7,736.9 286.8,735.0 285.1,731.8 282.6,730.3 281.7,730.3 282.1,726.2 280.7,727.0 277.9,724.6 277.9,721.2 276.3,721.7 276.1,719.6 272.8,717.1 273.0,715.9 271.0,712.9 269.9,711.8 270.7,707.6 269.8,705.9 271.1,705.4 269.7,704.4 272.7,700.8 271.9,698.6 272.3,696.7 270.9,695.9 269.2,692.7 270.0,690.7 267.0,690.9 266.4,687.6 266.5,686.0" fill="none" stroke="#000" stroke-width="2.2" stroke-linejoin="round"/>
<text x="351.5" y="67" font-size="32" text-anchor="start" font-weight="normal" >Alberta</text>
<text x="337.5" y="582" font-size="31.6" text-anchor="start" font-weight="normal" >Grande Prairie</text>
<text x="717.7" y="741" font-size="32" text-anchor="start" font-weight="normal" >Edmonton</text>
<text x="520.5" y="1038" font-size="32" text-anchor="start" font-weight="normal" >Calgary</text>
<line x1="591" y1="92" x2="591" y2="176" stroke="#000" stroke-width="3.8"/>
<polygon points="591,65.5 606.4,101 591,96 576.2,101" fill="#000"/>
<text transform="translate(550.3,143.5) scale(0.915,0.985)" x="0" y="0" font-size="49.2" font-weight="bold">N</text>
<rect x="657.5" y="1.5" width="301.5" height="213" fill="#fff" stroke="#000" stroke-width="2.6"/>
<polygon points="716.9,58.6 715.9,60.0 714.4,61.8 712.5,63.4 711.1,64.8 709.8,65.9 708.9,68.2 707.2,69.0 706.4,71.3 704.9,72.2 704.0,73.3 702.5,75.0 700.4,76.3 699.2,78.6 697.7,79.8 696.8,81.0 695.4,82.2 693.5,83.8 692.8,85.5 691.0,87.2 689.8,88.3 688.8,90.3 686.9,91.6 685.8,93.4 687.0,96.4 687.8,98.3 687.8,101.1 688.1,103.0 688.7,105.7 690.3,108.1 691.7,109.4 692.7,111.2 693.9,112.7 695.1,115.8 695.6,118.2 695.1,120.9 695.8,123.9 696.9,125.4 697.3,128.1 695.1,129.9 693.4,131.6 691.4,133.3 689.6,133.7 689.2,136.4 688.2,137.9 688.1,140.4 689.0,142.4 689.1,143.9 689.8,146.4 691.8,147.6 692.3,149.7 693.7,152.0 695.4,153.7 696.1,155.9 697.9,158.1 700.0,160.7 701.0,163.1 701.5,164.8 702.0,167.9 702.3,170.2 703.9,170.2 705.7,170.9 707.7,170.7 710.0,171.2 712.3,171.5 714.0,172.0 716.2,172.6 718.3,173.6 721.0,173.2 722.7,173.8 725.0,174.0 727.5,175.4 729.1,175.2 730.8,175.2 733.1,175.8 735.6,176.1 736.8,177.4 739.4,176.9 741.4,177.2 743.5,178.6 745.9,178.7 747.2,178.8 749.3,179.4 751.8,179.6 753.7,179.2 756.4,180.3 758.5,180.3 760.6,180.4 762.1,180.4 764.4,180.0 766.2,180.5 768.5,181.2 771.4,181.1 773.5,181.9 775.7,181.5 776.9,181.1 778.8,180.9 781.3,181.4 783.5,180.8 785.3,180.9 786.7,180.6 789.6,180.5 791.4,180.0 792.8,180.1 794.9,179.9 797.6,179.3 798.5,181.4 800.4,182.1 801.8,182.5 804.7,183.6 805.9,184.1 808.8,184.3 810.1,184.6 811.9,182.9 814.9,182.6 816.4,181.9 818.4,180.8 820.9,179.1 822.6,178.8 824.9,178.8 827.3,178.3 829.2,180.6 831.5,181.8 833.8,183.9 835.4,185.0 837.3,185.6 839.1,186.0 840.7,187.3 842.3,188.1 844.5,188.0 847.2,188.3 848.8,188.4 851.1,188.9 852.6,189.7 854.8,190.4 857.4,191.6 855.1,192.4 853.5,192.5 852.8,194.6 852.3,196.9 851.9,198.7 851.3,201.6 850.9,203.9 850.5,205.6 853.1,207.4 855.0,205.1 855.8,204.0 857.4,202.4 859.0,201.4 861.4,200.2 862.8,199.0 865.3,197.3 867.6,197.2 868.7,195.7 870.6,193.6 873.1,192.5 873.9,190.5 875.4,188.4 876.0,186.3 877.6,184.0 878.0,182.3 878.0,180.0 879.3,178.0 879.3,176.3 880.6,174.2 880.5,171.2 881.0,169.6 881.7,166.8 882.4,165.7 883.4,162.9 883.1,161.6 884.3,159.3 884.5,156.6 886.0,154.9 886.0,153.5 887.4,151.3 887.6,149.3 888.3,147.3 889.5,144.7 891.4,144.1 892.9,141.9 895.0,140.8 896.3,139.4 897.9,138.0 899.9,136.6 902.1,135.0 903.5,133.4 905.0,131.7 906.6,130.2 908.0,128.7 908.2,126.6 909.8,124.1 910.5,122.5 910.9,120.9 909.4,118.5 908.4,117.0 906.7,114.8 904.8,113.8 902.2,112.7 899.5,111.7 897.2,111.6 895.4,111.6 893.2,113.1 892.0,113.6 889.3,112.6 887.3,112.3 885.1,111.8 883.2,111.8 881.7,110.4 878.5,109.8 876.2,108.1 873.8,106.9 872.3,105.9 870.0,104.6 867.7,103.2 865.7,102.1 865.3,103.7 865.2,106.0 865.2,108.3 865.0,110.5 864.6,112.8 863.8,114.2 864.1,116.1 863.4,118.7 860.7,117.8 859.6,116.6 857.4,115.7 855.7,112.9 855.0,110.7 853.3,109.7 851.0,108.7 849.1,107.5 846.6,106.1 844.4,105.7 842.4,105.6 840.4,105.9 837.9,106.5 835.2,107.3 833.0,109.6 833.7,111.4 834.9,112.9 836.0,115.1 837.3,117.2 840.1,119.2 839.1,122.6 837.8,124.5 839.3,126.8 841.1,128.7 843.0,129.5 844.5,131.1 847.2,132.5 848.5,134.2 849.5,136.4 849.2,139.3 848.1,141.3 846.9,143.9 845.5,145.1 844.6,146.9 843.3,149.4 843.5,150.9 845.7,153.5 846.6,154.8 847.6,157.6 846.1,159.2 844.5,161.1 843.4,159.4 841.2,158.4 839.2,157.3 837.1,155.5 836.1,152.5 834.2,151.0 833.6,148.7 832.3,146.7 830.1,147.9 827.4,148.5 826.0,148.5 823.7,148.5 821.3,147.3 818.4,146.8 817.0,146.0 814.2,144.8 812.1,143.3 809.9,143.2 807.7,144.0 805.3,143.9 803.2,144.6 802.3,143.4 802.1,141.1 801.1,139.2 800.7,136.8 797.9,134.7 795.4,133.6 795.4,131.3 794.9,128.1 795.9,126.2 795.7,124.4 795.9,122.8 798.0,120.2 799.0,118.2 800.3,116.3 800.8,114.0 801.9,112.8 803.2,110.0 802.7,108.8 801.3,105.9 800.0,103.8 799.3,101.8 798.2,99.9 796.3,99.7 794.3,98.3 791.7,97.5 789.4,96.4 787.2,95.5 786.4,94.4 784.1,94.0 782.7,92.7 780.3,91.8 778.7,91.1 777.5,90.7 775.6,88.9 772.7,89.0 771.7,88.2 769.3,87.1 767.1,87.5 765.6,86.8 763.8,85.6 760.8,84.9 759.3,84.9 757.8,84.3 755.3,83.3 753.0,82.0 750.4,81.2 748.4,80.2 746.8,78.5 743.8,80.2 743.5,78.6 742.0,75.8 741.6,74.3 740.3,71.8 739.3,69.5 737.8,68.0 736.4,67.7 734.3,67.1 731.5,66.4 730.2,66.4 727.4,65.2 725.5,65.5 722.7,65.5 720.3,66.7 719.1,63.0 718.7,60.8" fill="#fff" stroke="#000" stroke-width="1.9" stroke-linejoin="round"/>
<polygon points="731.4,121.6 755.5,126.1 747.5,178.9 726.9,174.4 727.8,164.6 723.3,153.8 721.6,148.5" fill="#6E6E6E" stroke="#000" stroke-width="1.6"/>
<polyline points="685.7,93.0 687.7,93.9 689.6,95.3 691.2,96.1 693.2,97.2 694.9,98.2 696.4,99.6 698.2,100.8 700.1,101.5 701.7,102.7 703.8,104.1 705.3,105.0 707.1,106.5 708.8,107.2 710.6,108.6 712.8,110.1 714.5,111.4 716.4,112.2 717.8,113.8 719.9,114.5 721.6,115.9 723.2,117.1 724.9,117.8 726.8,118.9 729.0,119.6 730.8,120.5 732.2,121.8 734.6,122.0 736.2,122.4 738.6,123.1 740.6,123.2 743.1,123.4 744.9,124.2 747.2,124.2 748.9,124.6 751.5,125.1 753.5,125.9 755.4,126.0 757.9,126.4 759.7,126.7 761.8,126.7 763.8,127.2 766.5,127.3 768.7,127.2 770.4,127.7 773.0,128.2 774.8,128.0 777.0,128.4 779.4,128.2 781.6,128.4 783.8,128.4 785.8,128.1 787.8,128.0 790.3,127.8 792.1,128.2 794.4,127.7 796.7,127.9" fill="none" stroke="#000" stroke-width="1.6" stroke-linejoin="round"/>
<polyline points="716.8,59.9 717.4,62.5 718.1,64.9 718.0,66.7 718.3,69.3 719.0,71.6 718.3,73.5 718.2,75.7 717.8,77.7 717.4,79.3 717.1,81.4 716.5,83.4 716.2,85.3 715.5,87.3 715.1,89.6 715.6,91.5 715.7,94.2 716.0,96.0 716.4,98.4 716.7,100.3 716.6,103.0 717.1,105.3 716.8,107.2 717.5,109.5 718.6,112.1 718.9,114.5" fill="none" stroke="#000" stroke-width="1.6" stroke-linejoin="round"/>
<polyline points="745.1,80.4 746.0,82.4 746.6,84.5 748.0,86.0 748.7,88.3 749.4,90.0 750.4,91.9 751.4,94.0 752.6,95.7 753.2,97.7 754.5,99.5 755.3,101.5 756.5,103.6 757.0,105.3 759.2,106.0 761.3,106.2 763.0,107.0 765.1,107.2 767.0,108.0 769.0,108.2 771.0,108.6 773.3,109.4 774.9,109.4 777.1,109.8 776.8,112.3 777.2,114.4 777.2,116.5 777.4,118.2 777.2,120.5 777.7,122.8 777.5,124.7 777.7,126.7 777.9,128.8" fill="none" stroke="#000" stroke-width="1.6" stroke-linejoin="round"/>
<polyline points="776.8,128.3 776.9,130.7 776.6,132.5 777.0,134.8 776.5,136.4 776.9,138.9 776.6,140.4 776.8,142.7 776.7,144.8 776.6,146.6 776.5,148.7 776.2,151.1 776.4,152.8 775.9,154.9 776.0,157.0 775.7,158.9 776.0,161.4 775.5,163.2 775.9,165.0 775.9,167.0 775.7,169.4 775.6,171.3 775.4,173.5 775.4,175.6 775.3,177.5 775.0,179.6 775.2,181.6" fill="none" stroke="#000" stroke-width="1.6" stroke-linejoin="round"/>
<polyline points="796.7,127.7 795.5,131.0" fill="none" stroke="#000" stroke-width="1.6" stroke-linejoin="round"/>
<polyline points="811.5,145.1 810.0,146.5 808.7,148.2 807.2,150.1 805.9,151.9 804.9,153.4 803.6,155.2 802.4,157.3 801.0,158.7 799.7,160.6 798.7,162.2 797.3,164.5 797.2,166.6 796.9,168.8 797.1,171.0 797.3,172.7 797.3,175.3 796.8,177.1 797.1,179.4" fill="none" stroke="#000" stroke-width="1.6" stroke-linejoin="round"/>
<polyline points="850.2,160.9 850.7,163.2 851.2,165.3 851.5,168.0 851.8,169.8 852.5,172.0 852.7,174.1 854.2,176.6 855.8,178.6 856.9,180.6 858.9,180.8 861.2,181.2 863.4,181.7 865.2,182.3 867.0,182.8 869.3,181.8 871.5,181.1 873.6,180.7 875.3,180.2 877.4,179.4" fill="none" stroke="#000" stroke-width="1.6" stroke-linejoin="round"/>
<polyline points="868.3,110.1 867.9,112.2 867.5,114.6 866.8,117.2 866.3,119.2 865.6,121.0 864.9,123.3 867.5,124.1 869.7,125.0 871.7,125.2 874.3,125.7 876.1,126.5 877.4,128.5 878.8,130.7 880.3,132.5 881.6,134.7 883.3,135.7 885.4,136.0 887.3,137.1 889.8,138.0 891.1,136.4 892.4,135.4 894.3,133.9 895.9,132.8 897.7,131.7 898.8,130.5 900.3,129.0 902.0,127.6 903.4,126.7 904.9,125.3 907.0,123.8 908.2,122.8 909.9,121.5" fill="none" stroke="#000" stroke-width="1.6" stroke-linejoin="round"/>
<polyline points="879.0,178.1 880.4,175.8 881.4,173.9 882.5,172.2 884.2,170.1 884.6,168.2 885.9,166.0 886.8,164.0 887.3,161.8 888.0,159.5 888.7,157.6 889.5,155.5 890.1,152.9 891.0,151.0 892.2,149.0 893.0,147.0" fill="none" stroke="#000" stroke-width="1.6" stroke-linejoin="round"/>
<polygon points="912.7,121.7 915.9,121.3 918.0,121.2 919.3,121.7 922.2,122.9 924.4,122.3 926.4,123.4 927.2,125.4 929.5,126.3 931.3,127.9 932.8,128.8 934.8,130.0 936.2,131.0 935.9,132.4 934.9,134.9 932.3,136.3 930.1,136.1 927.6,138.4 925.7,138.1 923.1,138.8 921.7,140.4 919.5,141.3 916.4,141.9 915.8,139.9 915.4,137.6 914.0,134.7" fill="#fff" stroke="#000" stroke-width="1.9" stroke-linejoin="round"/>
<polygon points="896.1,143.3 899.3,143.2 900.2,142.0 902.3,141.5 905.3,142.4 907.1,142.3 909.0,142.5 910.1,143.3 912.9,144.4 914.2,145.8 915.7,146.5 917.9,148.2 919.9,148.6 919.7,151.3 918.5,153.9 916.3,156.0 916.1,158.3 915.1,160.1 914.6,161.3 914.2,162.9 913.3,164.9 911.3,166.8 910.3,169.9 907.2,171.3 907.6,169.3 906.8,166.6 906.7,164.7 904.3,164.0 902.0,162.3 900.3,161.9 897.2,161.3 896.4,159.5 896.6,157.4 895.9,154.8 896.9,152.8 899.0,150.4 899.8,148.9" fill="#fff" stroke="#000" stroke-width="1.9" stroke-linejoin="round"/>
<polygon points="688.2,153.7 689.8,154.9 692.2,156.0 693.6,158.2 695.2,160.0 697.0,162.2 698.5,163.8 699.6,165.2 700.8,167.2 699.1,170.1 697.1,168.3 695.8,166.7 693.8,165.0 692.6,162.8 690.5,160.9 689.0,159.0" fill="#fff" stroke="#000" stroke-width="1.9" stroke-linejoin="round"/>
<polygon points="683.1,133.1 684.9,133.9 685.2,135.9 685.7,137.9 685.9,139.9 684.0,142.0" fill="#fff" stroke="#000" stroke-width="1.9" stroke-linejoin="round"/>
<polygon points="743.8,60.4 743.6,58.7 744.9,55.8 747.5,54.5 748.4,51.9 750.0,51.7 752.4,50.5 754.8,52.3 756.8,55.5 758.8,57.5 760.2,59.9 758.8,62.2 758.5,64.4 758.7,65.9 756.1,67.7 753.9,68.2 752.4,70.6 750.4,70.0 748.6,69.6 746.2,68.9 744.4,67.5 742.7,65.5 742.0,64.0" fill="#fff" stroke="#000" stroke-width="2.3" stroke-linejoin="round"/>
<polygon points="752.5,64.3 754.2,62.3 755.9,61.3 758.2,59.9 760.3,60.7 761.5,60.2 764.4,59.8 766.0,60.8 767.3,60.7 769.5,61.8 772.7,62.0 773.4,64.1 776.1,66.3 775.5,68.2 775.5,70.0 774.4,72.7 773.5,74.3 774.5,76.4 774.7,78.8 775.8,79.3 774.1,81.3 772.2,82.9 771.4,84.8 769.8,85.6 767.6,86.6 766.7,86.5 763.6,87.2 761.8,86.5 759.1,86.8 757.8,85.9 755.0,85.1 753.6,83.4 752.8,80.6 752.5,78.5 752.6,75.7 753.4,73.4 754.0,72.0" fill="#fff" stroke="#000" stroke-width="2.3" stroke-linejoin="round"/>
<polygon points="808.5,56.8 810.9,57.0 812.5,57.3 814.9,57.5 816.2,59.2 818.6,59.2 820.7,60.4 822.9,61.4 825.3,61.8 827.7,63.2 828.3,63.9 831.6,64.5 832.4,65.2 835.2,64.6 836.2,66.7 839.5,66.1 840.9,66.4 843.3,67.9 845.8,67.4 848.9,69.5 850.0,70.6 852.9,71.5 855.3,72.6 855.7,74.5 855.0,76.3 855.8,78.4 855.9,80.6 854.1,80.3 851.6,80.8 850.0,81.3 851.9,82.8 854.0,84.7 856.1,86.6 857.2,88.5 859.9,90.1 861.0,92.5 861.3,93.9 863.0,95.3 863.2,98.2 859.9,98.8 858.6,100.0 855.7,100.8 854.0,99.0 852.6,97.3 850.3,97.2 847.7,96.6 845.8,95.5 844.0,95.4 841.5,94.4 839.9,94.1 838.5,92.7 836.5,91.8 834.0,90.6 832.0,90.8 830.2,88.8 827.7,86.4 825.7,85.1 824.2,83.8 821.3,82.0 820.6,80.1 817.8,78.2 816.2,76.5 816.2,75.7 814.3,74.5 813.5,72.6 811.8,71.0 810.7,69.4 809.5,67.1 808.0,66.0" fill="#fff" stroke="#000" stroke-width="2.3" stroke-linejoin="round"/>
<polygon points="783.1,32.9 784.3,30.4 784.4,28.3 786.4,27.7 787.2,24.5 788.5,23.0 789.1,19.9 789.7,17.9 791.4,16.4 793.6,15.7 794.3,13.6 796.6,12.2 800.2,12.2 802.7,11.3 803.6,12.0 806.8,13.7 807.5,15.2 806.6,16.9 806.9,19.3 806.1,21.2 805.8,24.4 805.9,27.0 805.8,29.0 805.8,29.7 806.6,32.2 806.5,34.2 805.4,37.3 806.3,39.6 806.5,40.5 806.5,43.7 806.4,46.3 806.2,48.5 807.0,49.2 803.7,51.2 802.7,51.3 799.7,53.4 796.9,53.5 794.8,52.1 792.9,51.6 791.3,50.5 789.1,49.5 787.8,47.9 787.2,45.6 785.8,44.3 785.7,42.4 784.0,40.0" fill="#fff" stroke="#000" stroke-width="2.3" stroke-linejoin="round"/>
<polygon points="796.1,51.7 797.3,52.4 800.3,51.7 801.7,51.0 804.8,50.9 806.2,49.7 807.9,52.3 809.8,53.6 812.2,55.6 810.5,56.7 807.2,58.6 805.9,58.9 804.5,59.2 801.3,58.9 800.5,58.8 798.0,58.0" fill="#fff" stroke="#000" stroke-width="2.3" stroke-linejoin="round"/>
<polygon points="770.1,39.6 772.6,39.9 774.3,39.5 775.8,37.6 778.1,38.2 779.5,37.5 782.7,36.1 784.2,36.3 785.1,37.3 786.0,40.0 788.1,41.3 788.1,43.7 790.4,44.6 789.1,47.4 788.6,48.5 787.0,50.4 785.5,51.5 783.5,52.3 781.8,52.1 779.8,52.0 777.4,51.3 776.8,51.8 773.4,52.2 772.5,50.2 770.2,49.3 768.0,47.5 766.0,47.0" fill="#fff" stroke="#000" stroke-width="2.3" stroke-linejoin="round"/>
<polygon points="754.3,45.8 757.8,44.5 759.4,43.6 761.9,43.4 764.4,43.4 766.3,43.2 767.6,41.3 768.5,43.5 769.3,45.3 771.1,48.6 771.9,50.7 771.1,50.7 769.0,52.6 766.6,54.9 765.2,55.7 764.2,57.7 762.3,56.4 759.9,55.7 758.7,56.6 755.6,54.7 754.0,55.0" fill="#fff" stroke="#000" stroke-width="2.3" stroke-linejoin="round"/>
<polygon points="775.6,59.8 778.6,60.2 780.5,58.5 782.5,59.1 784.2,59.2 785.3,57.4 787.4,60.7 788.3,61.7 789.1,64.4 789.4,65.7 788.8,67.4 788.4,69.5 787.2,71.4 787.1,73.2 786.3,75.5 783.3,76.2 781.6,75.7 780.6,75.1 778.0,74.0" fill="#fff" stroke="#000" stroke-width="2.3" stroke-linejoin="round"/>
<polygon points="806.4,101.9 808.4,102.2 811.5,101.2 812.9,100.2 815.5,100.0 817.0,100.4 818.1,101.3 820.6,103.1 821.4,104.6 821.1,105.9 820.4,107.6 821.0,109.7 819.5,112.0 817.7,113.0 815.4,113.6 813.3,113.8 812.3,113.1 810.0,113.7 808.3,111.5 807.1,110.8 806.0,108.0" fill="#fff" stroke="#000" stroke-width="2.3" stroke-linejoin="round"/>
<polygon points="790.8,70.7 791.4,69.2 794.6,68.3 796.4,68.2 798.8,67.2 799.5,69.7 799.4,71.2 801.5,74.0 801.5,75.9 801.5,77.1 799.7,78.6 797.9,81.2 797.5,81.9 795.3,83.3 794.2,82.7 791.6,80.9 790.0,80.0" fill="#fff" stroke="#000" stroke-width="2.3" stroke-linejoin="round"/>
<polyline points="774.8,50.3 774.5,51.9 772.7,53.2 772.5,53.7 770.6,53.5 768.5,53.7" fill="none" stroke="#000" stroke-width="2.0" stroke-linejoin="round"/>
<polyline points="795.0,52.0 797.7,52.6 798.4,51.1 795.5,51.3 792.9,49.9 791.3,47.8" fill="none" stroke="#000" stroke-width="2.0" stroke-linejoin="round"/>
<polyline points="775.3,47.7 775.5,48.3 775.5,49.0 775.2,48.0" fill="none" stroke="#000" stroke-width="2.0" stroke-linejoin="round"/>
<polyline points="799.9,59.9 801.1,59.1 799.5,58.2" fill="none" stroke="#000" stroke-width="2.0" stroke-linejoin="round"/>
<polyline points="757.2,54.9 754.9,53.9 752.3,51.8 753.4,50.6 755.9,48.6 755.2,49.5" fill="none" stroke="#000" stroke-width="2.0" stroke-linejoin="round"/>
<polyline points="773.3,50.5 775.0,49.4 772.5,48.7 775.3,49.8" fill="none" stroke="#000" stroke-width="2.0" stroke-linejoin="round"/>
<polyline points="759.4,43.4 756.5,43.3 756.4,44.1" fill="none" stroke="#000" stroke-width="2.0" stroke-linejoin="round"/>
<polyline points="762.7,49.2 762.2,48.7 761.6,50.8 758.6,52.4" fill="none" stroke="#000" stroke-width="2.0" stroke-linejoin="round"/>
<polyline points="798.8,51.0 797.1,50.6 799.2,51.2" fill="none" stroke="#000" stroke-width="2.0" stroke-linejoin="round"/>
<polyline points="758.6,59.8 758.3,57.6 758.9,59.1 758.2,57.2" fill="none" stroke="#000" stroke-width="2.0" stroke-linejoin="round"/>
<polyline points="763.6,52.0 764.2,51.4 763.9,53.5" fill="none" stroke="#000" stroke-width="2.0" stroke-linejoin="round"/>
<polyline points="776.3,50.6 774.3,49.1 776.8,50.5 775.3,49.2 776.7,51.1 774.9,53.1" fill="none" stroke="#000" stroke-width="2.0" stroke-linejoin="round"/>
<polyline points="794.6,51.3 791.9,49.6 791.9,48.5 793.4,48.0 792.9,49.8 792.8,49.9" fill="none" stroke="#000" stroke-width="2.0" stroke-linejoin="round"/>
<polyline points="796.7,59.5 795.1,59.8 797.2,60.3 795.9,62.1" fill="none" stroke="#000" stroke-width="2.0" stroke-linejoin="round"/>
<polyline points="763.4,38.4 762.9,37.3 760.1,36.3 760.3,38.4 757.9,36.8" fill="none" stroke="#000" stroke-width="2.0" stroke-linejoin="round"/>
<polyline points="774.7,45.3 775.3,47.1 775.1,46.5 774.0,44.5" fill="none" stroke="#000" stroke-width="2.0" stroke-linejoin="round"/>
<polyline points="781.5,39.6 782.9,38.8 785.9,37.0" fill="none" stroke="#000" stroke-width="2.0" stroke-linejoin="round"/>
<polyline points="779.1,54.2 780.9,56.0 780.0,56.9 782.4,58.5" fill="none" stroke="#000" stroke-width="2.0" stroke-linejoin="round"/>
<polyline points="773.2,55.4 773.6,55.9 772.9,56.3 773.6,54.5 774.4,56.6 776.7,57.6" fill="none" stroke="#000" stroke-width="2.0" stroke-linejoin="round"/>
<polyline points="771.9,54.2 771.5,55.7 769.0,56.8 766.2,57.2 766.1,56.0 767.3,56.0" fill="none" stroke="#000" stroke-width="2.0" stroke-linejoin="round"/>
<polyline points="782.3,58.3 784.6,57.7 782.5,58.2 782.6,59.3 781.7,61.2" fill="none" stroke="#000" stroke-width="2.0" stroke-linejoin="round"/>
<polyline points="776.9,43.3 777.9,42.0 777.5,43.3 780.0,45.0 779.3,45.4 778.2,43.8" fill="none" stroke="#000" stroke-width="2.0" stroke-linejoin="round"/>
<polyline points="776.8,56.4 778.1,58.4 776.8,56.9" fill="none" stroke="#000" stroke-width="2.0" stroke-linejoin="round"/>
<polyline points="774.7,44.1 776.7,43.5 776.8,44.3 778.1,45.8" fill="none" stroke="#000" stroke-width="2.0" stroke-linejoin="round"/>
<polyline points="782.7,45.0 781.4,45.5 782.5,44.6" fill="none" stroke="#000" stroke-width="2.0" stroke-linejoin="round"/>
<polyline points="770.3,52.3 771.1,51.9 769.3,53.1" fill="none" stroke="#000" stroke-width="2.0" stroke-linejoin="round"/>
<polyline points="766.3,55.1 769.2,53.5 766.8,53.6" fill="none" stroke="#000" stroke-width="2.0" stroke-linejoin="round"/>
<polyline points="783.4,46.1 784.5,44.8 784.4,43.4" fill="none" stroke="#000" stroke-width="2.0" stroke-linejoin="round"/>
<polyline points="754.5,48.4 752.6,47.4 751.6,48.3" fill="none" stroke="#000" stroke-width="2.0" stroke-linejoin="round"/>
<polyline points="777.9,51.5 777.3,52.8 779.7,51.0 782.3,52.0" fill="none" stroke="#000" stroke-width="2.0" stroke-linejoin="round"/>
<polyline points="760.0,48.0 759.2,48.3 761.5,49.6" fill="none" stroke="#000" stroke-width="2.0" stroke-linejoin="round"/>
<polyline points="797.4,48.2 795.0,49.8 796.8,51.7 794.6,50.5" fill="none" stroke="#000" stroke-width="2.0" stroke-linejoin="round"/>
<polyline points="772.0,39.9 772.2,41.2 771.1,43.0 773.2,42.3 770.7,42.1" fill="none" stroke="#000" stroke-width="2.0" stroke-linejoin="round"/>
<polyline points="779.3,54.9 781.8,53.7 784.0,53.3 781.2,53.5 782.4,55.3 782.2,57.5" fill="none" stroke="#000" stroke-width="2.0" stroke-linejoin="round"/>
<polyline points="795.4,49.4 798.1,49.4 800.8,47.5 799.1,47.7 797.9,48.7 798.7,48.8" fill="none" stroke="#000" stroke-width="2.0" stroke-linejoin="round"/>
<polyline points="792.8,50.3 793.8,52.3 796.1,52.8 794.9,51.2 795.1,50.2" fill="none" stroke="#000" stroke-width="2.0" stroke-linejoin="round"/>
<polyline points="776.9,47.0 776.9,47.5 774.1,49.6" fill="none" stroke="#000" stroke-width="2.0" stroke-linejoin="round"/>
<polyline points="777.7,46.8 777.7,47.7 775.1,47.8" fill="none" stroke="#000" stroke-width="2.0" stroke-linejoin="round"/>
<polyline points="773.0,59.1 771.6,58.9 769.4,58.6 771.3,60.4 771.2,59.6 769.3,60.1" fill="none" stroke="#000" stroke-width="2.0" stroke-linejoin="round"/>
<polyline points="796.6,40.8 793.8,39.3 790.8,38.4" fill="none" stroke="#000" stroke-width="2.0" stroke-linejoin="round"/>
<polyline points="787.3,43.4 784.9,44.4 782.7,44.4 781.2,43.1 781.3,42.8 780.6,42.5" fill="none" stroke="#000" stroke-width="2.0" stroke-linejoin="round"/>
<polyline points="778.3,41.5 780.5,41.7 778.8,40.4 779.1,40.8" fill="none" stroke="#000" stroke-width="2.0" stroke-linejoin="round"/>
<polyline points="760.3,58.1 762.7,57.3 761.6,59.2 759.9,61.4 762.2,59.8" fill="none" stroke="#000" stroke-width="2.0" stroke-linejoin="round"/>
<polyline points="765.0,54.0 764.3,53.7 767.0,53.9 768.2,52.6 769.0,53.9" fill="none" stroke="#000" stroke-width="2.0" stroke-linejoin="round"/>
<polyline points="758.4,50.5 760.9,52.6 758.6,52.6 760.1,52.6 761.2,51.3" fill="none" stroke="#000" stroke-width="2.0" stroke-linejoin="round"/>
<polyline points="757.2,40.3 758.8,40.8 761.2,40.8" fill="none" stroke="#000" stroke-width="2.0" stroke-linejoin="round"/>
<polyline points="762.7,40.5 764.8,42.7 767.3,40.9 764.7,42.9" fill="none" stroke="#000" stroke-width="2.0" stroke-linejoin="round"/>
<polyline points="775.3,54.8 774.6,54.5 773.7,53.2 773.0,53.8 770.2,52.5" fill="none" stroke="#000" stroke-width="2.0" stroke-linejoin="round"/>
<polyline points="772.8,45.9 772.2,44.6 770.2,44.6 767.3,46.4 769.1,47.3" fill="none" stroke="#000" stroke-width="2.0" stroke-linejoin="round"/>
<polyline points="793.6,51.8 794.0,50.5 794.5,49.8 796.1,48.8 793.8,49.9 791.8,51.8" fill="none" stroke="#000" stroke-width="2.0" stroke-linejoin="round"/>
<polyline points="760.1,45.3 761.7,46.4 761.2,47.4 758.6,46.7 758.4,44.6" fill="none" stroke="#000" stroke-width="2.0" stroke-linejoin="round"/>
<polyline points="770.4,52.1 768.8,54.0 769.7,53.3" fill="none" stroke="#000" stroke-width="2.0" stroke-linejoin="round"/>
<polyline points="784.3,50.5 783.7,52.7 784.5,53.6" fill="none" stroke="#000" stroke-width="2.0" stroke-linejoin="round"/>
<polyline points="789.0,59.6 786.7,57.8 785.2,57.6" fill="none" stroke="#000" stroke-width="2.0" stroke-linejoin="round"/>
<polyline points="777.2,54.7 774.3,53.7 772.9,53.0 773.2,52.6 773.3,54.1 770.9,53.9" fill="none" stroke="#000" stroke-width="2.0" stroke-linejoin="round"/>
<polyline points="783.7,50.1 783.0,52.0 782.3,54.1" fill="none" stroke="#000" stroke-width="2.0" stroke-linejoin="round"/>
<polyline points="793.4,49.9 792.9,49.9 791.6,49.5" fill="none" stroke="#000" stroke-width="2.0" stroke-linejoin="round"/>
<polyline points="768.4,49.7 769.3,49.9 768.0,50.9 766.8,48.8 765.2,46.7 763.2,47.9" fill="none" stroke="#000" stroke-width="2.0" stroke-linejoin="round"/>
<polyline points="771.9,57.7 769.2,59.9 771.9,58.0 774.3,57.7 774.2,59.8 772.7,59.9" fill="none" stroke="#000" stroke-width="2.0" stroke-linejoin="round"/>
<polyline points="797.1,53.9 795.0,55.9 793.5,56.8 790.8,56.5 788.5,58.1 787.6,56.5" fill="none" stroke="#000" stroke-width="2.0" stroke-linejoin="round"/>
<polyline points="770.7,41.1 770.4,40.0 770.9,39.7 772.6,39.8 775.6,41.8 777.0,40.7" fill="none" stroke="#000" stroke-width="2.0" stroke-linejoin="round"/>
<polyline points="759.2,57.6 757.9,58.1 759.2,59.0 757.4,58.0 755.8,60.0" fill="none" stroke="#000" stroke-width="2.0" stroke-linejoin="round"/>
<polyline points="777.1,52.4 779.4,50.3 776.7,49.3 776.3,49.9" fill="none" stroke="#000" stroke-width="2.0" stroke-linejoin="round"/>
<polyline points="758.7,49.9 760.2,51.7 758.2,50.6" fill="none" stroke="#000" stroke-width="2.0" stroke-linejoin="round"/>
<polyline points="799.1,48.6 797.4,48.0 798.9,49.5 796.3,47.8 798.2,48.3" fill="none" stroke="#000" stroke-width="2.0" stroke-linejoin="round"/>
<polyline points="789.4,42.7 790.8,42.2 788.8,40.7 790.8,41.1 789.5,42.2 791.5,40.9" fill="none" stroke="#000" stroke-width="2.0" stroke-linejoin="round"/>
<polyline points="784.1,50.8 786.3,48.9 783.8,49.2 783.7,50.0 782.5,51.2 780.0,50.0" fill="none" stroke="#000" stroke-width="2.0" stroke-linejoin="round"/>
<polyline points="784.5,39.8 784.4,41.0 783.4,42.6 781.7,43.3 780.7,45.1" fill="none" stroke="#000" stroke-width="2.0" stroke-linejoin="round"/>
<polyline points="768.8,47.7 768.5,49.0 767.3,48.2 766.7,50.1 769.1,49.0" fill="none" stroke="#000" stroke-width="2.0" stroke-linejoin="round"/>
<polyline points="770.6,46.0 771.7,46.4 773.5,47.5 772.7,47.0 770.6,47.4" fill="none" stroke="#000" stroke-width="2.0" stroke-linejoin="round"/>
<polyline points="762.2,40.0 764.4,39.0 761.6,39.1 761.8,39.4 764.6,40.0 766.5,38.1" fill="none" stroke="#000" stroke-width="2.0" stroke-linejoin="round"/>
<polyline points="779.2,55.3 778.2,54.3 775.8,53.5" fill="none" stroke="#000" stroke-width="2.0" stroke-linejoin="round"/>
<polyline points="755.2,52.4 756.7,53.0 755.1,51.8" fill="none" stroke="#000" stroke-width="2.0" stroke-linejoin="round"/>
<polyline points="789.2,49.5 788.6,48.8 791.4,49.5 791.3,49.7 792.7,50.6 795.2,50.2" fill="none" stroke="#000" stroke-width="2.0" stroke-linejoin="round"/>
<polyline points="792.0,52.7 793.8,54.1 796.2,56.2" fill="none" stroke="#000" stroke-width="2.0" stroke-linejoin="round"/>
<polyline points="783.5,49.5 785.3,49.2 784.8,47.6" fill="none" stroke="#000" stroke-width="2.0" stroke-linejoin="round"/>
<polyline points="788.1,59.8 789.2,59.0 788.5,59.1 787.2,60.8 787.0,61.9 785.8,60.3" fill="none" stroke="#000" stroke-width="2.0" stroke-linejoin="round"/>
<polyline points="796.3,58.1 793.4,58.0 795.2,57.2 793.4,56.5 793.9,57.0 793.8,57.0" fill="none" stroke="#000" stroke-width="2.0" stroke-linejoin="round"/>
<polyline points="774.3,57.7 772.4,58.8 771.2,59.0 773.1,58.9 771.7,60.6 774.2,59.9" fill="none" stroke="#000" stroke-width="2.0" stroke-linejoin="round"/>
<polyline points="779.2,59.1 781.4,58.6 779.7,57.0 781.4,59.1 783.2,60.3 784.9,58.4" fill="none" stroke="#000" stroke-width="2.0" stroke-linejoin="round"/>
<polyline points="796.5,57.6 798.9,57.4 797.4,57.1 799.7,56.7 801.3,55.1 803.8,56.5" fill="none" stroke="#000" stroke-width="2.0" stroke-linejoin="round"/>
<polyline points="760.0,54.3 760.1,52.3 760.6,50.9 758.8,52.8 756.7,51.1" fill="none" stroke="#000" stroke-width="2.0" stroke-linejoin="round"/>
<polyline points="770.2,51.5 772.5,52.4 770.0,53.5" fill="none" stroke="#000" stroke-width="2.0" stroke-linejoin="round"/>
<polyline points="779.0,49.1 780.7,48.8 783.2,47.0" fill="none" stroke="#000" stroke-width="2.0" stroke-linejoin="round"/>
<polyline points="792.0,42.6 792.2,41.1 794.2,40.2 793.0,38.4 791.9,38.2 793.1,37.6" fill="none" stroke="#000" stroke-width="2.0" stroke-linejoin="round"/>
<polyline points="785.6,40.3 786.7,41.4 788.4,39.7 788.0,41.3 789.3,41.2 788.1,39.5" fill="none" stroke="#000" stroke-width="2.0" stroke-linejoin="round"/>
<polyline points="789.5,56.8 791.9,55.3 792.7,57.2 794.2,59.2" fill="none" stroke="#000" stroke-width="2.0" stroke-linejoin="round"/>
<polyline points="788.7,50.2 787.3,48.9 788.7,48.2" fill="none" stroke="#000" stroke-width="2.0" stroke-linejoin="round"/>
<polyline points="797.5,50.4 797.2,49.9 794.8,50.4 792.6,51.0 790.6,49.6" fill="none" stroke="#000" stroke-width="2.0" stroke-linejoin="round"/>
<polyline points="755.7,48.2 753.3,46.1 756.2,45.8" fill="none" stroke="#000" stroke-width="2.0" stroke-linejoin="round"/>
<polyline points="789.5,45.5 792.0,43.9 790.3,42.4 791.4,42.3 793.9,42.8 795.3,43.3" fill="none" stroke="#000" stroke-width="2.0" stroke-linejoin="round"/>
<polyline points="768.6,55.4 769.6,55.8 766.7,55.1 765.7,55.8" fill="none" stroke="#000" stroke-width="2.0" stroke-linejoin="round"/>
<polyline points="758.9,46.3 760.6,47.7 761.3,46.2 762.9,48.0 763.2,47.4" fill="none" stroke="#000" stroke-width="2.0" stroke-linejoin="round"/>
<polyline points="777.0,41.1 779.9,41.2 781.2,42.7 779.4,44.6" fill="none" stroke="#000" stroke-width="2.0" stroke-linejoin="round"/>
<polyline points="782.8,42.4 780.7,42.3 780.2,41.5" fill="none" stroke="#000" stroke-width="2.0" stroke-linejoin="round"/>
<polyline points="758.2,57.2 758.0,55.5 760.8,53.9 763.3,54.1 763.6,54.4" fill="none" stroke="#000" stroke-width="2.0" stroke-linejoin="round"/>
<polyline points="766.2,58.0 766.8,56.3 768.7,55.4 771.1,54.3 771.5,55.7" fill="none" stroke="#000" stroke-width="2.0" stroke-linejoin="round"/>
<polyline points="762.5,50.1 762.3,49.6 764.0,51.5" fill="none" stroke="#000" stroke-width="2.0" stroke-linejoin="round"/>
<polyline points="799.9,41.0 800.6,41.7 802.2,40.2 801.7,38.1 801.9,36.4 801.3,35.7" fill="none" stroke="#000" stroke-width="2.0" stroke-linejoin="round"/>
<polyline points="760.0,43.4 757.4,44.6 758.7,45.9 758.1,45.9 755.7,45.2" fill="none" stroke="#000" stroke-width="2.0" stroke-linejoin="round"/>
<polyline points="795.2,58.1 796.8,58.0 799.7,59.5 801.9,59.1 801.5,59.4 803.9,59.5" fill="none" stroke="#000" stroke-width="2.0" stroke-linejoin="round"/>
<polyline points="778.2,47.5 777.1,45.5 778.4,47.3" fill="none" stroke="#000" stroke-width="2.0" stroke-linejoin="round"/>
<polyline points="787.7,51.1 790.0,52.8 788.4,54.3 786.9,56.0 789.7,55.9" fill="none" stroke="#000" stroke-width="2.0" stroke-linejoin="round"/>
<polyline points="758.8,58.0 759.8,60.0 762.1,62.2 763.5,63.8 762.7,64.0" fill="none" stroke="#000" stroke-width="2.0" stroke-linejoin="round"/>
<polyline points="779.9,41.6 780.3,43.4 777.9,44.7 775.7,44.8 778.4,42.6 776.8,41.8" fill="none" stroke="#000" stroke-width="2.0" stroke-linejoin="round"/>
<polyline points="768.9,39.4 770.8,38.9 770.0,39.3 767.2,37.2 769.6,36.4 769.6,38.3" fill="none" stroke="#000" stroke-width="2.0" stroke-linejoin="round"/>
<polyline points="799.0,48.4 797.2,50.0 798.3,48.0 797.2,49.6" fill="none" stroke="#000" stroke-width="2.0" stroke-linejoin="round"/>
<polyline points="795.4,38.4 795.6,37.2 798.3,39.3 799.2,38.4" fill="none" stroke="#000" stroke-width="2.0" stroke-linejoin="round"/>
<polyline points="791.6,59.1 793.8,60.1 791.6,60.9 794.3,60.7 791.7,59.5" fill="none" stroke="#000" stroke-width="2.0" stroke-linejoin="round"/>
<polyline points="768.1,53.6 766.7,54.6 766.8,53.7 765.4,55.0" fill="none" stroke="#000" stroke-width="2.0" stroke-linejoin="round"/>
<polyline points="796.5,17.3 799.4,19.0 797.4,17.8 795.2,18.6" fill="none" stroke="#000" stroke-width="2.0" stroke-linejoin="round"/>
<polyline points="795.3,15.8 795.4,13.8 796.0,12.9" fill="none" stroke="#000" stroke-width="2.0" stroke-linejoin="round"/>
<polyline points="791.0,42.7 789.0,44.9 787.1,43.5" fill="none" stroke="#000" stroke-width="2.0" stroke-linejoin="round"/>
<polyline points="800.7,14.1 803.6,12.0 803.4,13.1 802.7,15.0" fill="none" stroke="#000" stroke-width="2.0" stroke-linejoin="round"/>
<polyline points="796.0,19.7 794.9,19.6 792.1,18.7 794.1,19.3 797.0,20.3" fill="none" stroke="#000" stroke-width="2.0" stroke-linejoin="round"/>
<polyline points="796.6,35.0 794.3,34.7 795.3,34.9 793.9,35.9" fill="none" stroke="#000" stroke-width="2.0" stroke-linejoin="round"/>
<polyline points="800.4,22.6 802.5,23.1 801.1,21.8 803.9,19.8" fill="none" stroke="#000" stroke-width="2.0" stroke-linejoin="round"/>
<polyline points="795.0,45.6 792.9,43.5 792.9,43.2 792.5,42.1 794.3,40.3" fill="none" stroke="#000" stroke-width="2.0" stroke-linejoin="round"/>
<polyline points="804.1,34.0 804.9,32.1 804.4,32.9 806.4,34.0" fill="none" stroke="#000" stroke-width="2.0" stroke-linejoin="round"/>
<polyline points="801.6,41.3 799.1,42.7 797.2,41.6 795.1,42.5 797.1,43.7 794.5,43.4" fill="none" stroke="#000" stroke-width="2.0" stroke-linejoin="round"/>
<polyline points="793.3,21.0 791.1,22.1 791.7,20.5" fill="none" stroke="#000" stroke-width="2.0" stroke-linejoin="round"/>
<polyline points="800.9,32.3 797.9,31.9 798.1,30.1" fill="none" stroke="#000" stroke-width="2.0" stroke-linejoin="round"/>
<polyline points="797.1,30.5 800.0,31.3 801.3,33.3" fill="none" stroke="#000" stroke-width="2.0" stroke-linejoin="round"/>
<polyline points="798.2,23.9 798.6,22.8 798.3,24.7" fill="none" stroke="#000" stroke-width="2.0" stroke-linejoin="round"/>
<polyline points="793.3,25.5 790.5,25.0 791.4,23.1 790.5,24.0" fill="none" stroke="#000" stroke-width="2.0" stroke-linejoin="round"/>
<polyline points="803.3,34.9 803.1,34.4 805.1,33.9 806.8,32.6" fill="none" stroke="#000" stroke-width="2.0" stroke-linejoin="round"/>
<polyline points="792.9,19.8 792.8,19.4 793.4,20.5 793.2,20.5" fill="none" stroke="#000" stroke-width="2.0" stroke-linejoin="round"/>
<polyline points="798.5,19.7 796.8,19.2 794.2,20.0 793.4,19.1 790.5,17.7 789.1,17.2" fill="none" stroke="#000" stroke-width="2.0" stroke-linejoin="round"/>
<polyline points="804.5,39.5 802.1,37.5 803.5,38.7 801.3,37.6 803.3,35.9" fill="none" stroke="#000" stroke-width="2.0" stroke-linejoin="round"/>
<polyline points="806.0,44.0 803.5,45.7 802.4,46.9 802.5,45.0 801.9,43.8 799.1,42.3" fill="none" stroke="#000" stroke-width="2.0" stroke-linejoin="round"/>
<polyline points="797.9,14.2 797.4,14.1 798.5,14.2 798.8,13.3 798.5,12.8" fill="none" stroke="#000" stroke-width="2.0" stroke-linejoin="round"/>
<polyline points="803.6,43.9 803.0,43.4 805.2,42.2 804.0,41.5 802.3,39.5 799.4,40.0" fill="none" stroke="#000" stroke-width="2.0" stroke-linejoin="round"/>
<polyline points="797.3,42.9 798.3,41.0 800.4,41.3 799.5,39.6 801.2,39.1" fill="none" stroke="#000" stroke-width="2.0" stroke-linejoin="round"/>
<polyline points="801.7,22.6 799.4,22.6 799.3,24.5 798.0,25.4 796.4,27.2 794.6,28.4" fill="none" stroke="#000" stroke-width="2.0" stroke-linejoin="round"/>
<polyline points="793.0,39.4 794.5,41.1 796.3,41.1" fill="none" stroke="#000" stroke-width="2.0" stroke-linejoin="round"/>
<polyline points="791.1,44.6 792.3,42.5 791.7,41.9 789.1,41.4 786.4,41.4" fill="none" stroke="#000" stroke-width="2.0" stroke-linejoin="round"/>
<polyline points="797.7,30.4 800.0,28.5 797.2,27.7 796.5,26.8 798.4,28.5" fill="none" stroke="#000" stroke-width="2.0" stroke-linejoin="round"/>
<polyline points="798.8,27.2 801.6,26.6 802.0,28.6 803.7,29.1 804.4,28.7" fill="none" stroke="#000" stroke-width="2.0" stroke-linejoin="round"/>
<polyline points="794.3,23.2 796.6,22.7 799.0,20.7 796.9,20.7 795.7,20.1 798.6,18.5" fill="none" stroke="#000" stroke-width="2.0" stroke-linejoin="round"/>
<polyline points="789.8,21.5 788.3,19.3 788.5,18.8 787.0,18.8" fill="none" stroke="#000" stroke-width="2.0" stroke-linejoin="round"/>
<polyline points="799.0,33.3 797.6,31.5 794.7,32.9 793.0,32.4 790.9,31.1" fill="none" stroke="#000" stroke-width="2.0" stroke-linejoin="round"/>
<polyline points="789.2,25.3 791.1,24.4 790.5,23.8 791.5,23.8 792.4,23.2 793.7,25.1" fill="none" stroke="#000" stroke-width="2.0" stroke-linejoin="round"/>
<polyline points="800.8,45.5 802.7,47.2 801.5,48.7" fill="none" stroke="#000" stroke-width="2.0" stroke-linejoin="round"/>
<polyline points="796.2,38.1 794.2,39.7 796.4,37.8" fill="none" stroke="#000" stroke-width="2.0" stroke-linejoin="round"/>
<polyline points="791.1,31.8 789.6,32.4 788.8,33.2 786.9,34.7 785.1,35.0 782.9,37.1" fill="none" stroke="#000" stroke-width="2.0" stroke-linejoin="round"/>
<polyline points="798.8,17.6 800.6,16.0 799.9,16.7 798.3,15.4 795.4,15.7" fill="none" stroke="#000" stroke-width="2.0" stroke-linejoin="round"/>
<polyline points="804.8,48.9 803.4,47.9 801.9,48.6 801.3,49.4" fill="none" stroke="#000" stroke-width="2.0" stroke-linejoin="round"/>
<polyline points="788.8,18.8 791.0,17.5 790.1,17.6" fill="none" stroke="#000" stroke-width="2.0" stroke-linejoin="round"/>
<polyline points="802.0,28.0 804.0,29.5 802.1,27.6" fill="none" stroke="#000" stroke-width="2.0" stroke-linejoin="round"/>
<polyline points="794.8,45.2 793.1,46.2 792.6,44.6 793.0,45.4 791.3,44.4" fill="none" stroke="#000" stroke-width="2.0" stroke-linejoin="round"/>
<polyline points="803.3,29.4 803.7,31.1 806.0,30.8" fill="none" stroke="#000" stroke-width="2.0" stroke-linejoin="round"/>
<polyline points="789.0,45.7 789.4,44.2 790.2,43.2 788.5,43.1 787.7,42.0" fill="none" stroke="#000" stroke-width="2.0" stroke-linejoin="round"/>
<polyline points="787.0,15.4 788.0,13.2 787.1,11.6 788.8,13.8 788.2,11.7" fill="none" stroke="#000" stroke-width="2.0" stroke-linejoin="round"/>
<polyline points="793.0,33.7 791.3,34.2 793.3,33.1" fill="none" stroke="#000" stroke-width="2.0" stroke-linejoin="round"/>
<polyline points="789.8,23.8 792.7,23.5 794.7,24.5 792.8,22.4" fill="none" stroke="#000" stroke-width="2.0" stroke-linejoin="round"/>
<polyline points="789.4,17.4 788.0,15.3 788.3,13.4" fill="none" stroke="#000" stroke-width="2.0" stroke-linejoin="round"/>
<polyline points="795.3,45.8 798.1,43.6 798.2,45.0" fill="none" stroke="#000" stroke-width="2.0" stroke-linejoin="round"/>
<polyline points="801.8,40.2 800.7,40.3 801.7,41.7 803.3,43.6 803.2,45.1 802.6,46.8" fill="none" stroke="#000" stroke-width="2.0" stroke-linejoin="round"/>
<polyline points="798.5,13.4 796.8,12.9 796.1,13.6 797.9,13.0" fill="none" stroke="#000" stroke-width="2.0" stroke-linejoin="round"/>
<polyline points="798.8,26.1 796.2,26.8 796.7,25.7 795.0,24.3 792.3,22.7" fill="none" stroke="#000" stroke-width="2.0" stroke-linejoin="round"/>
<polyline points="792.1,20.6 789.7,19.1 788.8,18.7 785.9,18.8 785.3,18.0" fill="none" stroke="#000" stroke-width="2.0" stroke-linejoin="round"/>
<polyline points="796.7,48.2 793.9,46.8 791.3,47.2 791.7,46.4" fill="none" stroke="#000" stroke-width="2.0" stroke-linejoin="round"/>
<polyline points="795.5,47.7 794.9,48.6 793.0,47.6 794.0,49.6 793.0,48.2 792.1,50.4" fill="none" stroke="#000" stroke-width="2.0" stroke-linejoin="round"/>
<polyline points="789.0,36.5 791.4,34.5 792.1,33.8 791.8,34.8 791.3,36.9 793.9,35.2" fill="none" stroke="#000" stroke-width="2.0" stroke-linejoin="round"/>
<polyline points="800.8,40.5 801.8,40.2 801.1,39.0 801.7,39.3 801.8,37.3 802.5,37.0" fill="none" stroke="#000" stroke-width="2.0" stroke-linejoin="round"/>
<polyline points="797.9,35.0 795.8,34.9 798.7,35.9 797.6,37.0 800.6,36.5" fill="none" stroke="#000" stroke-width="2.0" stroke-linejoin="round"/>
<polyline points="803.3,17.7 801.0,16.3 803.6,17.6 801.4,15.9 799.0,14.8 797.6,13.4" fill="none" stroke="#000" stroke-width="2.0" stroke-linejoin="round"/>
<polyline points="786.8,25.7 786.5,25.8 788.7,24.5 787.4,25.1 784.8,25.4" fill="none" stroke="#000" stroke-width="2.0" stroke-linejoin="round"/>
<polyline points="801.7,31.2 799.2,31.1 796.5,32.8 799.3,30.9" fill="none" stroke="#000" stroke-width="2.0" stroke-linejoin="round"/>
<polyline points="804.8,43.0 802.4,41.0 801.5,42.6 803.5,40.9" fill="none" stroke="#000" stroke-width="2.0" stroke-linejoin="round"/>
<polyline points="789.6,27.4 792.0,25.5 795.0,24.2 795.7,25.9 797.1,24.5 798.1,24.2" fill="none" stroke="#000" stroke-width="2.0" stroke-linejoin="round"/>
<polyline points="786.3,25.6 788.4,27.5 789.3,26.2 787.6,27.4 785.6,27.8" fill="none" stroke="#000" stroke-width="2.0" stroke-linejoin="round"/>
<polyline points="786.8,23.3 789.5,23.8 788.6,22.4 791.6,23.3 793.0,22.7" fill="none" stroke="#000" stroke-width="2.0" stroke-linejoin="round"/>
<polyline points="792.2,28.1 789.6,27.1 788.9,27.6 787.6,26.0" fill="none" stroke="#000" stroke-width="2.0" stroke-linejoin="round"/>
<polyline points="788.5,16.5 786.9,16.9 785.6,18.5 784.3,20.1 785.4,19.9 788.0,19.4" fill="none" stroke="#000" stroke-width="2.0" stroke-linejoin="round"/>
<polyline points="800.9,35.2 801.7,34.7 800.7,35.0 801.7,34.0 802.6,31.9 803.3,29.7" fill="none" stroke="#000" stroke-width="2.0" stroke-linejoin="round"/>
<polyline points="793.5,35.0 792.8,34.0 790.4,35.6 792.1,33.9 793.0,33.7" fill="none" stroke="#000" stroke-width="2.0" stroke-linejoin="round"/>
<polyline points="790.2,42.2 789.4,43.2 790.4,42.5" fill="none" stroke="#000" stroke-width="2.0" stroke-linejoin="round"/>
<polyline points="804.0,48.1 805.0,46.6 802.4,45.2" fill="none" stroke="#000" stroke-width="2.0" stroke-linejoin="round"/>
<polyline points="796.1,30.7 798.9,32.8 801.9,32.4" fill="none" stroke="#000" stroke-width="2.0" stroke-linejoin="round"/>
<polyline points="802.6,37.0 805.6,35.1 805.3,34.7" fill="none" stroke="#000" stroke-width="2.0" stroke-linejoin="round"/>
<polyline points="799.1,21.1 799.1,22.5 799.2,20.7 801.0,18.6" fill="none" stroke="#000" stroke-width="2.0" stroke-linejoin="round"/>
<polyline points="805.2,38.7 806.1,40.8 806.0,42.5 805.6,41.0 804.8,40.4" fill="none" stroke="#000" stroke-width="2.0" stroke-linejoin="round"/>
<polyline points="802.6,45.6 801.8,45.8 802.0,44.1" fill="none" stroke="#000" stroke-width="2.0" stroke-linejoin="round"/>
<polyline points="801.8,24.2 799.2,23.0 800.2,23.0" fill="none" stroke="#000" stroke-width="2.0" stroke-linejoin="round"/>
<polyline points="792.2,26.1 790.6,25.7 788.0,24.4 787.7,24.7" fill="none" stroke="#000" stroke-width="2.0" stroke-linejoin="round"/>
<polyline points="795.2,44.5 797.0,44.5 794.9,44.8" fill="none" stroke="#000" stroke-width="2.0" stroke-linejoin="round"/>
<polyline points="789.5,35.9 789.0,33.7 786.9,35.1" fill="none" stroke="#000" stroke-width="2.0" stroke-linejoin="round"/>
<polyline points="800.7,39.4 799.5,39.9 798.9,39.9 801.4,40.0" fill="none" stroke="#000" stroke-width="2.0" stroke-linejoin="round"/>
<polyline points="801.3,41.7 800.7,39.8 799.3,38.1 801.8,37.4 801.8,38.1 804.1,40.0" fill="none" stroke="#000" stroke-width="2.0" stroke-linejoin="round"/>
<polyline points="797.4,31.5 796.7,30.7 798.2,29.6" fill="none" stroke="#000" stroke-width="2.0" stroke-linejoin="round"/>
<polyline points="793.4,28.9 792.7,29.5 791.7,27.9 790.5,28.0 788.5,27.5 787.5,28.9" fill="none" stroke="#000" stroke-width="2.0" stroke-linejoin="round"/>
<polyline points="799.5,39.4 798.4,39.3 796.8,40.4" fill="none" stroke="#000" stroke-width="2.0" stroke-linejoin="round"/>
<polyline points="795.7,13.3 796.3,11.6 797.4,11.0 795.9,13.0 797.1,14.5 795.3,15.7" fill="none" stroke="#000" stroke-width="2.0" stroke-linejoin="round"/>
<polyline points="787.1,19.8 787.2,20.9 784.5,19.1" fill="none" stroke="#000" stroke-width="2.0" stroke-linejoin="round"/>
<polyline points="791.0,23.0 791.9,22.4 789.5,22.8 787.0,22.3 785.4,21.2 782.6,19.7" fill="none" stroke="#000" stroke-width="2.0" stroke-linejoin="round"/>
<polyline points="789.1,23.6 786.5,24.7 783.7,25.3 784.1,27.2 784.9,25.0" fill="none" stroke="#000" stroke-width="2.0" stroke-linejoin="round"/>
<polyline points="804.7,40.9 806.6,40.8 805.6,41.3" fill="none" stroke="#000" stroke-width="2.0" stroke-linejoin="round"/>
<polyline points="804.3,43.4 806.0,43.1 807.5,42.6 807.2,42.3" fill="none" stroke="#000" stroke-width="2.0" stroke-linejoin="round"/>
<polyline points="788.4,24.8 790.4,26.8 789.5,28.3" fill="none" stroke="#000" stroke-width="2.0" stroke-linejoin="round"/>
<polyline points="786.2,84.6 785.0,86.6 785.4,88.5 783.7,88.1 783.9,89.6 781.6,91.2" fill="none" stroke="#000" stroke-width="2.0" stroke-linejoin="round"/>
<polyline points="774.7,61.1 777.3,59.8 778.5,59.8 778.1,61.1 778.2,61.0 778.5,62.6" fill="none" stroke="#000" stroke-width="2.0" stroke-linejoin="round"/>
<polyline points="789.1,71.3 788.2,69.9 787.3,70.3" fill="none" stroke="#000" stroke-width="2.0" stroke-linejoin="round"/>
<polyline points="777.0,73.6 776.1,74.0 776.0,76.1 775.0,77.0 773.4,75.9 774.7,76.2" fill="none" stroke="#000" stroke-width="2.0" stroke-linejoin="round"/>
<polyline points="764.3,62.2 763.6,63.2 763.2,63.7 763.6,65.8 766.0,65.6" fill="none" stroke="#000" stroke-width="2.0" stroke-linejoin="round"/>
<polyline points="775.4,68.1 776.4,68.1 774.3,70.3" fill="none" stroke="#000" stroke-width="2.0" stroke-linejoin="round"/>
<polyline points="768.9,65.6 767.9,64.1 770.6,65.2 772.4,63.4 774.1,62.2 772.3,62.4" fill="none" stroke="#000" stroke-width="2.0" stroke-linejoin="round"/>
<polyline points="781.3,64.2 781.8,66.0 784.3,66.8 783.5,68.8" fill="none" stroke="#000" stroke-width="2.0" stroke-linejoin="round"/>
<polyline points="786.5,70.2 784.2,69.6 782.2,71.3 783.2,70.3 783.6,69.3" fill="none" stroke="#000" stroke-width="2.0" stroke-linejoin="round"/>
<polyline points="755.6,61.0 758.3,59.5 757.6,60.9 757.9,59.3 755.4,60.6" fill="none" stroke="#000" stroke-width="2.0" stroke-linejoin="round"/>
<polyline points="759.8,86.3 758.7,85.9 760.3,86.6 760.6,86.5 761.7,85.8" fill="none" stroke="#000" stroke-width="2.0" stroke-linejoin="round"/>
<polyline points="762.4,82.4 762.8,81.7 761.2,83.7 758.8,85.7 759.8,83.8" fill="none" stroke="#000" stroke-width="2.0" stroke-linejoin="round"/>
<polyline points="795.3,63.6 793.5,63.0 792.6,61.4" fill="none" stroke="#000" stroke-width="2.0" stroke-linejoin="round"/>
<polyline points="797.6,83.3 794.7,83.6 797.6,84.4 799.8,85.6" fill="none" stroke="#000" stroke-width="2.0" stroke-linejoin="round"/>
<polyline points="777.0,62.7 774.5,63.6 775.2,65.4 777.5,63.7" fill="none" stroke="#000" stroke-width="2.0" stroke-linejoin="round"/>
<polyline points="758.7,66.8 755.9,68.7 758.3,66.9 760.7,65.8 759.0,64.8 756.9,65.0" fill="none" stroke="#000" stroke-width="2.0" stroke-linejoin="round"/>
<polyline points="793.9,65.4 796.5,63.3 796.4,63.7 797.5,64.2 798.2,66.1 795.7,66.2" fill="none" stroke="#000" stroke-width="2.0" stroke-linejoin="round"/>
<polyline points="798.1,61.1 796.8,60.2 799.8,59.9" fill="none" stroke="#000" stroke-width="2.0" stroke-linejoin="round"/>
<polyline points="759.2,66.5 756.2,64.6 757.9,66.7" fill="none" stroke="#000" stroke-width="2.0" stroke-linejoin="round"/>
<polyline points="792.0,74.3 790.3,73.8 792.7,72.7 790.0,72.1 791.3,72.2" fill="none" stroke="#000" stroke-width="2.0" stroke-linejoin="round"/>
<polyline points="768.9,82.8 766.9,81.3 765.5,81.2 767.2,80.4 765.6,81.1 764.2,81.2" fill="none" stroke="#000" stroke-width="2.0" stroke-linejoin="round"/>
<polyline points="764.2,90.7 763.1,88.8 763.2,89.8 761.4,87.8" fill="none" stroke="#000" stroke-width="2.0" stroke-linejoin="round"/>
<polyline points="763.9,63.2 763.5,61.2 763.9,59.6 764.9,57.8" fill="none" stroke="#000" stroke-width="2.0" stroke-linejoin="round"/>
<polyline points="755.5,89.2 755.0,90.0 753.4,92.2 751.7,93.9" fill="none" stroke="#000" stroke-width="2.0" stroke-linejoin="round"/>
<polyline points="779.0,93.0 778.8,94.4 775.9,94.4" fill="none" stroke="#000" stroke-width="2.0" stroke-linejoin="round"/>
<polyline points="770.3,62.3 768.1,61.0 770.4,63.0 773.0,62.3" fill="none" stroke="#000" stroke-width="2.0" stroke-linejoin="round"/>
<polyline points="796.7,65.0 799.3,63.6 797.2,64.4 799.5,65.4 802.2,65.2" fill="none" stroke="#000" stroke-width="2.0" stroke-linejoin="round"/>
<polyline points="769.9,64.2 767.7,65.8 770.7,66.8 771.7,65.2 770.6,65.5" fill="none" stroke="#000" stroke-width="2.0" stroke-linejoin="round"/>
<polyline points="765.1,78.3 766.7,78.4 769.4,76.5 767.7,74.7 766.6,75.8 769.1,75.8" fill="none" stroke="#000" stroke-width="2.0" stroke-linejoin="round"/>
<polyline points="759.7,71.6 758.5,72.9 761.3,72.7" fill="none" stroke="#000" stroke-width="2.0" stroke-linejoin="round"/>
<polyline points="780.9,89.6 778.2,88.1 778.0,88.8 777.6,89.2 777.9,88.3 775.2,87.8" fill="none" stroke="#000" stroke-width="2.0" stroke-linejoin="round"/>
<polyline points="791.5,93.6 789.8,95.0 789.8,95.6" fill="none" stroke="#000" stroke-width="2.0" stroke-linejoin="round"/>
<polyline points="774.3,66.4 772.3,68.5 771.3,70.0" fill="none" stroke="#000" stroke-width="2.0" stroke-linejoin="round"/>
<polyline points="779.0,84.1 779.7,83.3 778.9,85.0 779.3,84.6 779.6,84.4" fill="none" stroke="#000" stroke-width="2.0" stroke-linejoin="round"/>
<polyline points="768.0,92.0 769.0,92.5 771.4,93.2 771.2,93.5" fill="none" stroke="#000" stroke-width="2.0" stroke-linejoin="round"/>
<polyline points="796.1,86.8 794.5,87.2 792.5,89.1 791.2,87.3 792.3,86.7" fill="none" stroke="#000" stroke-width="2.0" stroke-linejoin="round"/>
<polyline points="778.8,77.4 780.0,78.1 779.4,78.1 781.4,78.4 778.8,77.6 779.6,75.7" fill="none" stroke="#000" stroke-width="2.0" stroke-linejoin="round"/>
<polyline points="758.9,61.0 756.2,60.0 753.5,60.4 752.9,58.3 751.0,58.9 748.6,58.3" fill="none" stroke="#000" stroke-width="2.0" stroke-linejoin="round"/>
<polyline points="754.8,62.5 752.7,61.7 753.7,61.7 756.3,62.4 757.4,62.1 756.2,62.9" fill="none" stroke="#000" stroke-width="2.0" stroke-linejoin="round"/>
<polyline points="758.1,68.6 760.0,70.0 758.1,71.3 756.9,70.2 759.4,68.1" fill="none" stroke="#000" stroke-width="2.0" stroke-linejoin="round"/>
<polyline points="776.6,72.0 779.2,72.6 776.5,73.4 774.2,75.5 776.4,74.7 774.5,75.5" fill="none" stroke="#000" stroke-width="2.0" stroke-linejoin="round"/>
<polyline points="788.4,94.5 789.9,95.2 789.5,94.8 788.9,95.9" fill="none" stroke="#000" stroke-width="2.0" stroke-linejoin="round"/>
<polyline points="752.1,69.3 753.0,69.2 752.3,68.6 749.4,67.1 751.2,65.9 752.1,67.1" fill="none" stroke="#000" stroke-width="2.0" stroke-linejoin="round"/>
<polyline points="785.3,78.1 785.1,78.9 782.3,77.9 783.9,76.1 782.9,74.2" fill="none" stroke="#000" stroke-width="2.0" stroke-linejoin="round"/>
<polyline points="753.3,78.7 756.1,79.9 755.1,78.9 755.2,78.8 752.4,80.4" fill="none" stroke="#000" stroke-width="2.0" stroke-linejoin="round"/>
<polyline points="777.7,76.6 776.4,78.5 775.6,78.2 775.0,77.5" fill="none" stroke="#000" stroke-width="2.0" stroke-linejoin="round"/>
<polyline points="798.0,70.3 796.3,72.2 798.0,74.0 795.5,73.7 795.4,73.3 796.2,74.7" fill="none" stroke="#000" stroke-width="2.0" stroke-linejoin="round"/>
<polyline points="796.4,77.5 796.9,77.1 794.0,75.3 792.1,77.5 792.8,76.1" fill="none" stroke="#000" stroke-width="2.0" stroke-linejoin="round"/>
<polyline points="798.5,87.6 797.1,88.9 794.4,86.9 791.7,89.0 794.4,87.7" fill="none" stroke="#000" stroke-width="2.0" stroke-linejoin="round"/>
<polyline points="764.1,91.7 761.1,91.5 761.8,93.1" fill="none" stroke="#000" stroke-width="2.0" stroke-linejoin="round"/>
<polyline points="799.8,77.4 799.2,78.1 800.3,78.6 797.6,79.5" fill="none" stroke="#000" stroke-width="2.0" stroke-linejoin="round"/>
<polyline points="758.2,61.9 757.6,61.4 759.0,62.4 759.8,61.1 758.2,62.2 761.2,63.8" fill="none" stroke="#000" stroke-width="2.0" stroke-linejoin="round"/>
<polyline points="796.5,82.3 795.3,81.1 797.5,81.1 796.9,80.7 799.3,79.6" fill="none" stroke="#000" stroke-width="2.0" stroke-linejoin="round"/>
<polyline points="790.0,84.8 788.2,85.5 786.5,85.2 784.7,83.1 787.0,83.7 784.5,84.7" fill="none" stroke="#000" stroke-width="2.0" stroke-linejoin="round"/>
<polyline points="782.0,79.3 783.1,79.3 784.9,81.2 787.2,79.3 785.6,78.1 786.2,78.5" fill="none" stroke="#000" stroke-width="2.0" stroke-linejoin="round"/>
<polyline points="799.8,75.9 800.8,74.7 802.4,74.9 805.3,74.2" fill="none" stroke="#000" stroke-width="2.0" stroke-linejoin="round"/>
<polyline points="786.2,60.6 785.2,60.3 782.8,59.7 785.0,58.9 787.7,59.9 787.3,59.9" fill="none" stroke="#000" stroke-width="2.0" stroke-linejoin="round"/>
<polyline points="754.5,67.5 751.9,69.6 753.2,68.9 752.3,68.8 750.9,69.6 750.3,68.1" fill="none" stroke="#000" stroke-width="2.0" stroke-linejoin="round"/>
<polyline points="753.2,86.3 755.1,86.4 752.2,87.5 751.3,89.5 750.2,91.4" fill="none" stroke="#000" stroke-width="2.0" stroke-linejoin="round"/>
<polyline points="790.1,77.3 788.8,78.7 788.3,77.1 789.0,76.9 789.2,79.1 789.6,81.1" fill="none" stroke="#000" stroke-width="2.0" stroke-linejoin="round"/>
<polyline points="768.9,86.6 766.0,86.8 764.0,86.2" fill="none" stroke="#000" stroke-width="2.0" stroke-linejoin="round"/>
<polyline points="762.4,84.7 761.5,84.9 758.7,84.3 759.6,82.8" fill="none" stroke="#000" stroke-width="2.0" stroke-linejoin="round"/>
<polyline points="766.9,90.5 765.2,88.5 767.6,89.1 764.8,87.7" fill="none" stroke="#000" stroke-width="2.0" stroke-linejoin="round"/>
<polyline points="753.0,62.0 754.0,61.1 753.0,61.6" fill="none" stroke="#000" stroke-width="2.0" stroke-linejoin="round"/>
<polyline points="769.4,71.3 771.5,72.1 768.6,74.0 770.4,73.0" fill="none" stroke="#000" stroke-width="2.0" stroke-linejoin="round"/>
<polyline points="776.3,72.6 776.9,71.8 777.7,73.6 779.5,75.3" fill="none" stroke="#000" stroke-width="2.0" stroke-linejoin="round"/>
<polyline points="760.4,66.4 760.3,66.8 759.4,68.0 758.3,69.6" fill="none" stroke="#000" stroke-width="2.0" stroke-linejoin="round"/>
<polyline points="775.0,62.1 776.3,60.1 777.5,58.2 779.5,58.3 780.0,56.6 777.3,55.9" fill="none" stroke="#000" stroke-width="2.0" stroke-linejoin="round"/>
<polyline points="799.3,81.0 796.6,79.3 793.8,80.1 791.8,79.1 792.8,80.0 791.8,79.8" fill="none" stroke="#000" stroke-width="2.0" stroke-linejoin="round"/>
<polyline points="765.9,79.6 764.4,77.5 766.9,76.6 764.0,76.0 763.5,74.5" fill="none" stroke="#000" stroke-width="2.0" stroke-linejoin="round"/>
<polyline points="815.3,64.8 815.2,64.9 814.0,66.6" fill="none" stroke="#000" stroke-width="2.0" stroke-linejoin="round"/>
<polyline points="846.7,84.2 847.9,84.2 847.4,83.7 847.4,83.5 847.6,83.7 849.3,85.4" fill="none" stroke="#000" stroke-width="2.0" stroke-linejoin="round"/>
<polyline points="818.1,58.9 817.4,59.6 814.7,59.4 814.8,58.8 817.3,59.1" fill="none" stroke="#000" stroke-width="2.0" stroke-linejoin="round"/>
<polyline points="831.0,73.6 828.5,73.6 826.9,74.0 827.8,75.6 826.0,73.9 826.2,73.2" fill="none" stroke="#000" stroke-width="2.0" stroke-linejoin="round"/>
<polyline points="829.0,81.4 831.2,81.4 834.2,79.6" fill="none" stroke="#000" stroke-width="2.0" stroke-linejoin="round"/>
<polyline points="859.6,58.6 861.4,59.5 862.9,59.3 865.9,61.0" fill="none" stroke="#000" stroke-width="2.0" stroke-linejoin="round"/>
<polyline points="837.9,81.0 838.4,79.5 838.2,81.3" fill="none" stroke="#000" stroke-width="2.0" stroke-linejoin="round"/>
<polyline points="842.4,67.1 843.3,68.5 846.3,70.3 846.9,68.2 848.3,70.1 848.9,68.9" fill="none" stroke="#000" stroke-width="2.0" stroke-linejoin="round"/>
<polyline points="822.8,65.4 825.7,64.1 823.8,65.4" fill="none" stroke="#000" stroke-width="2.0" stroke-linejoin="round"/>
<polyline points="818.1,65.0 815.3,66.3 813.1,65.0 810.3,63.5 810.2,65.5" fill="none" stroke="#000" stroke-width="2.0" stroke-linejoin="round"/>
<polyline points="823.4,68.9 822.3,67.2 819.3,68.0 821.5,67.1" fill="none" stroke="#000" stroke-width="2.0" stroke-linejoin="round"/>
<polyline points="853.5,85.6 854.8,84.2 854.7,86.2 853.2,85.3 855.7,86.0 853.1,84.7" fill="none" stroke="#000" stroke-width="2.0" stroke-linejoin="round"/>
<polyline points="818.8,70.2 821.7,70.9 822.5,70.4" fill="none" stroke="#000" stroke-width="2.0" stroke-linejoin="round"/>
<polyline points="844.7,78.7 844.2,79.1 841.9,78.0" fill="none" stroke="#000" stroke-width="2.0" stroke-linejoin="round"/>
<polyline points="812.3,73.1 812.7,72.6 815.3,73.3 816.0,72.0 813.0,72.6" fill="none" stroke="#000" stroke-width="2.0" stroke-linejoin="round"/>
<polyline points="840.8,84.3 838.9,85.3 836.4,86.9 833.6,85.5 833.4,87.1 834.1,88.1" fill="none" stroke="#000" stroke-width="2.0" stroke-linejoin="round"/>
<polyline points="847.1,88.3 846.2,86.4 844.9,86.9" fill="none" stroke="#000" stroke-width="2.0" stroke-linejoin="round"/>
<polyline points="854.4,68.1 852.3,69.1 850.1,68.4 853.0,69.7 853.6,68.5 851.7,68.3" fill="none" stroke="#000" stroke-width="2.0" stroke-linejoin="round"/>
<polyline points="829.6,61.1 827.0,62.5 828.8,62.1 828.0,63.2" fill="none" stroke="#000" stroke-width="2.0" stroke-linejoin="round"/>
<polyline points="811.2,58.2 808.4,58.7 806.6,58.0 803.7,59.7 804.2,59.3" fill="none" stroke="#000" stroke-width="2.0" stroke-linejoin="round"/>
<polyline points="835.3,97.5 833.2,98.8 835.5,100.7 833.2,101.3" fill="none" stroke="#000" stroke-width="2.0" stroke-linejoin="round"/>
<polyline points="820.2,70.5 821.7,71.7 822.9,73.6 821.1,73.1" fill="none" stroke="#000" stroke-width="2.0" stroke-linejoin="round"/>
<polyline points="852.1,90.2 852.4,88.5 851.9,89.3" fill="none" stroke="#000" stroke-width="2.0" stroke-linejoin="round"/>
<polyline points="837.9,86.4 840.9,87.9 841.8,89.9 839.7,89.5 840.1,87.9" fill="none" stroke="#000" stroke-width="2.0" stroke-linejoin="round"/>
<polyline points="848.2,60.6 846.4,62.6 845.7,61.6 846.8,63.2 843.9,61.8" fill="none" stroke="#000" stroke-width="2.0" stroke-linejoin="round"/>
<polyline points="833.3,83.4 831.5,83.7 830.6,81.5 827.6,79.3 826.5,78.3" fill="none" stroke="#000" stroke-width="2.0" stroke-linejoin="round"/>
<polyline points="859.5,84.8 859.1,86.6 860.9,85.2" fill="none" stroke="#000" stroke-width="2.0" stroke-linejoin="round"/>
<polyline points="831.0,77.9 829.6,78.2 828.1,79.2 829.7,79.3 830.5,81.2 831.4,83.2" fill="none" stroke="#000" stroke-width="2.0" stroke-linejoin="round"/>
<polyline points="812.8,83.2 812.3,84.7 812.6,83.3" fill="none" stroke="#000" stroke-width="2.0" stroke-linejoin="round"/>
<polyline points="842.4,73.1 841.6,75.0 839.4,75.8" fill="none" stroke="#000" stroke-width="2.0" stroke-linejoin="round"/>
<polyline points="819.8,68.7 822.0,68.2 819.6,68.8 816.8,67.6 814.0,66.1 811.4,66.3" fill="none" stroke="#000" stroke-width="2.0" stroke-linejoin="round"/>
<polyline points="812.9,83.3 815.4,82.8 816.3,82.2 815.9,82.8 814.3,80.9" fill="none" stroke="#000" stroke-width="2.0" stroke-linejoin="round"/>
<polyline points="835.1,71.7 836.8,72.3 836.6,70.2 836.5,69.1 837.1,69.2 837.1,67.2" fill="none" stroke="#000" stroke-width="2.0" stroke-linejoin="round"/>
<polyline points="813.1,83.5 816.0,84.8 814.8,84.6" fill="none" stroke="#000" stroke-width="2.0" stroke-linejoin="round"/>
<polyline points="833.3,91.8 836.1,92.6 838.7,93.4 840.8,91.5 838.5,92.4 838.7,94.5" fill="none" stroke="#000" stroke-width="2.0" stroke-linejoin="round"/>
<polyline points="857.5,76.7 855.1,75.5 852.9,76.1 851.8,75.6 854.3,76.6 851.3,75.2" fill="none" stroke="#000" stroke-width="2.0" stroke-linejoin="round"/>
<polyline points="813.7,64.8 816.0,65.9 813.4,66.7" fill="none" stroke="#000" stroke-width="2.0" stroke-linejoin="round"/>
<polyline points="817.5,76.7 816.2,74.7 817.5,74.4" fill="none" stroke="#000" stroke-width="2.0" stroke-linejoin="round"/>
<polyline points="810.1,81.2 809.9,83.0 811.6,81.7 808.9,82.1 808.7,81.3" fill="none" stroke="#000" stroke-width="2.0" stroke-linejoin="round"/>
<polyline points="855.5,66.8 855.0,65.2 854.8,63.8" fill="none" stroke="#000" stroke-width="2.0" stroke-linejoin="round"/>
<polyline points="809.3,75.5 811.2,74.4 813.2,74.4" fill="none" stroke="#000" stroke-width="2.0" stroke-linejoin="round"/>
<polyline points="835.5,69.9 835.8,69.1 833.8,70.2 835.4,69.5" fill="none" stroke="#000" stroke-width="2.0" stroke-linejoin="round"/>
<polyline points="828.7,87.3 828.5,85.6 826.0,84.1 828.0,84.1" fill="none" stroke="#000" stroke-width="2.0" stroke-linejoin="round"/>
<polyline points="840.8,73.3 838.3,72.1 838.9,71.0 836.4,71.0 836.6,73.1" fill="none" stroke="#000" stroke-width="2.0" stroke-linejoin="round"/>
<polyline points="850.8,91.3 850.3,92.0 849.5,91.6 848.7,92.2 847.8,91.6 849.9,92.9" fill="none" stroke="#000" stroke-width="2.0" stroke-linejoin="round"/>
<polyline points="797.6,93.7 798.7,91.7 798.0,92.0 800.8,90.6 803.3,91.0 804.1,91.9" fill="none" stroke="#000" stroke-width="2.0" stroke-linejoin="round"/>
<polyline points="805.5,81.2 805.7,82.5 805.6,80.7" fill="none" stroke="#000" stroke-width="2.0" stroke-linejoin="round"/>
<polyline points="781.8,88.0 783.6,89.9 785.4,89.0 785.3,87.7" fill="none" stroke="#000" stroke-width="2.0" stroke-linejoin="round"/>
<polyline points="794.8,91.2 793.0,89.5 790.4,90.8 791.0,88.6 790.8,89.1 789.7,87.0" fill="none" stroke="#000" stroke-width="2.0" stroke-linejoin="round"/>
<polyline points="790.9,74.1 790.1,76.0 792.3,76.3 790.1,77.7" fill="none" stroke="#000" stroke-width="2.0" stroke-linejoin="round"/>
<polyline points="782.3,82.3 782.4,80.9 783.1,80.0" fill="none" stroke="#000" stroke-width="2.0" stroke-linejoin="round"/>
<polyline points="788.2,71.8 791.0,73.0 791.9,72.9 793.5,73.6 791.5,73.7" fill="none" stroke="#000" stroke-width="2.0" stroke-linejoin="round"/>
<polyline points="790.8,80.6 788.3,79.1 785.6,77.6 788.3,76.7 788.0,76.6 788.4,75.6" fill="none" stroke="#000" stroke-width="2.0" stroke-linejoin="round"/>
<polyline points="800.2,73.3 802.1,71.1 802.4,69.3 804.7,67.4 803.3,68.6" fill="none" stroke="#000" stroke-width="2.0" stroke-linejoin="round"/>
<polyline points="795.4,86.7 794.3,87.4 793.9,85.3 791.3,85.2 791.5,85.6 791.9,85.8" fill="none" stroke="#000" stroke-width="2.0" stroke-linejoin="round"/>
<polyline points="792.7,98.4 794.7,97.9 792.7,99.4 795.6,97.9" fill="none" stroke="#000" stroke-width="2.0" stroke-linejoin="round"/>
<polyline points="799.7,92.7 800.5,92.1 800.1,93.9 797.6,91.8" fill="none" stroke="#000" stroke-width="2.0" stroke-linejoin="round"/>
<polyline points="801.9,96.3 800.4,97.0 801.7,98.2" fill="none" stroke="#000" stroke-width="2.0" stroke-linejoin="round"/>
<polyline points="791.4,78.3 793.0,79.6 793.1,81.6 795.3,83.6 796.5,82.1 796.7,82.4" fill="none" stroke="#000" stroke-width="2.0" stroke-linejoin="round"/>
<polyline points="804.1,82.0 805.2,80.8 804.3,78.9 802.6,77.3 804.3,75.3 805.4,75.8" fill="none" stroke="#000" stroke-width="2.0" stroke-linejoin="round"/>
<polyline points="788.7,67.4 785.8,68.5 784.2,69.5 786.0,67.7 784.1,66.9" fill="none" stroke="#000" stroke-width="2.0" stroke-linejoin="round"/>
<polyline points="800.0,89.5 797.3,89.4 794.8,87.7 797.6,89.6 795.0,88.7" fill="none" stroke="#000" stroke-width="2.0" stroke-linejoin="round"/>
<polyline points="788.9,81.2 787.0,83.4 785.2,84.7" fill="none" stroke="#000" stroke-width="2.0" stroke-linejoin="round"/>
<polyline points="783.2,72.1 780.6,72.5 779.5,70.7 779.0,72.0 776.2,71.1 778.7,72.5" fill="none" stroke="#000" stroke-width="2.0" stroke-linejoin="round"/>
<polyline points="790.4,63.1 787.8,62.0 789.2,61.3 787.5,59.3 784.8,59.0 785.1,58.5" fill="none" stroke="#000" stroke-width="2.0" stroke-linejoin="round"/>
<polyline points="811.3,104.4 811.0,102.4 811.5,103.7" fill="none" stroke="#000" stroke-width="2.0" stroke-linejoin="round"/>
<polyline points="801.9,109.3 800.6,108.4 798.3,106.4" fill="none" stroke="#000" stroke-width="2.0" stroke-linejoin="round"/>
<polyline points="809.6,100.3 808.8,100.0 808.9,98.0" fill="none" stroke="#000" stroke-width="2.0" stroke-linejoin="round"/>
<polyline points="802.0,111.8 799.6,111.3 798.2,110.8 801.0,111.7 802.8,110.1 801.6,112.1" fill="none" stroke="#000" stroke-width="2.0" stroke-linejoin="round"/>
<polyline points="817.9,112.5 819.9,114.0 820.2,114.2" fill="none" stroke="#000" stroke-width="2.0" stroke-linejoin="round"/>
<polyline points="817.8,109.0 817.0,111.0 815.0,111.2 812.9,112.4" fill="none" stroke="#000" stroke-width="2.0" stroke-linejoin="round"/>
<polyline points="809.8,111.0 811.7,110.7 810.7,112.5 809.9,113.3 811.6,115.3" fill="none" stroke="#000" stroke-width="2.0" stroke-linejoin="round"/>
<polyline points="808.2,106.9 808.7,107.8 806.2,107.6" fill="none" stroke="#000" stroke-width="2.0" stroke-linejoin="round"/>
<text x="824" y="41.5" font-size="32.5" text-anchor="start" font-weight="normal" >Canada</text>
<text x="1" y="47.9" font-size="50" text-anchor="start" font-weight="bold" >a</text>
<text x="4" y="157" font-size="33" text-anchor="start" font-weight="normal" >0</text>
<text x="84.5" y="157" font-size="33" text-anchor="start" font-weight="normal" >100</text>
<text x="176.5" y="157" font-size="33" text-anchor="start" font-weight="normal" >200 km</text>
<rect x="9.5" y="170.3" width="50.2" height="15.4" fill="#999999" stroke="#000" stroke-width="1.4"/>
<rect x="59.7" y="170.3" width="49.3" height="15.4" fill="#ffffff" stroke="#000" stroke-width="1.4"/>
<rect x="109" y="170.3" width="100" height="15.4" fill="#999999" stroke="#000" stroke-width="1.4"/>
<circle cx="24.4" cy="324.4" r="5.1" fill="#fff" stroke="#000" stroke-width="1.5"/>
<circle cx="24.4" cy="363" r="10.7" fill="#000"/>
<circle cx="24.4" cy="406.3" r="15.2" fill="#000"/>
<circle cx="24.4" cy="454.1" r="19.5" fill="#000"/>
<circle cx="24.4" cy="512.1" r="23.4" fill="#000"/>
<text x="60.5" y="334.5" font-size="35.5" text-anchor="start" font-weight="normal" >NA</text>
<text x="59.5" y="374.1" font-size="35.5" text-anchor="start" font-weight="normal" >&lt;4</text>
<text x="60.5" y="419" font-size="35.5" text-anchor="start" font-weight="normal" >5</text>
<text x="60.5" y="465.9" font-size="35.5" text-anchor="start" font-weight="normal" >6</text>
<text x="60.5" y="525.4" font-size="35.5" text-anchor="start" font-weight="normal" >7</text>
<text x="1" y="584.5" font-size="33" text-anchor="start" font-weight="normal" >Microbial</text>
<text x="1" y="623.5" font-size="33" text-anchor="start" font-weight="normal" >cell counts</text>
<text y="664" font-size="33"><tspan x="1">(log</tspan><tspan font-size="19" dy="10.9">10</tspan><tspan x="81.5" dy="-10.9">mL</tspan><tspan font-size="19" dy="-11">-1</tspan><tspan dy="11">)</tspan></text>
<rect x="0" y="799" width="36" height="36" fill="#E6E600"/>
<text x="51.5" y="831" font-size="33" text-anchor="start" font-weight="normal" >younger</text>
<rect x="0" y="855" width="36" height="36" fill="#FF0000"/>
<text x="47" y="887" font-size="33" text-anchor="start" font-weight="normal" >intermediate</text>
<rect x="0" y="911" width="36" height="36" fill="#00CBFF"/>
<text x="47" y="943" font-size="33" text-anchor="start" font-weight="normal" >older w/ sulfate</text>
<rect x="0" y="967" width="36" height="36" fill="#9400CC"/>
<text x="47" y="999" font-size="33" text-anchor="start" font-weight="normal" >older</text>
<rect x="3" y="1121" width="59" height="20" fill="#FFEBBE" stroke="#B07406" stroke-width="1.6"/>
<rect x="3" y="1160.5" width="59" height="19.5" fill="#FAF7E5" stroke="#e8e4da" stroke-width="1.4"/>
<rect x="3" y="1202.5" width="59" height="20" fill="url(#hatchleg)" stroke="#c8c8c8" stroke-width="1.6"/>
<text x="87" y="1141.4" font-size="33" text-anchor="start" font-weight="normal" >Oil sand project</text>
<text x="87" y="1181.6" font-size="33" text-anchor="start" font-weight="normal" >Coal bed methane</text>
<text x="87" y="1222" font-size="33" text-anchor="start" font-weight="normal" >Montney tight sandstone/shale</text>
<text x="1025" y="48.4" font-size="50" text-anchor="start" font-weight="bold" >b</text>
<rect x="1318.7" y="43.2" width="36.2" height="35.6" fill="#FFCC00"/>
<rect x="1318.7" y="99.3" width="36.2" height="35.6" fill="#FF0000"/>
<rect x="1614.4" y="38.9" width="36" height="35.9" fill="#00CBFF"/>
<rect x="1614.4" y="95.2" width="36" height="35.9" fill="#9400CC"/>
<text x="1370" y="74.7" font-size="33" text-anchor="start" font-weight="normal" >younger</text>
<text x="1366" y="130.7" font-size="33" text-anchor="start" font-weight="normal" >intermediate</text>
<text x="1662" y="71.1" font-size="33" text-anchor="start" font-weight="normal" >older w/ sulfate</text>
<text x="1662" y="127" font-size="33" text-anchor="start" font-weight="normal" >older</text>
<line x1="1390.4" y1="216" x2="1390.4" y2="519" stroke="#BEBEBE" stroke-width="1.6"/>
<line x1="1460.5" y1="216" x2="1460.5" y2="519" stroke="#BEBEBE" stroke-width="1.6"/>
<line x1="1530.5" y1="216" x2="1530.5" y2="519" stroke="#BEBEBE" stroke-width="1.6"/>
<line x1="1600.5" y1="216" x2="1600.5" y2="519" stroke="#BEBEBE" stroke-width="1.6"/>
<line x1="1670.6" y1="216" x2="1670.6" y2="519" stroke="#BEBEBE" stroke-width="1.6"/>
<line x1="1740.6" y1="216" x2="1740.6" y2="519" stroke="#BEBEBE" stroke-width="1.6"/>
<line x1="1810.6" y1="216" x2="1810.6" y2="519" stroke="#BEBEBE" stroke-width="1.6"/>
<line x1="1880.6" y1="216" x2="1880.6" y2="519" stroke="#BEBEBE" stroke-width="1.6"/>
<line x1="1950.7" y1="216" x2="1950.7" y2="519" stroke="#BEBEBE" stroke-width="1.6"/>
<line x1="2020.7" y1="216" x2="2020.7" y2="519" stroke="#BEBEBE" stroke-width="1.6"/>
<rect x="1320.4" y="241" width="222.7" height="52.7" fill="#00CBFF" stroke="#000" stroke-width="1.8"/>
<rect x="1543.1" y="241" width="159.7" height="52.7" fill="#FF0000" stroke="#000" stroke-width="1.8"/>
<rect x="1702.8" y="241" width="317.9" height="52.7" fill="#FFCC00" stroke="#000" stroke-width="1.8"/>
<line x1="1301" y1="267.4" x2="1320.4" y2="267.4" stroke="#000" stroke-width="1.8"/>
<text x="1282.5" y="275.8" font-size="29" text-anchor="end" font-weight="normal" >Surficial</text>
<rect x="1320.4" y="333.4" width="367.0" height="52.0" fill="#9400CC" stroke="#000" stroke-width="1.8"/>
<rect x="1687.4" y="333.4" width="133.8" height="52.0" fill="#00CBFF" stroke="#000" stroke-width="1.8"/>
<rect x="1821.1" y="333.4" width="100.1" height="52.0" fill="#FF0000" stroke="#000" stroke-width="1.8"/>
<rect x="1921.3" y="333.4" width="99.4" height="52.0" fill="#FFCC00" stroke="#000" stroke-width="1.8"/>
<line x1="1301" y1="359.4" x2="1320.4" y2="359.4" stroke="#000" stroke-width="1.8"/>
<text x="1282.5" y="370.2" font-size="29" text-anchor="end" font-weight="normal" >Channel</text>
<rect x="1320.4" y="425.5" width="462.9" height="52.7" fill="#9400CC" stroke="#000" stroke-width="1.8"/>
<rect x="1783.3" y="425.5" width="134.5" height="52.7" fill="#00CBFF" stroke="#000" stroke-width="1.8"/>
<rect x="1917.8" y="425.5" width="31.5" height="52.7" fill="#FF0000" stroke="#000" stroke-width="1.8"/>
<rect x="1949.3" y="425.5" width="71.4" height="52.7" fill="#FFCC00" stroke="#000" stroke-width="1.8"/>
<line x1="1301" y1="451.9" x2="1320.4" y2="451.9" stroke="#000" stroke-width="1.8"/>
<text x="1282.5" y="463.8" font-size="29" text-anchor="end" font-weight="normal" >Bedrock</text>
<line x1="1320.4" y1="216" x2="1320.4" y2="519" stroke="#000" stroke-width="2.2"/>
<line x1="1320.4" y1="519" x2="2021.7" y2="519" stroke="#000" stroke-width="2.2"/>
<line x1="1320.4" y1="519" x2="1320.4" y2="545.5" stroke="#000" stroke-width="2.2"/>
<text x="1325.9" y="582.5" font-size="33" text-anchor="middle" font-weight="normal" >0</text>
<line x1="1390.4" y1="519" x2="1390.4" y2="545.5" stroke="#000" stroke-width="2.2"/>
<text x="1396.6" y="582.5" font-size="33" text-anchor="middle" font-weight="normal" >10</text>
<line x1="1460.5" y1="519" x2="1460.5" y2="545.5" stroke="#000" stroke-width="2.2"/>
<text x="1465.0" y="582.5" font-size="33" text-anchor="middle" font-weight="normal" >20</text>
<line x1="1530.5" y1="519" x2="1530.5" y2="545.5" stroke="#000" stroke-width="2.2"/>
<text x="1534.9" y="582.5" font-size="33" text-anchor="middle" font-weight="normal" >30</text>
<line x1="1600.5" y1="519" x2="1600.5" y2="545.5" stroke="#000" stroke-width="2.2"/>
<text x="1605.2" y="582.5" font-size="33" text-anchor="middle" font-weight="normal" >40</text>
<line x1="1670.6" y1="519" x2="1670.6" y2="545.5" stroke="#000" stroke-width="2.2"/>
<text x="1674.4" y="582.5" font-size="33" text-anchor="middle" font-weight="normal" >50</text>
<line x1="1740.6" y1="519" x2="1740.6" y2="545.5" stroke="#000" stroke-width="2.2"/>
<text x="1744.1" y="582.5" font-size="33" text-anchor="middle" font-weight="normal" >60</text>
<line x1="1810.6" y1="519" x2="1810.6" y2="545.5" stroke="#000" stroke-width="2.2"/>
<text x="1813.1" y="582.5" font-size="33" text-anchor="middle" font-weight="normal" >70</text>
<line x1="1880.6" y1="519" x2="1880.6" y2="545.5" stroke="#000" stroke-width="2.2"/>
<text x="1883.1" y="582.5" font-size="33" text-anchor="middle" font-weight="normal" >80</text>
<line x1="1950.7" y1="519" x2="1950.7" y2="545.5" stroke="#000" stroke-width="2.2"/>
<text x="1952.9" y="582.5" font-size="33" text-anchor="middle" font-weight="normal" >90</text>
<line x1="2020.7" y1="519" x2="2020.7" y2="545.5" stroke="#000" stroke-width="2.2"/>
<text x="2023.1" y="582.5" font-size="33" text-anchor="middle" font-weight="normal" >100</text>
<text x="1525" y="622" font-size="33" text-anchor="start" font-weight="normal" >Relative proportion (%)</text>
<line x1="1389.3" y1="719.4" x2="1389.3" y2="1116" stroke="#BEBEBE" stroke-width="1.6"/>
<line x1="1459.6" y1="719.4" x2="1459.6" y2="1116" stroke="#BEBEBE" stroke-width="1.6"/>
<line x1="1529.9" y1="719.4" x2="1529.9" y2="1116" stroke="#BEBEBE" stroke-width="1.6"/>
<line x1="1600.2" y1="719.4" x2="1600.2" y2="1116" stroke="#BEBEBE" stroke-width="1.6"/>
<line x1="1670.5" y1="719.4" x2="1670.5" y2="1116" stroke="#BEBEBE" stroke-width="1.6"/>
<line x1="1740.8" y1="719.4" x2="1740.8" y2="1116" stroke="#BEBEBE" stroke-width="1.6"/>
<line x1="1811.1" y1="719.4" x2="1811.1" y2="1116" stroke="#BEBEBE" stroke-width="1.6"/>
<line x1="1881.4" y1="719.4" x2="1881.4" y2="1116" stroke="#BEBEBE" stroke-width="1.6"/>
<line x1="1951.7" y1="719.4" x2="1951.7" y2="1116" stroke="#BEBEBE" stroke-width="1.6"/>
<line x1="2022.0" y1="719.4" x2="2022.0" y2="1116" stroke="#BEBEBE" stroke-width="1.6"/>
<rect x="1319.0" y="749" width="175.8" height="39.8" fill="#9400CC" stroke="#000" stroke-width="1.8"/>
<rect x="1494.8" y="749" width="175.8" height="39.8" fill="#00CBFF" stroke="#000" stroke-width="1.8"/>
<rect x="1670.5" y="749" width="127.9" height="39.8" fill="#FF0000" stroke="#000" stroke-width="1.8"/>
<rect x="1798.4" y="749" width="223.6" height="39.8" fill="#FFCC00" stroke="#000" stroke-width="1.8"/>
<line x1="1301" y1="768.9" x2="1319" y2="768.9" stroke="#000" stroke-width="1.8"/>
<text x="1282.5" y="778.4" font-size="29" text-anchor="end" font-weight="normal" >Quaternary</text>
<rect x="1319.0" y="807" width="445.0" height="39.5" fill="#9400CC" stroke="#000" stroke-width="1.8"/>
<rect x="1764.0" y="807" width="163.8" height="39.5" fill="#00CBFF" stroke="#000" stroke-width="1.8"/>
<rect x="1927.8" y="807" width="23.9" height="39.5" fill="#FF0000" stroke="#000" stroke-width="1.8"/>
<rect x="1951.7" y="807" width="70.3" height="39.5" fill="#FFCC00" stroke="#000" stroke-width="1.8"/>
<line x1="1301" y1="826.8" x2="1319" y2="826.8" stroke="#000" stroke-width="1.8"/>
<text x="1282.5" y="836.5" font-size="29" text-anchor="end" font-weight="normal" >Paskapoo</text>
<rect x="1319.0" y="865" width="468.2" height="39.2" fill="#9400CC" stroke="#000" stroke-width="1.8"/>
<rect x="1787.2" y="865" width="94.2" height="39.2" fill="#00CBFF" stroke="#000" stroke-width="1.8"/>
<rect x="1881.4" y="865" width="46.4" height="39.2" fill="#FF0000" stroke="#000" stroke-width="1.8"/>
<rect x="1927.8" y="865" width="94.2" height="39.2" fill="#FFCC00" stroke="#000" stroke-width="1.8"/>
<line x1="1301" y1="884.6" x2="1319" y2="884.6" stroke="#000" stroke-width="1.8"/>
<text x="1282.5" y="894.7" font-size="29" text-anchor="end" font-weight="normal" >HSC</text>
<rect x="1319.0" y="923" width="116.7" height="39.0" fill="#9400CC" stroke="#000" stroke-width="1.8"/>
<rect x="1435.7" y="923" width="351.5" height="39.0" fill="#00CBFF" stroke="#000" stroke-width="1.8"/>
<rect x="1787.2" y="923" width="117.4" height="39.0" fill="#FF0000" stroke="#000" stroke-width="1.8"/>
<rect x="1904.6" y="923" width="117.4" height="39.0" fill="#FFCC00" stroke="#000" stroke-width="1.8"/>
<line x1="1301" y1="942.5" x2="1319" y2="942.5" stroke="#000" stroke-width="1.8"/>
<text x="1282.5" y="952.8" font-size="29" text-anchor="end" font-weight="normal" >Bearpaw</text>
<rect x="1319.0" y="981" width="639.0" height="39.0" fill="#9400CC" stroke="#000" stroke-width="1.8"/>
<rect x="1958.0" y="981" width="64.0" height="39.0" fill="#00CBFF" stroke="#000" stroke-width="1.8"/>
<line x1="1301" y1="1000.5" x2="1319" y2="1000.5" stroke="#000" stroke-width="1.8"/>
<text x="1282.5" y="1009.5" font-size="29" text-anchor="end" font-weight="normal" >Belly River Gp.</text>
<rect x="1319.0" y="1038.8" width="703.0" height="39.4" fill="#9400CC" stroke="#000" stroke-width="1.8"/>
<line x1="1301" y1="1058.5" x2="1319" y2="1058.5" stroke="#000" stroke-width="1.8"/>
<text x="1282.5" y="1068.2" font-size="29" text-anchor="end" font-weight="normal" >Milk River</text>
<line x1="1319" y1="719.4" x2="1319" y2="1116" stroke="#000" stroke-width="2.2"/>
<line x1="1295" y1="1116" x2="2023.0" y2="1116" stroke="#000" stroke-width="2.2"/>
<line x1="1319.0" y1="1116" x2="1319.0" y2="1142.5" stroke="#000" stroke-width="2.2"/>
<text x="1324.8" y="1178.4" font-size="33" text-anchor="middle" font-weight="normal" >0</text>
<line x1="1389.3" y1="1116" x2="1389.3" y2="1142.5" stroke="#000" stroke-width="2.2"/>
<text x="1395.7" y="1178.4" font-size="33" text-anchor="middle" font-weight="normal" >10</text>
<line x1="1459.6" y1="1116" x2="1459.6" y2="1142.5" stroke="#000" stroke-width="2.2"/>
<text x="1464.1" y="1178.4" font-size="33" text-anchor="middle" font-weight="normal" >20</text>
<line x1="1529.9" y1="1116" x2="1529.9" y2="1142.5" stroke="#000" stroke-width="2.2"/>
<text x="1534.3" y="1178.4" font-size="33" text-anchor="middle" font-weight="normal" >30</text>
<line x1="1600.2" y1="1116" x2="1600.2" y2="1142.5" stroke="#000" stroke-width="2.2"/>
<text x="1603.7" y="1178.4" font-size="33" text-anchor="middle" font-weight="normal" >40</text>
<line x1="1670.5" y1="1116" x2="1670.5" y2="1142.5" stroke="#000" stroke-width="2.2"/>
<text x="1672.8" y="1178.4" font-size="33" text-anchor="middle" font-weight="normal" >50</text>
<line x1="1740.8" y1="1116" x2="1740.8" y2="1142.5" stroke="#000" stroke-width="2.2"/>
<text x="1743.0" y="1178.4" font-size="33" text-anchor="middle" font-weight="normal" >60</text>
<line x1="1811.1" y1="1116" x2="1811.1" y2="1142.5" stroke="#000" stroke-width="2.2"/>
<text x="1813.6" y="1178.4" font-size="33" text-anchor="middle" font-weight="normal" >70</text>
<line x1="1881.4" y1="1116" x2="1881.4" y2="1142.5" stroke="#000" stroke-width="2.2"/>
<text x="1881.8" y="1178.4" font-size="33" text-anchor="middle" font-weight="normal" >80</text>
<line x1="1951.7" y1="1116" x2="1951.7" y2="1142.5" stroke="#000" stroke-width="2.2"/>
<text x="1951.4" y="1178.4" font-size="33" text-anchor="middle" font-weight="normal" >90</text>
<line x1="2022.0" y1="1116" x2="2022.0" y2="1142.5" stroke="#000" stroke-width="2.2"/>
<text x="2022.2" y="1178.4" font-size="33" text-anchor="middle" font-weight="normal" >100</text>
<text x="1525" y="1221.8" font-size="33" text-anchor="start" font-weight="normal" >Relative proportion (%)</text>
<polyline points="1159,261.7 1113.9,261.7 1113.9,358.8 1162.4,358.8" fill="none" stroke="#000" stroke-width="1.8"/>
<line x1="1113.9" y1="452" x2="1163.4" y2="452" stroke="#000" stroke-width="1.8"/>
<polyline points="1102,824 1070.7,824 1070.7,1058 1104,1058" fill="none" stroke="#000" stroke-width="1.8"/>
<text transform="translate(1053.3,308.5) rotate(-90)" x="0" y="0" font-size="32.6" text-anchor="middle">(Neogene-</text>
<text transform="translate(1093.1,299.1) rotate(-90)" x="0" y="0" font-size="32.6" text-anchor="middle">Quaternary)</text>
<text transform="translate(1053.7,527.9) rotate(-90)" x="0" y="0" font-size="32.6" text-anchor="middle">(Paleogene</text>
<text transform="translate(1092.9,528.3) rotate(-90)" x="0" y="0" font-size="32.6" text-anchor="middle">or Cretaceous)</text>
<text transform="translate(1053.1,929) rotate(-90)" x="0" y="0" font-size="33" text-anchor="middle">&lt; Paleogene&#160;&#160;Cretaceous &gt;</text>
</svg>
</body></html>
